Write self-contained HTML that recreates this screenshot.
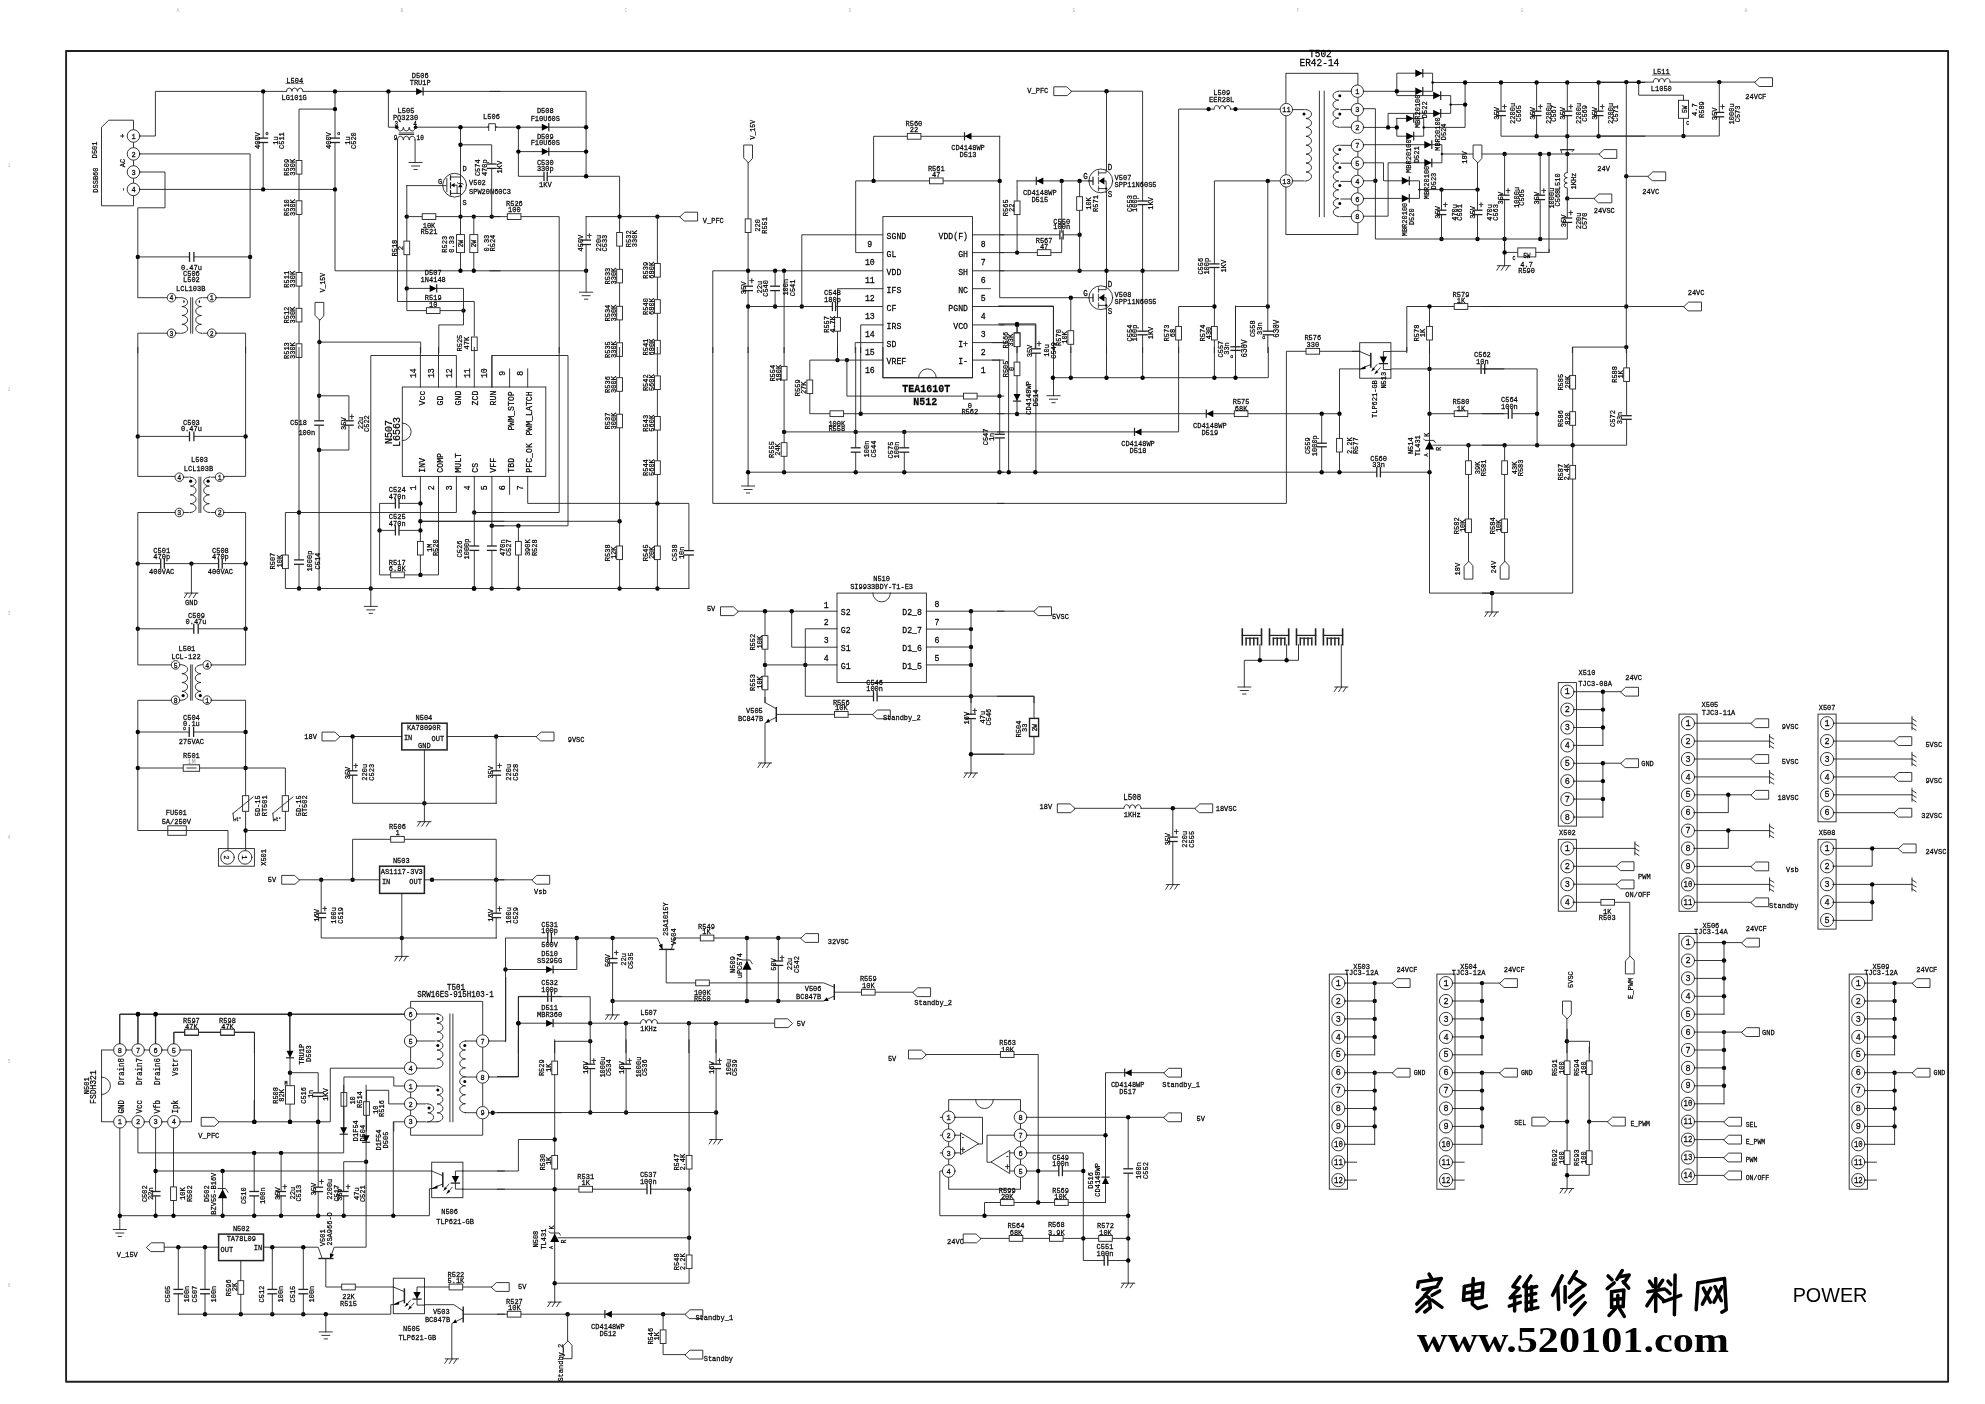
<!DOCTYPE html>
<html><head><meta charset="utf-8"><title>POWER</title>
<style>
html,body{margin:0;padding:0;background:#fff}
svg{display:block;will-change:transform;transform:translateZ(0)}
svg *{vector-effect:none}
text{font-family:"Liberation Mono",monospace;font-size:7px;fill:#000;stroke:#000;stroke-width:0.22px;text-anchor:middle}
polyline,path.n{fill:none}
.b{fill:#fff}
.wf{fill:#fff;stroke:none}
.d{fill:#000;stroke:none}
.g{fill:#bbb;stroke:none}
.g2{fill:#999;stroke:none}
.bd{font-weight:bold}
</style></head><body>
<svg width="1985" height="1404" viewBox="0 0 1985 1404" stroke="#222" stroke-width="0.9" stroke-linecap="square" fill="none">
<rect x="0" y="0" width="1985" height="1404" class="wf"/>
<rect x="66.1" y="51" width="1882" height="1330.7" stroke="#202020" stroke-width="1.9" stroke-linejoin="round" fill="none"/>
<polyline points="133.5,129.7 133.5,120.2 108.8,120.2 101.5,127.2 101.5,205.8 133.5,205.8 133.5,195.7"/>
<polyline points="133.5,142.3 133.5,147.6"/>
<polyline points="133.5,160.2 133.5,165.7"/>
<polyline points="133.5,178.3 133.5,183.1"/>
<circle cx="133.5" cy="136.0" r="6.3" class="b"/>
<text transform="translate(133.5 136.0) scale(1 1.15)" y="2.3">1</text>
<circle cx="133.5" cy="153.9" r="6.3" class="b"/>
<text transform="translate(133.5 153.9) scale(1 1.15)" y="2.3">2</text>
<circle cx="133.5" cy="172.0" r="6.3" class="b"/>
<text transform="translate(133.5 172.0) scale(1 1.15)" y="2.3">3</text>
<circle cx="133.5" cy="189.4" r="6.3" class="b"/>
<text transform="translate(133.5 189.4) scale(1 1.15)" y="2.3">4</text>
<text transform="translate(94.5 149.9) rotate(-90) scale(1 1.15)" y="2.3">D501</text>
<text transform="translate(95.2 180.1) rotate(-90) scale(1 1.15)" y="2.3">DSSB60</text>
<text transform="translate(122.7 163.0) rotate(-90) scale(1 1.15)" y="2.3">AC</text>
<text transform="translate(121.9 136.0) rotate(-90) scale(1 1.15)" y="2.3">+</text>
<text transform="translate(121.9 189.4) rotate(-90) scale(1 1.15)" y="2.3">-</text>
<polyline points="139.8,136.0 155.4,136.0 155.4,91.4 286.4,91.4"/>
<polyline points="303.0,91.4 416.1,91.4"/>
<rect x="286.4" y="89.9" width="16.6" height="3" class="wf"/>
<path d="M286.4 91.4 a2.77 3.6 0 0 1 5.53 0 a2.77 3.6 0 0 1 5.53 0 a2.77 3.6 0 0 1 5.53 0" class="n"/>
<polyline points="139.8,153.9 250.1,153.9 250.1,297.7 216.1,297.7"/>
<polyline points="139.8,172.0 165.0,172.0 165.0,207.8 137.8,207.8 137.8,297.7 167.3,297.7"/>
<polyline points="139.8,189.4 335.0,189.4"/>
<polyline points="263.2,91.4 263.2,189.4"/>
<rect x="261.2" y="138.1" width="4" height="4.4" class="wf"/>
<line x1="258.9" y1="138.1" x2="267.5" y2="138.1" stroke-width="1.3"/>
<line x1="258.9" y1="142.5" x2="267.5" y2="142.5" stroke-width="1.3"/>
<polyline points="335.0,91.4 335.0,270.8 500.0,270.8"/>
<rect x="333.0" y="138.1" width="4" height="4.4" class="wf"/>
<line x1="330.7" y1="138.1" x2="339.3" y2="138.1" stroke-width="1.3"/>
<line x1="330.7" y1="142.5" x2="339.3" y2="142.5" stroke-width="1.3"/>
<polyline points="335.0,109.1 299.0,109.1 299.0,352.6"/>
<circle cx="263.2" cy="91.4" r="2.2" class="d"/>
<circle cx="335.0" cy="91.4" r="2.2" class="d"/>
<circle cx="388.4" cy="91.4" r="2.2" class="d"/>
<circle cx="335.0" cy="109.1" r="2.2" class="d"/>
<circle cx="263.2" cy="189.4" r="2.2" class="d"/>
<circle cx="335.0" cy="189.4" r="2.2" class="d"/>
<circle cx="137.8" cy="256.9" r="2.2" class="d"/>
<circle cx="250.1" cy="256.9" r="2.2" class="d"/>
<polyline points="137.8,256.9 250.1,256.9"/>
<rect x="189.5" y="254.9" width="4.4" height="4" class="wf"/>
<line x1="189.5" y1="252.6" x2="189.5" y2="261.2" stroke-width="1.3"/>
<line x1="193.9" y1="252.6" x2="193.9" y2="261.2" stroke-width="1.3"/>
<text transform="translate(191.4 267.8) scale(1 1.15)" y="2.3">0.47u</text>
<text transform="translate(191.4 273.3) scale(1 1.15)" y="2.3">C506</text>
<text transform="translate(191.4 279.6) scale(1 1.15)" y="2.3">L502</text>
<text transform="translate(190.7 288.4) scale(1 1.15)" y="2.3">LCL103B</text>
<circle cx="171.5" cy="297.7" r="4.3" class="b"/>
<text transform="translate(171.5 297.7) scale(1 1.15)" y="2.3" style="font-size:6.5px;">4</text>
<circle cx="211.8" cy="297.7" r="4.3" class="b"/>
<text transform="translate(211.8 297.7) scale(1 1.15)" y="2.3" style="font-size:6.5px;">1</text>
<circle cx="171.5" cy="333.2" r="4.3" class="b"/>
<text transform="translate(171.5 333.2) scale(1 1.15)" y="2.3" style="font-size:6.5px;">3</text>
<circle cx="211.8" cy="333.2" r="4.3" class="b"/>
<text transform="translate(211.8 333.2) scale(1 1.15)" y="2.3" style="font-size:6.5px;">2</text>
<polyline points="190.7,297.7 190.7,333.2"/>
<polyline points="192.7,297.7 192.7,333.2"/>
<circle cx="183.1" cy="301.5" r="1.6" class="d"/>
<circle cx="200.3" cy="301.5" r="1.6" class="d"/>
<polyline points="175.8,297.7 181.9,297.7"/>
<polyline points="175.8,333.2 181.9,333.2"/>
<polyline points="207.6,297.7 201.5,297.7"/>
<polyline points="207.6,333.2 201.5,333.2"/>
<rect x="180.4" y="297.7" width="3" height="35.5" class="wf"/>
<path d="M181.9 297.7 a5.77 4.44 0 0 1 0 8.88 a5.77 4.44 0 0 1 0 8.88 a5.77 4.44 0 0 1 0 8.88 a5.77 4.44 0 0 1 0 8.88" class="n"/>
<rect x="200.0" y="297.7" width="3" height="35.5" class="wf"/>
<path d="M201.5 297.7 a5.77 4.44 0 0 0 0 8.88 a5.77 4.44 0 0 0 0 8.88 a5.77 4.44 0 0 0 0 8.88 a5.77 4.44 0 0 0 0 8.88" class="n"/>
<polyline points="167.3,333.2 137.8,333.2 137.8,352.6"/>
<polyline points="216.1,333.2 245.6,333.2 245.6,352.6"/>
<rect x="296.1" y="160.5" width="5.8" height="13.6" class="b"/>
<rect x="296.1" y="200.8" width="5.8" height="13.6" class="b"/>
<rect x="296.1" y="272.5" width="5.8" height="13.6" class="b"/>
<rect x="296.1" y="308.3" width="5.8" height="13.6" class="b"/>
<rect x="296.1" y="343.8" width="5.8" height="13.6" class="b"/>
<text transform="translate(286.4 167.3) rotate(-90) scale(1 1.15)" y="2.3">R509</text>
<text transform="translate(292.2 167.3) rotate(-90) scale(1 1.15)" y="2.3">330K</text>
<text transform="translate(286.4 207.6) rotate(-90) scale(1 1.15)" y="2.3">R510</text>
<text transform="translate(292.2 207.6) rotate(-90) scale(1 1.15)" y="2.3">330K</text>
<text transform="translate(286.4 279.3) rotate(-90) scale(1 1.15)" y="2.3">R511</text>
<text transform="translate(292.2 279.3) rotate(-90) scale(1 1.15)" y="2.3">330K</text>
<text transform="translate(286.4 315.1) rotate(-90) scale(1 1.15)" y="2.3">R512</text>
<text transform="translate(292.2 315.1) rotate(-90) scale(1 1.15)" y="2.3">330K</text>
<text transform="translate(286.4 350.6) rotate(-90) scale(1 1.15)" y="2.3">R513</text>
<text transform="translate(292.2 350.6) rotate(-90) scale(1 1.15)" y="2.3">330K</text>
<text transform="translate(256.9 140.6) rotate(-90) scale(1 1.15)" y="2.3">400V</text>
<text transform="translate(275.1 140.6) rotate(-90) scale(1 1.15)" y="2.3">1u</text>
<text transform="translate(281.6 140.6) rotate(-90) scale(1 1.15)" y="2.3">C511</text>
<text transform="translate(267.0 132.7) scale(1 1.15)" y="2.3" style="font-size:5px;">o</text>
<text transform="translate(328.7 140.6) rotate(-90) scale(1 1.15)" y="2.3">400V</text>
<text transform="translate(347.6 140.6) rotate(-90) scale(1 1.15)" y="2.3">1u</text>
<text transform="translate(353.1 140.6) rotate(-90) scale(1 1.15)" y="2.3">C520</text>
<text transform="translate(338.8 132.7) scale(1 1.15)" y="2.3" style="font-size:5px;">o</text>
<text transform="translate(294.7 80.6) scale(1 1.15)" y="2.3">L504</text>
<polyline points="285.9,83.6 303.5,83.6" stroke-width="0.6"/>
<text transform="translate(294.2 97.0) scale(1 1.15)" y="2.3">LG101G</text>
<text transform="translate(420.2 75.6) scale(1 1.15)" y="2.3">D506</text>
<text transform="translate(420.2 82.1) scale(1 1.15)" y="2.3">TRU1P</text>
<polygon points="416.1,87.9 416.1,94.9 423.1,91.4" class="d"/>
<line x1="423.1" y1="87.9" x2="423.1" y2="94.9" stroke-width="1.2"/>
<polyline points="423.2,91.4 500.0,91.4"/>
<polyline points="388.4,91.4 388.4,127.2 396.7,127.2"/>
<text transform="translate(406.0 110.8) scale(1 1.15)" y="2.3">L505</text>
<text transform="translate(405.5 117.4) scale(1 1.15)" y="2.3">PQ3230</text>
<rect x="397.5" y="125.7" width="17.6" height="3" class="wf"/>
<path d="M397.5 127.2 a2.93 3.81 0 0 0 5.87 0 a2.93 3.81 0 0 0 5.87 0 a2.93 3.81 0 0 0 5.87 0" class="n"/>
<rect x="397.5" y="138.6" width="17.6" height="3" class="wf"/>
<path d="M397.5 140.1 a2.93 3.81 0 0 1 5.87 0 a2.93 3.81 0 0 1 5.87 0 a2.93 3.81 0 0 1 5.87 0" class="n"/>
<polyline points="399.2,133.0 413.6,133.0"/>
<polyline points="399.2,134.5 413.6,134.5"/>
<text transform="translate(395.5 137.5) scale(1 1.15)" y="2.3" style="font-size:6px;">9</text>
<text transform="translate(420.2 137.5) scale(1 1.15)" y="2.3" style="font-size:6px;">10</text>
<text transform="translate(396.2 123.4) scale(1 1.15)" y="2.3" style="font-size:6px;">3</text>
<text transform="translate(415.1 123.4) scale(1 1.15)" y="2.3" style="font-size:6px;">4</text>
<circle cx="396.7" cy="127.2" r="1.8" class="d"/>
<circle cx="415.6" cy="127.2" r="1.8" class="d"/>
<polyline points="415.6,127.2 488.7,127.2"/>
<polyline points="415.1,140.1 415.1,162.5"/>
<line x1="409.1" y1="162.5" x2="422.1" y2="162.5"/>
<line x1="411.6" y1="166.0" x2="419.6" y2="166.0"/>
<line x1="414.0" y1="169.5" x2="417.2" y2="169.5"/>
<polyline points="397.5,140.1 397.5,301.5 474.3,301.5 474.3,335.8"/>
<polyline points="460.5,127.2 460.5,270.8"/>
<circle cx="454.6" cy="185.2" r="11.9"/>
<polyline points="406.8,185.6 446.6,185.6"/>
<line x1="446.8" y1="178.7" x2="446.8" y2="191.7" stroke-width="1.2" stroke="#555"/>
<line x1="450.5" y1="175.8" x2="450.5" y2="179.9" stroke-width="1.2"/>
<line x1="450.5" y1="182.7" x2="450.5" y2="188.1" stroke-width="1.2"/>
<line x1="450.5" y1="190.5" x2="450.5" y2="195.0" stroke-width="1.2"/>
<line x1="450.5" y1="177.0" x2="460.4" y2="177.0"/>
<line x1="450.5" y1="193.4" x2="460.4" y2="193.4"/>
<polygon points="450.9,185.2 454.6,183.1 454.6,187.3" class="d"/>
<polyline points="454.6,185.2 457.1,185.2 457.1,193.4"/>
<polygon points="460.4,183.6 458.1,187.2 462.6,187.2" class="d"/>
<polyline points="457.6,182.6 458.2,183.5 462.5,183.5 463.1,184.4"/>
<text transform="translate(440.1 181.4) scale(1 1.15)" y="2.3">G</text>
<text transform="translate(464.7 168.3) scale(1 1.15)" y="2.3">D</text>
<text transform="translate(464.7 202.8) scale(1 1.15)" y="2.3">S</text>
<text transform="translate(469.0 181.9) scale(1 1.15)" y="2.3" style="text-anchor:start;">V502</text>
<text transform="translate(469.0 190.9) scale(1 1.15)" y="2.3" style="text-anchor:start;">SPW20N60C3</text>
<circle cx="460.5" cy="127.2" r="2.2" class="d"/>
<circle cx="460.5" cy="144.8" r="2.2" class="d"/>
<circle cx="406.8" cy="216.6" r="2.2" class="d"/>
<circle cx="460.5" cy="216.6" r="2.2" class="d"/>
<circle cx="473.8" cy="216.6" r="2.2" class="d"/>
<circle cx="491.7" cy="216.6" r="2.2" class="d"/>
<circle cx="460.5" cy="270.8" r="2.2" class="d"/>
<circle cx="473.8" cy="270.8" r="2.2" class="d"/>
<circle cx="406.8" cy="288.4" r="2.2" class="d"/>
<circle cx="463.5" cy="310.6" r="2.2" class="d"/>
<polyline points="460.5,144.8 491.7,144.8 491.7,216.6"/>
<polyline points="406.8,185.6 406.8,310.6 426.4,310.6"/>
<polyline points="440.3,310.6 463.5,310.6"/>
<polyline points="406.8,216.6 500.0,216.6"/>
<rect x="422.2" y="213.7" width="13.6" height="5.8" class="b"/>
<polyline points="473.8,216.6 473.8,270.8"/>
<rect x="456.5" y="234.6" width="8" height="18" class="b"/>
<rect x="469.8" y="234.6" width="8" height="18" class="b"/>
<text transform="translate(429.0 225.4) scale(1 1.15)" y="2.3">10K</text>
<text transform="translate(429.0 231.7) scale(1 1.15)" y="2.3">R521</text>
<text transform="translate(444.6 244.3) rotate(-90) scale(1 1.15)" y="2.3">R523</text>
<text transform="translate(450.9 244.3) rotate(-90) scale(1 1.15)" y="2.3">0.33</text>
<text transform="translate(460.5 243.6) rotate(-90) scale(1 1.15)" y="2.3" style="font-size:6px;">2W</text>
<text transform="translate(473.8 243.6) rotate(-90) scale(1 1.15)" y="2.3" style="font-size:6px;">2W</text>
<text transform="translate(486.1 243.1) rotate(-90) scale(1 1.15)" y="2.3">0.33</text>
<text transform="translate(492.4 243.1) rotate(-90) scale(1 1.15)" y="2.3">R524</text>
<rect x="403.9" y="241.1" width="5.8" height="13.6" class="b"/>
<text transform="translate(394.2 248.1) rotate(-90) scale(1 1.15)" y="2.3">R518</text>
<text transform="translate(400.5 248.1) rotate(-90) scale(1 1.15)" y="2.3">2</text>
<polyline points="406.8,288.4 463.5,288.4 463.5,324.9 438.8,324.9 438.8,352.6"/>
<polygon points="429.7,284.9 429.7,291.9 436.7,288.4" class="d"/>
<line x1="436.7" y1="284.9" x2="436.7" y2="291.9" stroke-width="1.2"/>
<rect x="426.4" y="307.7" width="13.6" height="5.8" class="b"/>
<text transform="translate(433.2 272.8) scale(1 1.15)" y="2.3">D507</text>
<text transform="translate(433.2 279.6) scale(1 1.15)" y="2.3">1N4148</text>
<text transform="translate(433.2 297.7) scale(1 1.15)" y="2.3">R519</text>
<text transform="translate(433.2 304.8) scale(1 1.15)" y="2.3">10</text>
<rect x="471.4" y="337.0" width="5.8" height="13.6" class="b"/>
<text transform="translate(459.7 343.1) rotate(-90) scale(1 1.15)" y="2.3">R525</text>
<text transform="translate(466.0 343.1) rotate(-90) scale(1 1.15)" y="2.3">47K</text>
<text transform="translate(322.4 282.6) rotate(-90) scale(1 1.15)" y="2.3" style="font-size:6.5px;">V_15V</text>
<polygon points="319.4,319.9 315.0,315.3 315.0,302.4 323.8,302.4 323.8,315.3" class="b"/>
<polyline points="319.4,319.9 319.4,342.1 420.7,342.1 420.7,352.6"/>
<circle cx="319.4" cy="342.1" r="2.2" class="d"/>
<rect x="489.7" y="164.0" width="4" height="4.4" class="wf"/>
<line x1="487.4" y1="164.0" x2="496.0" y2="164.0" stroke-width="1.3"/>
<line x1="487.4" y1="168.4" x2="496.0" y2="168.4" stroke-width="1.3"/>
<polyline points="489.9,91.4 586.1,91.4 586.1,176.3"/>
<polyline points="489.9,127.2 586.1,127.2"/>
<polyline points="518.4,127.2 518.4,176.3 586.1,176.3 619.6,176.3 619.6,352.6"/>
<polyline points="518.4,151.6 586.1,151.6"/>
<circle cx="518.4" cy="127.2" r="2.2" class="d"/>
<circle cx="586.1" cy="127.2" r="2.2" class="d"/>
<circle cx="518.4" cy="151.6" r="2.2" class="d"/>
<circle cx="586.1" cy="151.6" r="2.2" class="d"/>
<circle cx="586.1" cy="176.3" r="2.2" class="d"/>
<circle cx="619.6" cy="216.6" r="2.2" class="d"/>
<circle cx="657.4" cy="216.6" r="2.2" class="d"/>
<circle cx="586.1" cy="270.8" r="2.2" class="d"/>
<polygon points="541.8,123.7 541.8,130.7 548.8,127.2" class="d"/>
<line x1="548.8" y1="123.7" x2="548.8" y2="130.7" stroke-width="1.2"/>
<polygon points="541.8,148.1 541.8,155.1 548.8,151.6" class="d"/>
<line x1="548.8" y1="148.1" x2="548.8" y2="155.1" stroke-width="1.2"/>
<rect x="544.0" y="174.3" width="3.2" height="4" class="wf"/>
<line x1="544.0" y1="172.3" x2="544.0" y2="180.3" stroke-width="1.3"/>
<line x1="547.2" y1="172.3" x2="547.2" y2="180.3" stroke-width="1.3"/>
<text transform="translate(545.3 110.8) scale(1 1.15)" y="2.3">D508</text>
<text transform="translate(545.3 117.9) scale(1 1.15)" y="2.3">F10U60S</text>
<text transform="translate(545.3 136.0) scale(1 1.15)" y="2.3">D509</text>
<text transform="translate(545.3 142.8) scale(1 1.15)" y="2.3">F10U60S</text>
<text transform="translate(545.3 162.5) scale(1 1.15)" y="2.3">C530</text>
<text transform="translate(545.3 168.3) scale(1 1.15)" y="2.3">330p</text>
<text transform="translate(545.3 183.9) scale(1 1.15)" y="2.3">1KV</text>
<text transform="translate(514.4 203.0) scale(1 1.15)" y="2.3">R526</text>
<text transform="translate(514.4 209.8) scale(1 1.15)" y="2.3">100</text>
<polyline points="489.9,216.6 559.2,216.6 559.2,352.6"/>
<rect x="507.3" y="213.7" width="13.6" height="5.8" class="b"/>
<polyline points="586.1,216.6 680.1,216.6"/>
<polygon points="680.1,216.6 684.7,212.2 697.6,212.2 697.6,221.0 684.7,221.0" class="b"/>
<text transform="translate(702.8 219.9) scale(1 1.15)" y="2.3" style="text-anchor:start;">V_PFC</text>
<polyline points="586.1,216.6 586.1,292.2"/>
<rect x="584.1" y="240.1" width="4" height="4.4" class="wf"/>
<line x1="581.8" y1="240.1" x2="590.4" y2="240.1" stroke-width="1.3"/>
<line x1="581.8" y1="244.5" x2="590.4" y2="244.5" stroke-width="1.3"/>
<line x1="579.6" y1="292.2" x2="592.6" y2="292.2"/>
<line x1="582.1" y1="295.7" x2="590.1" y2="295.7"/>
<line x1="584.5" y1="299.2" x2="587.7" y2="299.2"/>
<polyline points="489.9,270.8 586.1,270.8"/>
<text transform="translate(580.6 243.1) rotate(-90) scale(1 1.15)" y="2.3">450V</text>
<text transform="translate(589.4 236.8) scale(1 1.15)" y="2.3" style="font-size:8.5px;">+</text>
<text transform="translate(598.2 243.1) rotate(-90) scale(1 1.15)" y="2.3">220u</text>
<text transform="translate(604.0 243.1) rotate(-90) scale(1 1.15)" y="2.3">C533</text>
<rect x="616.7" y="232.5" width="5.8" height="13.6" class="b"/>
<rect x="616.7" y="269.3" width="5.8" height="13.6" class="b"/>
<text transform="translate(607.8 276.1) rotate(-90) scale(1 1.15)" y="2.3">R533</text>
<text transform="translate(613.4 276.1) rotate(-90) scale(1 1.15)" y="2.3">330K</text>
<rect x="616.7" y="306.3" width="5.8" height="13.6" class="b"/>
<text transform="translate(607.8 313.1) rotate(-90) scale(1 1.15)" y="2.3">R534</text>
<text transform="translate(613.4 313.1) rotate(-90) scale(1 1.15)" y="2.3">330K</text>
<rect x="616.7" y="342.8" width="5.8" height="13.6" class="b"/>
<text transform="translate(607.8 349.6) rotate(-90) scale(1 1.15)" y="2.3">R535</text>
<text transform="translate(613.4 349.6) rotate(-90) scale(1 1.15)" y="2.3">330K</text>
<text transform="translate(628.0 238.8) rotate(-90) scale(1 1.15)" y="2.3">R532</text>
<text transform="translate(634.5 238.8) rotate(-90) scale(1 1.15)" y="2.3">330K</text>
<polyline points="657.4,216.6 657.4,352.6"/>
<rect x="654.5" y="263.5" width="5.8" height="13.6" class="b"/>
<text transform="translate(645.3 270.3) rotate(-90) scale(1 1.15)" y="2.3">R539</text>
<text transform="translate(651.1 270.3) rotate(-90) scale(1 1.15)" y="2.3">680K</text>
<rect x="654.5" y="299.7" width="5.8" height="13.6" class="b"/>
<text transform="translate(645.3 306.5) rotate(-90) scale(1 1.15)" y="2.3">R540</text>
<text transform="translate(651.1 306.5) rotate(-90) scale(1 1.15)" y="2.3">680K</text>
<rect x="654.5" y="340.3" width="5.8" height="13.6" class="b"/>
<text transform="translate(645.3 347.1) rotate(-90) scale(1 1.15)" y="2.3">R541</text>
<text transform="translate(651.1 347.1) rotate(-90) scale(1 1.15)" y="2.3">680K</text>
<text transform="translate(752.6 129.7) rotate(-90) scale(1 1.15)" y="2.3" style="font-size:6.5px;">V_15V</text>
<polygon points="748.1,162.5 743.7,157.9 743.7,145.0 752.5,145.0 752.5,157.9" class="b"/>
<polyline points="748.1,162.5 748.1,352.6"/>
<rect x="745.2" y="218.9" width="5.8" height="13.6" class="b"/>
<text transform="translate(757.4 225.4) rotate(-90) scale(1 1.15)" y="2.3">220</text>
<text transform="translate(764.5 225.4) rotate(-90) scale(1 1.15)" y="2.3">R551</text>
<polyline points="712.8,352.6 712.8,270.8 882.9,270.8"/>
<circle cx="748.1" cy="270.8" r="2.2" class="d"/>
<circle cx="775.1" cy="270.8" r="2.2" class="d"/>
<circle cx="784.1" cy="270.8" r="2.2" class="d"/>
<circle cx="748.1" cy="306.5" r="2.2" class="d"/>
<circle cx="775.1" cy="306.5" r="2.2" class="d"/>
<circle cx="801.8" cy="306.5" r="2.2" class="d"/>
<rect x="746.1" y="286.2" width="4" height="4.4" class="wf"/>
<line x1="743.8" y1="286.2" x2="752.4" y2="286.2" stroke-width="1.3"/>
<line x1="743.8" y1="290.6" x2="752.4" y2="290.6" stroke-width="1.3"/>
<polyline points="775.1,270.8 775.1,306.5"/>
<rect x="773.1" y="286.2" width="4" height="4.4" class="wf"/>
<line x1="770.8" y1="286.2" x2="779.4" y2="286.2" stroke-width="1.3"/>
<line x1="770.8" y1="290.6" x2="779.4" y2="290.6" stroke-width="1.3"/>
<polyline points="784.1,270.8 784.1,352.6"/>
<polyline points="748.1,306.5 882.9,306.5"/>
<rect x="832.4" y="304.5" width="3.2" height="4" class="wf"/>
<line x1="832.4" y1="302.5" x2="832.4" y2="310.5" stroke-width="1.3"/>
<line x1="835.6" y1="302.5" x2="835.6" y2="310.5" stroke-width="1.3"/>
<polyline points="801.8,306.5 801.8,234.8 882.9,234.8"/>
<text transform="translate(743.1 287.9) rotate(-90) scale(1 1.15)" y="2.3">35V</text>
<text transform="translate(751.9 281.6) scale(1 1.15)" y="2.3" style="font-size:8.5px;">+</text>
<text transform="translate(759.4 287.2) rotate(-90) scale(1 1.15)" y="2.3">22u</text>
<text transform="translate(765.0 288.4) rotate(-90) scale(1 1.15)" y="2.3">C540</text>
<text transform="translate(785.4 287.2) rotate(-90) scale(1 1.15)" y="2.3">100n</text>
<text transform="translate(792.2 287.9) rotate(-90) scale(1 1.15)" y="2.3">C541</text>
<rect x="882.9" y="216.6" width="89.6" height="161.2" class="b"/>
<text transform="translate(886.6 236.3) scale(1 1.15)" y="2.3" style="text-anchor:start;font-size:8.2px;">SGND</text>
<text transform="translate(968.0 236.3) scale(1 1.15)" y="2.3" style="text-anchor:end;font-size:8.2px;">VDD(F)</text>
<text transform="translate(886.6 254.2) scale(1 1.15)" y="2.3" style="text-anchor:start;font-size:8.2px;">GL</text>
<text transform="translate(968.0 254.2) scale(1 1.15)" y="2.3" style="text-anchor:end;font-size:8.2px;">GH</text>
<text transform="translate(886.6 272.2) scale(1 1.15)" y="2.3" style="text-anchor:start;font-size:8.2px;">VDD</text>
<text transform="translate(968.0 272.2) scale(1 1.15)" y="2.3" style="text-anchor:end;font-size:8.2px;">SH</text>
<text transform="translate(886.6 290.2) scale(1 1.15)" y="2.3" style="text-anchor:start;font-size:8.2px;">IFS</text>
<text transform="translate(968.0 290.2) scale(1 1.15)" y="2.3" style="text-anchor:end;font-size:8.2px;">NC</text>
<text transform="translate(886.6 308.1) scale(1 1.15)" y="2.3" style="text-anchor:start;font-size:8.2px;">CF</text>
<text transform="translate(968.0 308.1) scale(1 1.15)" y="2.3" style="text-anchor:end;font-size:8.2px;">PGND</text>
<text transform="translate(886.6 326.1) scale(1 1.15)" y="2.3" style="text-anchor:start;font-size:8.2px;">IRS</text>
<text transform="translate(968.0 326.1) scale(1 1.15)" y="2.3" style="text-anchor:end;font-size:8.2px;">VCO</text>
<text transform="translate(886.6 344.0) scale(1 1.15)" y="2.3" style="text-anchor:start;font-size:8.2px;">SD</text>
<text transform="translate(968.0 344.0) scale(1 1.15)" y="2.3" style="text-anchor:end;font-size:8.2px;">I+</text>
<text transform="translate(869.8 244.8) scale(1 1.15)" y="2.3" style="font-size:8.2px;">9</text>
<text transform="translate(983.1 244.8) scale(1 1.15)" y="2.3" style="font-size:8.2px;">8</text>
<text transform="translate(869.8 262.8) scale(1 1.15)" y="2.3" style="font-size:8.2px;">10</text>
<text transform="translate(983.1 262.8) scale(1 1.15)" y="2.3" style="font-size:8.2px;">7</text>
<text transform="translate(869.8 280.8) scale(1 1.15)" y="2.3" style="font-size:8.2px;">11</text>
<text transform="translate(983.1 280.8) scale(1 1.15)" y="2.3" style="font-size:8.2px;">6</text>
<text transform="translate(869.8 298.7) scale(1 1.15)" y="2.3" style="font-size:8.2px;">12</text>
<text transform="translate(983.1 298.7) scale(1 1.15)" y="2.3" style="font-size:8.2px;">5</text>
<text transform="translate(869.8 316.7) scale(1 1.15)" y="2.3" style="font-size:8.2px;">13</text>
<text transform="translate(983.1 316.7) scale(1 1.15)" y="2.3" style="font-size:8.2px;">4</text>
<text transform="translate(869.8 334.6) scale(1 1.15)" y="2.3" style="font-size:8.2px;">14</text>
<text transform="translate(983.1 334.6) scale(1 1.15)" y="2.3" style="font-size:8.2px;">3</text>
<polyline points="972.5,234.8 1003.8,234.8"/>
<polyline points="972.5,252.6 1003.8,252.6"/>
<polyline points="972.5,270.8 1003.8,270.8"/>
<polyline points="972.5,306.5 1003.8,306.5"/>
<polyline points="972.5,324.9 1003.8,324.9"/>
<polyline points="972.5,342.6 1003.8,342.6"/>
<polyline points="972.5,288.7 990.4,288.7"/>
<polyline points="882.9,252.6 855.7,252.6 855.7,180.9 929.5,180.9"/>
<polyline points="943.3,180.9 999.7,180.9"/>
<rect x="929.5" y="178.0" width="13.6" height="5.8" class="b"/>
<polyline points="873.6,180.9 873.6,136.3 999.7,136.3"/>
<rect x="907.3" y="133.4" width="13.6" height="5.8" class="b"/>
<polygon points="971.5,132.8 971.5,139.8 964.5,136.3" class="d"/>
<line x1="964.5" y1="132.8" x2="964.5" y2="139.8" stroke-width="1.2"/>
<circle cx="873.6" cy="180.9" r="2.2" class="d"/>
<text transform="translate(913.9 123.4) scale(1 1.15)" y="2.3">R560</text>
<text transform="translate(913.9 129.2) scale(1 1.15)" y="2.3">22</text>
<text transform="translate(968.0 147.6) scale(1 1.15)" y="2.3">CD4148WP</text>
<text transform="translate(968.0 154.2) scale(1 1.15)" y="2.3">D513</text>
<text transform="translate(936.3 168.0) scale(1 1.15)" y="2.3">R561</text>
<text transform="translate(936.3 174.3) scale(1 1.15)" y="2.3">47</text>
<polyline points="882.9,288.7 837.5,288.7 837.5,352.6"/>
<rect x="834.6" y="317.6" width="5.8" height="13.6" class="b"/>
<text transform="translate(832.5 292.2) scale(1 1.15)" y="2.3">C548</text>
<text transform="translate(832.5 299.0) scale(1 1.15)" y="2.3">180p</text>
<text transform="translate(826.2 324.4) rotate(-90) scale(1 1.15)" y="2.3">R557</text>
<text transform="translate(832.0 324.4) rotate(-90) scale(1 1.15)" y="2.3">4.7K</text>
<polyline points="882.9,324.9 860.7,324.9 860.7,352.6"/>
<polyline points="882.9,342.6 855.2,342.6 855.2,352.6"/>
<text transform="translate(178.0 9.0) scale(1 1.15)" y="2.3" style="font-size:5px;" class="g">A</text>
<text transform="translate(402.0 9.0) scale(1 1.15)" y="2.3" style="font-size:5px;" class="g">B</text>
<text transform="translate(626.0 9.0) scale(1 1.15)" y="2.3" style="font-size:5px;" class="g">C</text>
<text transform="translate(850.0 9.0) scale(1 1.15)" y="2.3" style="font-size:5px;" class="g">D</text>
<text transform="translate(1074.0 9.0) scale(1 1.15)" y="2.3" style="font-size:5px;" class="g">E</text>
<text transform="translate(1298.0 9.0) scale(1 1.15)" y="2.3" style="font-size:5px;" class="g">F</text>
<text transform="translate(1522.0 9.0) scale(1 1.15)" y="2.3" style="font-size:5px;" class="g">G</text>
<text transform="translate(1746.0 9.0) scale(1 1.15)" y="2.3" style="font-size:5px;" class="g">H</text>
<polyline points="999.7,136.3 999.7,297.7 1091.9,297.7"/>
<circle cx="999.7" cy="180.9" r="2.2" class="d"/>
<circle cx="1070.8" cy="297.7" r="2.2" class="d"/>
<text transform="translate(1037.8 90.7) scale(1 1.15)" y="2.3">V_PFC</text>
<polygon points="1071.3,91.2 1066.7,86.8 1053.8,86.8 1053.8,95.6 1066.7,95.6" class="b"/>
<polyline points="1071.3,91.2 1142.6,91.2 1142.6,352.6"/>
<circle cx="1106.5" cy="91.2" r="2.2" class="d"/>
<polyline points="1106.5,91.2 1106.5,171.3"/>
<polyline points="1106.5,188.9 1106.5,287.2"/>
<polyline points="1106.5,305.3 1106.5,352.6"/>
<circle cx="1100.8" cy="180.9" r="11.9" class="b"/>
<line x1="1088.3" y1="180.9" x2="1093.0" y2="180.9"/>
<line x1="1093.0" y1="177.3" x2="1093.0" y2="184.5" stroke-width="1.2"/>
<line x1="1098.5" y1="171.1" x2="1098.5" y2="175.2" stroke-width="1.2" stroke="#666"/>
<line x1="1098.5" y1="177.5" x2="1098.5" y2="183.7" stroke-width="1.2" stroke="#666"/>
<line x1="1098.5" y1="186.2" x2="1098.5" y2="190.5" stroke-width="1.2" stroke="#666"/>
<polyline points="1098.5,172.9 1106.1,172.9 1106.1,169.4"/>
<polyline points="1098.5,188.6 1106.1,188.6"/>
<polyline points="1104.4,180.9 1106.1,180.9 1106.1,192.4"/>
<polygon points="1098.7,180.9 1104.4,177.3 1104.4,184.6" class="d"/>
<circle cx="1106.3" cy="188.6" r="1.1" class="d"/>
<text transform="translate(1085.5 176.7) scale(1 1.15)" y="2.3" style="font-size:7.5px;">G</text>
<text transform="translate(1110.1 167.2) scale(1 1.15)" y="2.3" style="font-size:7.5px;">D</text>
<text transform="translate(1110.1 194.1) scale(1 1.15)" y="2.3" style="font-size:7.5px;">S</text>
<text transform="translate(1114.6 177.1) scale(1 1.15)" y="2.3" style="text-anchor:start;">V507</text>
<text transform="translate(1114.6 184.7) scale(1 1.15)" y="2.3" style="text-anchor:start;">SPP11N60S5</text>
<circle cx="1100.8" cy="297.7" r="11.9" class="b"/>
<line x1="1088.3" y1="297.7" x2="1093.0" y2="297.7"/>
<line x1="1093.0" y1="294.1" x2="1093.0" y2="301.3" stroke-width="1.2"/>
<line x1="1098.5" y1="287.9" x2="1098.5" y2="292.0" stroke-width="1.2" stroke="#666"/>
<line x1="1098.5" y1="294.3" x2="1098.5" y2="300.5" stroke-width="1.2" stroke="#666"/>
<line x1="1098.5" y1="303.0" x2="1098.5" y2="307.3" stroke-width="1.2" stroke="#666"/>
<polyline points="1098.5,289.7 1106.1,289.7 1106.1,286.2"/>
<polyline points="1098.5,305.4 1106.1,305.4"/>
<polyline points="1104.4,297.7 1106.1,297.7 1106.1,309.2"/>
<polygon points="1098.7,297.7 1104.4,294.1 1104.4,301.4" class="d"/>
<circle cx="1106.3" cy="305.4" r="1.1" class="d"/>
<text transform="translate(1085.5 293.5) scale(1 1.15)" y="2.3" style="font-size:7.5px;">G</text>
<text transform="translate(1110.1 284.0) scale(1 1.15)" y="2.3" style="font-size:7.5px;">D</text>
<text transform="translate(1110.1 310.9) scale(1 1.15)" y="2.3" style="font-size:7.5px;">S</text>
<text transform="translate(1114.6 293.9) scale(1 1.15)" y="2.3" style="text-anchor:start;">V508</text>
<text transform="translate(1114.6 301.5) scale(1 1.15)" y="2.3" style="text-anchor:start;">SPP11N60S5</text>
<polyline points="1017.1,180.9 1091.9,180.9"/>
<polygon points="1043.3,177.4 1043.3,184.4 1036.3,180.9" class="d"/>
<line x1="1036.3" y1="177.4" x2="1036.3" y2="184.4" stroke-width="1.2"/>
<polyline points="1017.1,180.9 1017.1,252.6"/>
<rect x="1014.2" y="201.0" width="5.8" height="13.6" class="b"/>
<circle cx="1061.7" cy="180.9" r="2.2" class="d"/>
<circle cx="1079.6" cy="180.9" r="2.2" class="d"/>
<circle cx="1017.1" cy="252.6" r="2.2" class="d"/>
<circle cx="1079.6" cy="234.8" r="2.2" class="d"/>
<circle cx="1079.6" cy="270.8" r="2.2" class="d"/>
<circle cx="1106.5" cy="270.8" r="2.2" class="d"/>
<circle cx="1142.6" cy="270.8" r="2.2" class="d"/>
<polyline points="999.7,252.6 1061.7,252.6 1061.7,180.9"/>
<rect x="1037.3" y="249.7" width="13.6" height="5.8" class="b"/>
<polyline points="999.7,234.8 1079.6,234.8"/>
<rect x="1059.9" y="232.8" width="3.2" height="4" class="wf"/>
<line x1="1059.9" y1="230.8" x2="1059.9" y2="238.8" stroke-width="1.3"/>
<line x1="1063.1" y1="230.8" x2="1063.1" y2="238.8" stroke-width="1.3"/>
<polyline points="1079.6,180.9 1079.6,270.8"/>
<rect x="1076.7" y="196.7" width="5.8" height="13.6" class="b"/>
<polyline points="999.7,270.8 1178.6,270.8 1178.6,109.1 1214.1,109.1"/>
<rect x="1214.1" y="107.6" width="16.4" height="3" class="wf"/>
<path d="M1214.1 109.1 a2.73 3.55 0 0 1 5.47 0 a2.73 3.55 0 0 1 5.47 0 a2.73 3.55 0 0 1 5.47 0" class="n"/>
<polyline points="1230.5,109.1 1280.4,109.1"/>
<circle cx="1208.6" cy="109.1" r="2.2" class="d"/>
<circle cx="1235.5" cy="109.1" r="2.2" class="d"/>
<text transform="translate(1039.8 192.7) scale(1 1.15)" y="2.3">CD4148WP</text>
<text transform="translate(1039.8 199.5) scale(1 1.15)" y="2.3">D515</text>
<text transform="translate(1005.0 207.8) rotate(-90) scale(1 1.15)" y="2.3">R565</text>
<text transform="translate(1011.3 207.8) rotate(-90) scale(1 1.15)" y="2.3">22</text>
<text transform="translate(1061.7 220.9) scale(1 1.15)" y="2.3">C550</text>
<text transform="translate(1061.7 226.7) scale(1 1.15)" y="2.3">100n</text>
<text transform="translate(1044.1 240.6) scale(1 1.15)" y="2.3">R567</text>
<text transform="translate(1044.1 246.3) scale(1 1.15)" y="2.3">47</text>
<text transform="translate(1088.7 203.5) rotate(-90) scale(1 1.15)" y="2.3">10K</text>
<text transform="translate(1095.2 203.5) rotate(-90) scale(1 1.15)" y="2.3">R571</text>
<rect x="1140.6" y="201.0" width="4" height="3.6" class="wf"/>
<line x1="1138.1" y1="201.0" x2="1147.1" y2="201.0" stroke-width="1.3"/>
<line x1="1138.1" y1="204.6" x2="1147.1" y2="204.6" stroke-width="1.3"/>
<rect x="1140.6" y="331.2" width="4" height="3.6" class="wf"/>
<line x1="1138.1" y1="331.2" x2="1147.1" y2="331.2" stroke-width="1.3"/>
<line x1="1138.1" y1="334.8" x2="1147.1" y2="334.8" stroke-width="1.3"/>
<text transform="translate(1129.0 203.5) rotate(-90) scale(1 1.15)" y="2.3">C553</text>
<text transform="translate(1134.8 203.5) rotate(-90) scale(1 1.15)" y="2.3">100p</text>
<text transform="translate(1149.9 203.5) rotate(-90) scale(1 1.15)" y="2.3">1KV</text>
<text transform="translate(1129.0 333.0) rotate(-90) scale(1 1.15)" y="2.3">C554</text>
<text transform="translate(1134.8 333.0) rotate(-90) scale(1 1.15)" y="2.3">100p</text>
<text transform="translate(1149.9 333.0) rotate(-90) scale(1 1.15)" y="2.3">1KV</text>
<text transform="translate(1221.7 92.4) scale(1 1.15)" y="2.3">L509</text>
<text transform="translate(1221.7 99.5) scale(1 1.15)" y="2.3">EER28L</text>
<polyline points="1070.8,297.7 1070.8,352.6"/>
<rect x="1067.9" y="330.7" width="5.8" height="13.6" class="b"/>
<text transform="translate(1058.4 337.5) rotate(-90) scale(1 1.15)" y="2.3">R570</text>
<text transform="translate(1064.7 337.5) rotate(-90) scale(1 1.15)" y="2.3">10K</text>
<polyline points="999.7,306.5 1053.4,306.5 1053.4,352.6"/>
<polyline points="999.7,324.9 1035.3,324.9 1035.3,352.6"/>
<circle cx="1017.1" cy="324.9" r="2.2" class="d"/>
<polyline points="1017.1,324.9 1017.1,352.6"/>
<rect x="1014.2" y="332.7" width="5.8" height="13.6" class="b"/>
<text transform="translate(1005.0 340.1) rotate(-90) scale(1 1.15)" y="2.3">R566</text>
<text transform="translate(1010.6 340.1) rotate(-90) scale(1 1.15)" y="2.3">33K</text>
<polyline points="1280.4,180.9 1214.4,180.9 1214.4,352.6"/>
<circle cx="1267.8" cy="180.9" r="2.2" class="d"/>
<circle cx="1214.4" cy="306.5" r="2.2" class="d"/>
<circle cx="1267.8" cy="306.5" r="2.2" class="d"/>
<rect x="1212.4" y="263.9" width="4" height="3.6" class="wf"/>
<line x1="1209.9" y1="263.9" x2="1218.9" y2="263.9" stroke-width="1.3"/>
<line x1="1209.9" y1="267.5" x2="1218.9" y2="267.5" stroke-width="1.3"/>
<text transform="translate(1200.8 266.2) rotate(-90) scale(1 1.15)" y="2.3">C556</text>
<text transform="translate(1206.5 266.2) rotate(-90) scale(1 1.15)" y="2.3">100p</text>
<text transform="translate(1222.9 266.2) rotate(-90) scale(1 1.15)" y="2.3">1KV</text>
<polyline points="1267.8,180.9 1267.8,352.6"/>
<rect x="1265.8" y="331.2" width="4" height="3.6" class="wf"/>
<line x1="1263.3" y1="331.2" x2="1272.3" y2="331.2" stroke-width="1.3"/>
<line x1="1263.3" y1="334.8" x2="1272.3" y2="334.8" stroke-width="1.3"/>
<polyline points="1267.8,306.5 1235.5,306.5 1235.5,346.3"/>
<polyline points="1214.4,306.5 1178.6,306.5 1178.6,352.6"/>
<rect x="1175.7" y="326.4" width="5.8" height="13.6" class="b"/>
<rect x="1211.5" y="326.4" width="5.8" height="13.6" class="b"/>
<text transform="translate(1166.2 333.0) rotate(-90) scale(1 1.15)" y="2.3">R573</text>
<text transform="translate(1172.5 333.0) rotate(-90) scale(1 1.15)" y="2.3">68</text>
<text transform="translate(1202.3 333.0) rotate(-90) scale(1 1.15)" y="2.3">R574</text>
<text transform="translate(1208.6 333.0) rotate(-90) scale(1 1.15)" y="2.3">430</text>
<text transform="translate(1252.6 328.7) rotate(-90) scale(1 1.15)" y="2.3">C558</text>
<text transform="translate(1258.9 328.7) rotate(-90) scale(1 1.15)" y="2.3">33n</text>
<text transform="translate(1263.7 336.3) scale(1 1.15)" y="2.3" style="font-size:5px;">o</text>
<text transform="translate(1276.3 328.7) rotate(-90) scale(1 1.15)" y="2.3" style="font-size:7.5px;">630V</text>
<text transform="translate(1312.8 337.5) scale(1 1.15)" y="2.3">R576</text>
<text transform="translate(1312.8 344.3) scale(1 1.15)" y="2.3">330</text>
<rect x="1285.9" y="73.3" width="72.0" height="161.2" class="n2"/>
<text transform="translate(1320.4 54.2) scale(1 1.15)" y="2.3" style="font-size:9.5px;">T502</text>
<text transform="translate(1319.4 63.0) scale(1 1.15)" y="2.3" style="font-size:9.5px;">ER42-14</text>
<circle cx="1286.4" cy="109.6" r="6.2" class="b"/>
<text transform="translate(1286.4 109.6) scale(1 1.15)" y="2.3">11</text>
<circle cx="1286.4" cy="180.9" r="6.2" class="b"/>
<text transform="translate(1286.4 180.9) scale(1 1.15)" y="2.3">13</text>
<circle cx="1357.4" cy="91.2" r="6.2" class="b"/>
<text transform="translate(1357.4 91.2) scale(1 1.15)" y="2.3">1</text>
<polyline points="1351.4,91.2 1338.8,91.2"/>
<circle cx="1357.4" cy="109.6" r="6.2" class="b"/>
<text transform="translate(1357.4 109.6) scale(1 1.15)" y="2.3">3</text>
<polyline points="1351.4,109.6 1338.8,109.6"/>
<circle cx="1357.4" cy="127.2" r="6.2" class="b"/>
<text transform="translate(1357.4 127.2) scale(1 1.15)" y="2.3">2</text>
<polyline points="1351.4,127.2 1338.8,127.2"/>
<circle cx="1357.4" cy="145.3" r="6.2" class="b"/>
<text transform="translate(1357.4 145.3) scale(1 1.15)" y="2.3">7</text>
<polyline points="1351.4,145.3 1338.8,145.3"/>
<circle cx="1357.4" cy="163.2" r="6.2" class="b"/>
<text transform="translate(1357.4 163.2) scale(1 1.15)" y="2.3">5</text>
<polyline points="1351.4,163.2 1338.8,163.2"/>
<circle cx="1357.4" cy="181.4" r="6.2" class="b"/>
<text transform="translate(1357.4 181.4) scale(1 1.15)" y="2.3">4</text>
<polyline points="1351.4,181.4 1338.8,181.4"/>
<circle cx="1357.4" cy="199.0" r="6.2" class="b"/>
<text transform="translate(1357.4 199.0) scale(1 1.15)" y="2.3">6</text>
<polyline points="1351.4,199.0 1338.8,199.0"/>
<circle cx="1357.4" cy="216.6" r="6.2" class="b"/>
<text transform="translate(1357.4 216.6) scale(1 1.15)" y="2.3">8</text>
<polyline points="1351.4,216.6 1338.8,216.6"/>
<polyline points="1292.7,109.6 1306.0,109.6"/>
<polyline points="1292.7,180.9 1306.0,180.9"/>
<rect x="1304.5" y="109.6" width="3" height="71.3" class="wf"/>
<path d="M1306.0 109.6 a5.79 4.46 0 0 1 0 8.91 a5.79 4.46 0 0 1 0 8.91 a5.79 4.46 0 0 1 0 8.91 a5.79 4.46 0 0 1 0 8.91 a5.79 4.46 0 0 1 0 8.91 a5.79 4.46 0 0 1 0 8.91 a5.79 4.46 0 0 1 0 8.91 a5.79 4.46 0 0 1 0 8.91" class="n"/>
<circle cx="1304.0" cy="113.9" r="1.5" class="d"/>
<line x1="1357.7" y1="134.5" x2="1357.7" y2="138.0" stroke="#fff" stroke-width="2"/>
<polyline points="1319.4,91.2 1319.4,216.6"/>
<polyline points="1324.2,91.2 1324.2,216.6"/>
<rect x="1337.3" y="91.2" width="3" height="36.0" class="wf"/>
<path d="M1338.8 91.2 a5.85 4.5 0 0 0 0 9.0 a5.85 4.5 0 0 0 0 9.0 a5.85 4.5 0 0 0 0 9.0 a5.85 4.5 0 0 0 0 9.0" class="n"/>
<rect x="1337.3" y="145.3" width="3" height="71.3" class="wf"/>
<path d="M1338.8 145.3 a5.79 4.46 0 0 0 0 8.91 a5.79 4.46 0 0 0 0 8.91 a5.79 4.46 0 0 0 0 8.91 a5.79 4.46 0 0 0 0 8.91 a5.79 4.46 0 0 0 0 8.91 a5.79 4.46 0 0 0 0 8.91 a5.79 4.46 0 0 0 0 8.91 a5.79 4.46 0 0 0 0 8.91" class="n"/>
<circle cx="1339.8" cy="95.7" r="1.5" class="d"/>
<circle cx="1339.8" cy="113.9" r="1.5" class="d"/>
<circle cx="1339.8" cy="149.6" r="1.5" class="d"/>
<circle cx="1339.8" cy="167.5" r="1.5" class="d"/>
<circle cx="1339.8" cy="185.6" r="1.5" class="d"/>
<circle cx="1339.8" cy="203.5" r="1.5" class="d"/>
<polyline points="1406.8,352.6 1406.8,306.5 1454.2,306.5"/>
<polyline points="1467.8,306.5 1501.3,306.5"/>
<rect x="1454.2" y="303.6" width="13.6" height="5.8" class="b"/>
<circle cx="1429.5" cy="306.5" r="2.2" class="d"/>
<polyline points="1429.5,306.5 1429.5,352.6"/>
<rect x="1426.6" y="326.4" width="5.8" height="13.6" class="b"/>
<text transform="translate(1461.0 294.0) scale(1 1.15)" y="2.3">R579</text>
<text transform="translate(1461.0 300.3) scale(1 1.15)" y="2.3">1K</text>
<text transform="translate(1416.4 333.0) rotate(-90) scale(1 1.15)" y="2.3">R578</text>
<text transform="translate(1422.7 333.0) rotate(-90) scale(1 1.15)" y="2.3">1K</text>
<polyline points="1363.6,91.3 1396.8,91.3 1432.6,91.3 1432.6,73.2 1396.8,73.2 1396.8,95.6 1450.7,95.6 1450.7,113.4 1388.1,113.4 1388.1,127.4"/>
<polygon points="1415.3,69.5 1415.3,77.0 1422.8,73.2" class="d"/>
<line x1="1422.8" y1="69.5" x2="1422.8" y2="77.0" stroke-width="1.2"/>
<polygon points="1415.3,87.5 1415.3,95.0 1422.8,91.3" class="d"/>
<line x1="1422.8" y1="87.5" x2="1422.8" y2="95.0" stroke-width="1.2"/>
<polygon points="1433.2,91.8 1433.2,99.3 1440.7,95.6" class="d"/>
<line x1="1440.7" y1="91.8" x2="1440.7" y2="99.3" stroke-width="1.2"/>
<polygon points="1433.2,109.7 1433.2,117.2 1440.7,113.4" class="d"/>
<line x1="1440.7" y1="109.7" x2="1440.7" y2="117.2" stroke-width="1.2"/>
<polyline points="1432.6,82.5 1644.9,82.5"/>
<polyline points="1450.7,104.6 1465.1,104.6"/>
<polyline points="1465.1,82.5 1465.1,127.4 1423.7,127.4"/>
<polyline points="1363.6,127.4 1396.8,127.4"/>
<polyline points="1396.8,118.4 1423.7,118.4 1423.7,136.2 1396.8,136.2 1396.8,118.4"/>
<polygon points="1406.2,114.7 1406.2,122.2 1413.7,118.4" class="d"/>
<line x1="1413.7" y1="114.7" x2="1413.7" y2="122.2" stroke-width="1.2"/>
<polygon points="1406.2,132.4 1406.2,139.9 1413.7,136.2" class="d"/>
<line x1="1413.7" y1="132.4" x2="1413.7" y2="139.9" stroke-width="1.2"/>
<circle cx="1396.8" cy="91.3" r="2.2" class="d"/>
<circle cx="1465.1" cy="82.5" r="2.2" class="d"/>
<circle cx="1465.1" cy="104.6" r="2.2" class="d"/>
<circle cx="1388.1" cy="127.4" r="2.2" class="d"/>
<circle cx="1396.8" cy="127.4" r="2.2" class="d"/>
<circle cx="1375.4" cy="180.8" r="2.2" class="d"/>
<circle cx="1441.5" cy="189.6" r="2.2" class="d"/>
<circle cx="1477.5" cy="189.6" r="2.2" class="d"/>
<circle cx="1501.0" cy="82.5" r="2.2" class="d"/>
<circle cx="1536.6" cy="82.5" r="2.2" class="d"/>
<circle cx="1567.3" cy="82.5" r="2.2" class="d"/>
<circle cx="1598.6" cy="82.5" r="2.2" class="d"/>
<circle cx="1536.6" cy="136.2" r="2.2" class="d"/>
<circle cx="1567.3" cy="136.2" r="2.2" class="d"/>
<circle cx="1598.6" cy="136.2" r="2.2" class="d"/>
<circle cx="1504.6" cy="154.0" r="2.2" class="d"/>
<circle cx="1540.2" cy="154.0" r="2.2" class="d"/>
<circle cx="1549.0" cy="154.0" r="2.2" class="d"/>
<circle cx="1567.3" cy="154.0" r="2.2" class="d"/>
<circle cx="1567.3" cy="198.4" r="2.2" class="d"/>
<circle cx="1441.5" cy="239.0" r="2.2" class="d"/>
<circle cx="1477.5" cy="239.0" r="2.2" class="d"/>
<circle cx="1504.6" cy="239.0" r="2.2" class="d"/>
<circle cx="1540.2" cy="239.0" r="2.2" class="d"/>
<circle cx="1432.6" cy="82.5" r="1.2" class="d"/>
<circle cx="1450.7" cy="104.6" r="1.2" class="d"/>
<circle cx="1423.7" cy="127.4" r="1.2" class="d"/>
<circle cx="1441.9" cy="154.0" r="1.2" class="d"/>
<circle cx="1419.5" cy="189.6" r="1.2" class="d"/>
<polyline points="1363.6,108.7 1375.4,108.7 1375.4,239.0 1567.3,239.0 1567.3,136.2"/>
<polyline points="1363.6,180.8 1375.4,180.8"/>
<polyline points="1363.6,144.7 1441.9,144.7 1441.9,162.8 1388.1,162.8 1388.1,216.2 1363.6,216.2"/>
<polygon points="1424.3,140.9 1424.3,148.4 1431.8,144.7" class="d"/>
<line x1="1431.8" y1="140.9" x2="1431.8" y2="148.4" stroke-width="1.2"/>
<polygon points="1424.3,159.1 1424.3,166.6 1431.8,162.8" class="d"/>
<line x1="1431.8" y1="159.1" x2="1431.8" y2="166.6" stroke-width="1.2"/>
<polyline points="1441.9,154.0 1599.3,154.0"/>
<polygon points="1599.3,154.0 1603.9,149.6 1616.8,149.6 1616.8,158.4 1603.9,158.4" class="b"/>
<polyline points="1363.6,162.8 1383.5,162.8 1383.5,180.8 1419.5,180.8 1419.5,198.4 1363.6,198.4"/>
<polygon points="1401.8,177.1 1401.8,184.6 1409.3,180.8" class="d"/>
<line x1="1409.3" y1="177.1" x2="1409.3" y2="184.6" stroke-width="1.2"/>
<polygon points="1401.8,194.7 1401.8,202.2 1409.3,198.4" class="d"/>
<line x1="1409.3" y1="194.7" x2="1409.3" y2="202.2" stroke-width="1.2"/>
<polyline points="1419.5,189.6 1477.5,189.6"/>
<polygon points="1477.5,162.5 1473.1,157.9 1473.1,145.0 1481.9,145.0 1481.9,157.9" class="b"/>
<polyline points="1477.5,162.5 1477.5,239.0"/>
<rect x="1475.5" y="210.2" width="4" height="4.4" class="wf"/>
<line x1="1473.2" y1="210.2" x2="1481.8" y2="210.2" stroke-width="1.3"/>
<line x1="1473.2" y1="214.6" x2="1481.8" y2="214.6" stroke-width="1.3"/>
<polyline points="1441.5,189.6 1441.5,239.0"/>
<rect x="1439.5" y="210.2" width="4" height="4.4" class="wf"/>
<line x1="1437.2" y1="210.2" x2="1445.8" y2="210.2" stroke-width="1.3"/>
<line x1="1437.2" y1="214.6" x2="1445.8" y2="214.6" stroke-width="1.3"/>
<text transform="translate(1464.7 157.5) rotate(-90) scale(1 1.15)" y="2.3">18V</text>
<polyline points="1504.6,154.0 1504.6,252.3"/>
<rect x="1502.6" y="195.2" width="4" height="4.4" class="wf"/>
<line x1="1500.3" y1="195.2" x2="1508.9" y2="195.2" stroke-width="1.3"/>
<line x1="1500.3" y1="199.6" x2="1508.9" y2="199.6" stroke-width="1.3"/>
<polyline points="1540.2,154.0 1540.2,239.0"/>
<rect x="1538.2" y="195.2" width="4" height="4.4" class="wf"/>
<line x1="1535.9" y1="195.2" x2="1544.5" y2="195.2" stroke-width="1.3"/>
<line x1="1535.9" y1="199.6" x2="1544.5" y2="199.6" stroke-width="1.3"/>
<polyline points="1549.0,154.0 1549.0,252.3"/>
<polyline points="1567.3,82.5 1567.3,136.2"/>
<polyline points="1501.0,82.5 1501.0,136.2 1644.9,136.2"/>
<polyline points="1536.6,82.5 1536.6,136.2"/>
<polyline points="1598.6,82.5 1598.6,136.2"/>
<rect x="1499.0" y="111.2" width="4" height="4.4" class="wf"/>
<line x1="1496.7" y1="111.2" x2="1505.3" y2="111.2" stroke-width="1.3"/>
<line x1="1496.7" y1="115.6" x2="1505.3" y2="115.6" stroke-width="1.3"/>
<rect x="1534.6" y="111.2" width="4" height="4.4" class="wf"/>
<line x1="1532.3" y1="111.2" x2="1540.9" y2="111.2" stroke-width="1.3"/>
<line x1="1532.3" y1="115.6" x2="1540.9" y2="115.6" stroke-width="1.3"/>
<rect x="1565.3" y="111.2" width="4" height="4.4" class="wf"/>
<line x1="1563.0" y1="111.2" x2="1571.6" y2="111.2" stroke-width="1.3"/>
<line x1="1563.0" y1="115.6" x2="1571.6" y2="115.6" stroke-width="1.3"/>
<rect x="1596.6" y="111.2" width="4" height="4.4" class="wf"/>
<line x1="1594.3" y1="111.2" x2="1602.9" y2="111.2" stroke-width="1.3"/>
<line x1="1594.3" y1="115.6" x2="1602.9" y2="115.6" stroke-width="1.3"/>
<rect x="1565.8" y="172.5" width="3" height="15.7" class="wf"/>
<path d="M1567.3 172.5 a3.4 2.62 0 0 0 0 5.23 a3.4 2.62 0 0 0 0 5.23 a3.4 2.62 0 0 0 0 5.23" class="n"/>
<polyline points="1560.9,149.7 1573.7,149.7" stroke-width="1.2"/>
<polyline points="1560.9,149.7 1561.6,152.8"/>
<polyline points="1573.7,149.7 1572.3,151.4"/>
<polyline points="1567.3,198.4 1594.3,198.4"/>
<polygon points="1594.3,198.4 1598.9,194.0 1611.8,194.0 1611.8,202.8 1598.9,202.8" class="b"/>
<rect x="1565.3" y="218.0" width="4" height="4.4" class="wf"/>
<line x1="1563.0" y1="218.0" x2="1571.6" y2="218.0" stroke-width="1.3"/>
<line x1="1563.0" y1="222.4" x2="1571.6" y2="222.4" stroke-width="1.3"/>
<text transform="translate(1603.6 168.2) scale(1 1.15)" y="2.3">24V</text>
<text transform="translate(1604.3 210.3) scale(1 1.15)" y="2.3">24VSC</text>
<text transform="translate(1496.3 113.4) rotate(-90) scale(1 1.15)" y="2.3">35V</text>
<text transform="translate(1504.6 107.0) scale(1 1.15)" y="2.3" style="font-size:8.5px;">+</text>
<text transform="translate(1512.4 113.4) rotate(-90) scale(1 1.15)" y="2.3">2200u</text>
<text transform="translate(1518.1 113.4) rotate(-90) scale(1 1.15)" y="2.3">C565</text>
<text transform="translate(1531.9 113.4) rotate(-90) scale(1 1.15)" y="2.3">35V</text>
<text transform="translate(1540.2 107.0) scale(1 1.15)" y="2.3" style="font-size:8.5px;">+</text>
<text transform="translate(1548.0 113.4) rotate(-90) scale(1 1.15)" y="2.3">2200u</text>
<text transform="translate(1553.7 113.4) rotate(-90) scale(1 1.15)" y="2.3">C567</text>
<text transform="translate(1562.6 113.4) rotate(-90) scale(1 1.15)" y="2.3">35V</text>
<text transform="translate(1570.8 107.0) scale(1 1.15)" y="2.3" style="font-size:8.5px;">+</text>
<text transform="translate(1578.7 113.4) rotate(-90) scale(1 1.15)" y="2.3">2200u</text>
<text transform="translate(1584.4 113.4) rotate(-90) scale(1 1.15)" y="2.3">C569</text>
<text transform="translate(1593.9 113.4) rotate(-90) scale(1 1.15)" y="2.3">35V</text>
<text transform="translate(1602.2 107.0) scale(1 1.15)" y="2.3" style="font-size:8.5px;">+</text>
<text transform="translate(1610.0 113.4) rotate(-90) scale(1 1.15)" y="2.3">2200u</text>
<text transform="translate(1615.7 113.4) rotate(-90) scale(1 1.15)" y="2.3">C571</text>
<text transform="translate(1436.9 212.4) rotate(-90) scale(1 1.15)" y="2.3">35V</text>
<text transform="translate(1445.2 205.3) scale(1 1.15)" y="2.3" style="font-size:8.5px;">+</text>
<text transform="translate(1454.0 212.4) rotate(-90) scale(1 1.15)" y="2.3">470u</text>
<text transform="translate(1459.7 212.4) rotate(-90) scale(1 1.15)" y="2.3">C561</text>
<text transform="translate(1472.5 212.4) rotate(-90) scale(1 1.15)" y="2.3">35V</text>
<text transform="translate(1481.1 205.3) scale(1 1.15)" y="2.3" style="font-size:8.5px;">+</text>
<text transform="translate(1489.6 212.4) rotate(-90) scale(1 1.15)" y="2.3">470u</text>
<text transform="translate(1495.3 212.4) rotate(-90) scale(1 1.15)" y="2.3">C563</text>
<text transform="translate(1500.3 198.1) rotate(-90) scale(1 1.15)" y="2.3">35V</text>
<text transform="translate(1508.1 191.7) scale(1 1.15)" y="2.3" style="font-size:8.5px;">+</text>
<text transform="translate(1516.0 197.4) rotate(-90) scale(1 1.15)" y="2.3">1000u</text>
<text transform="translate(1521.7 197.4) rotate(-90) scale(1 1.15)" y="2.3">C565</text>
<text transform="translate(1535.9 198.1) rotate(-90) scale(1 1.15)" y="2.3">35V</text>
<text transform="translate(1543.8 191.7) scale(1 1.15)" y="2.3" style="font-size:8.5px;">+</text>
<text transform="translate(1551.6 198.1) rotate(-90) scale(1 1.15)" y="2.3">1000u</text>
<text transform="translate(1557.3 198.1) rotate(-90) scale(1 1.15)" y="2.3">C568</text>
<text transform="translate(1557.3 181.8) rotate(-90) scale(1 1.15)" y="2.3">L510</text>
<text transform="translate(1573.0 181.1) rotate(-90) scale(1 1.15)" y="2.3">1KHz</text>
<text transform="translate(1563.0 220.9) rotate(-90) scale(1 1.15)" y="2.3">35V</text>
<text transform="translate(1570.8 213.8) scale(1 1.15)" y="2.3" style="font-size:8.5px;">+</text>
<text transform="translate(1578.7 220.9) rotate(-90) scale(1 1.15)" y="2.3">220u</text>
<text transform="translate(1584.4 220.9) rotate(-90) scale(1 1.15)" y="2.3">C570</text>
<text transform="translate(1417.7 111.3) rotate(-90) scale(1 1.15)" y="2.3">MBR20100</text>
<text transform="translate(1424.8 109.8) rotate(-90) scale(1 1.15)" y="2.3">D522</text>
<text transform="translate(1436.9 134.0) rotate(-90) scale(1 1.15)" y="2.3">MBR20100</text>
<text transform="translate(1442.9 131.9) rotate(-90) scale(1 1.15)" y="2.3">D524</text>
<text transform="translate(1408.4 156.1) rotate(-90) scale(1 1.15)" y="2.3">MBR20100</text>
<text transform="translate(1416.3 154.7) rotate(-90) scale(1 1.15)" y="2.3">D521</text>
<text transform="translate(1426.2 182.5) rotate(-90) scale(1 1.15)" y="2.3">MBR20100</text>
<text transform="translate(1433.4 181.1) rotate(-90) scale(1 1.15)" y="2.3">D523</text>
<text transform="translate(1404.2 219.5) rotate(-90) scale(1 1.15)" y="2.3">MBR20100</text>
<text transform="translate(1411.3 216.7) rotate(-90) scale(1 1.15)" y="2.3">D520</text>
<polyline points="1598.4,82.1 1653.3,82.1"/>
<rect x="1653.3" y="80.6" width="16.8" height="3" class="wf"/>
<path d="M1653.3 82.1 a2.8 3.64 0 0 1 5.6 0 a2.8 3.64 0 0 1 5.6 0 a2.8 3.64 0 0 1 5.6 0" class="n"/>
<polyline points="1670.1,82.1 1755.0,82.1"/>
<polygon points="1755.0,82.1 1759.6,77.7 1772.5,77.7 1772.5,86.5 1759.6,86.5" class="b"/>
<circle cx="1626.3" cy="82.1" r="2.2" class="d"/>
<circle cx="1638.7" cy="82.1" r="2.2" class="d"/>
<circle cx="1719.3" cy="82.1" r="2.2" class="d"/>
<circle cx="1683.5" cy="136.0" r="2.2" class="d"/>
<circle cx="1626.3" cy="176.3" r="2.2" class="d"/>
<circle cx="1626.3" cy="306.5" r="2.2" class="d"/>
<circle cx="1626.3" cy="347.1" r="2.2" class="d"/>
<text transform="translate(1755.8 96.5) scale(1 1.15)" y="2.3">24VCF</text>
<text transform="translate(1661.3 71.3) scale(1 1.15)" y="2.3">L511</text>
<polyline points="1652.5,75.1 1670.6,75.1" stroke-width="0.6"/>
<text transform="translate(1661.3 88.2) scale(1 1.15)" y="2.3">L1050</text>
<polyline points="1598.4,136.0 1719.3,136.0 1719.3,82.1"/>
<rect x="1717.3" y="112.4" width="4" height="4.4" class="wf"/>
<line x1="1715.0" y1="112.4" x2="1723.6" y2="112.4" stroke-width="1.3"/>
<line x1="1715.0" y1="116.8" x2="1723.6" y2="116.8" stroke-width="1.3"/>
<polyline points="1638.7,82.1 1638.7,95.2 1683.5,95.2 1683.5,136.0"/>
<rect x="1678.5" y="100.3" width="10" height="18" class="b"/>
<text transform="translate(1684.0 109.3) rotate(-90) scale(1 1.15)" y="2.3" style="font-size:6px;">5W</text>
<text transform="translate(1694.8 109.6) rotate(-90) scale(1 1.15)" y="2.3">4.7</text>
<text transform="translate(1701.6 109.6) rotate(-90) scale(1 1.15)" y="2.3">R589</text>
<text transform="translate(1687.8 122.2) scale(1 1.15)" y="2.3" style="font-size:5px;">C</text>
<text transform="translate(1714.7 113.9) rotate(-90) scale(1 1.15)" y="2.3">35V</text>
<text transform="translate(1722.5 107.1) scale(1 1.15)" y="2.3" style="font-size:8.5px;">+</text>
<text transform="translate(1731.3 113.9) rotate(-90) scale(1 1.15)" y="2.3">1000u</text>
<text transform="translate(1736.9 113.9) rotate(-90) scale(1 1.15)" y="2.3">C573</text>
<polyline points="1626.3,82.1 1626.3,352.6"/>
<polyline points="1626.3,176.3 1648.2,176.3"/>
<polygon points="1648.2,176.3 1652.8,171.9 1665.7,171.9 1665.7,180.7 1652.8,180.7" class="b"/>
<text transform="translate(1650.7 190.9) scale(1 1.15)" y="2.3">24VC</text>
<polyline points="1482.5,306.5 1684.0,306.5"/>
<polygon points="1684.0,306.5 1688.6,302.1 1701.5,302.1 1701.5,310.9 1688.6,310.9" class="b"/>
<text transform="translate(1696.1 292.2) scale(1 1.15)" y="2.3">24VC</text>
<polyline points="1626.3,347.1 1572.4,347.1 1572.4,352.6"/>
<polyline points="1504.6,236.8 1504.6,265.7"/>
<polyline points="1549.2,249.4 1549.2,252.4 1504.6,252.4"/>
<rect x="1517.8" y="247.9" width="18" height="9" class="b"/>
<circle cx="1504.6" cy="252.4" r="2.2" class="d"/>
<text transform="translate(1526.8 255.7) scale(1 1.15)" y="2.3" style="font-size:6px;">5W</text>
<text transform="translate(1526.6 264.5) scale(1 1.15)" y="2.3">4.7</text>
<text transform="translate(1526.6 270.8) scale(1 1.15)" y="2.3">R590</text>
<text transform="translate(1514.0 256.9) scale(1 1.15)" y="2.3" style="font-size:5px;">C</text>
<line x1="1497.4" y1="265.7" x2="1510.4" y2="265.7"/>
<line x1="1499.9" y1="265.7" x2="1496.9" y2="270.2"/>
<line x1="1504.4" y1="265.7" x2="1501.4" y2="270.2"/>
<line x1="1508.9" y1="265.7" x2="1505.9" y2="270.2"/>
<polyline points="137.8,347.5 137.8,476.4 175.1,476.4"/>
<polyline points="245.6,347.5 245.6,476.4 223.9,476.4"/>
<circle cx="137.8" cy="436.4" r="2.2" class="d"/>
<circle cx="245.6" cy="436.4" r="2.2" class="d"/>
<circle cx="137.8" cy="563.6" r="2.2" class="d"/>
<circle cx="245.6" cy="563.6" r="2.2" class="d"/>
<circle cx="191.4" cy="563.6" r="2.2" class="d"/>
<circle cx="137.8" cy="628.8" r="2.2" class="d"/>
<circle cx="245.6" cy="628.8" r="2.2" class="d"/>
<polyline points="137.8,436.4 245.6,436.4"/>
<rect x="189.5" y="434.4" width="4.4" height="4" class="wf"/>
<line x1="189.5" y1="432.1" x2="189.5" y2="440.7" stroke-width="1.3"/>
<line x1="193.9" y1="432.1" x2="193.9" y2="440.7" stroke-width="1.3"/>
<text transform="translate(191.4 422.3) scale(1 1.15)" y="2.3">C503</text>
<text transform="translate(191.4 428.6) scale(1 1.15)" y="2.3">0.47u</text>
<text transform="translate(199.5 459.6) scale(1 1.15)" y="2.3">L503</text>
<text transform="translate(198.5 467.9) scale(1 1.15)" y="2.3">LCL103B</text>
<circle cx="179.3" cy="477.2" r="4.3" class="b"/>
<text transform="translate(179.3 477.2) scale(1 1.15)" y="2.3" style="font-size:6.5px;">4</text>
<circle cx="219.6" cy="477.2" r="4.3" class="b"/>
<text transform="translate(219.6 477.2) scale(1 1.15)" y="2.3" style="font-size:6.5px;">1</text>
<circle cx="179.3" cy="512.5" r="4.3" class="b"/>
<text transform="translate(179.3 512.5) scale(1 1.15)" y="2.3" style="font-size:6.5px;">3</text>
<circle cx="219.6" cy="512.5" r="4.3" class="b"/>
<text transform="translate(219.6 512.5) scale(1 1.15)" y="2.3" style="font-size:6.5px;">2</text>
<polyline points="199.0,477.2 199.0,512.5"/>
<polyline points="200.8,477.2 200.8,512.5"/>
<polyline points="183.6,477.2 190.3,477.2"/>
<polyline points="183.6,512.5 190.3,512.5"/>
<polyline points="215.4,477.2 209.4,477.2"/>
<polyline points="215.4,512.5 209.4,512.5"/>
<rect x="188.8" y="477.2" width="3" height="35.3" class="wf"/>
<path d="M190.3 477.2 a5.74 4.41 0 0 1 0 8.83 a5.74 4.41 0 0 1 0 8.83 a5.74 4.41 0 0 1 0 8.83 a5.74 4.41 0 0 1 0 8.83" class="n"/>
<rect x="207.9" y="477.2" width="3" height="35.3" class="wf"/>
<path d="M209.4 477.2 a5.74 4.41 0 0 0 0 8.83 a5.74 4.41 0 0 0 0 8.83 a5.74 4.41 0 0 0 0 8.83 a5.74 4.41 0 0 0 0 8.83" class="n"/>
<circle cx="190.7" cy="481.2" r="1.6" class="d"/>
<circle cx="208.1" cy="481.2" r="1.6" class="d"/>
<polyline points="175.1,512.5 137.8,512.5 137.8,664.9 171.3,664.9"/>
<polyline points="223.9,512.5 245.6,512.5 245.6,664.9 211.3,664.9"/>
<polyline points="137.8,563.6 245.6,563.6"/>
<rect x="160.7" y="561.6" width="3.6" height="4" class="wf"/>
<line x1="160.7" y1="559.1" x2="160.7" y2="568.1" stroke-width="1.3"/>
<line x1="164.3" y1="559.1" x2="164.3" y2="568.1" stroke-width="1.3"/>
<rect x="218.6" y="561.6" width="3.6" height="4" class="wf"/>
<line x1="218.6" y1="559.1" x2="218.6" y2="568.1" stroke-width="1.3"/>
<line x1="222.2" y1="559.1" x2="222.2" y2="568.1" stroke-width="1.3"/>
<polyline points="191.4,563.6 191.4,593.1"/>
<line x1="184.9" y1="593.1" x2="197.9" y2="593.1"/>
<line x1="187.4" y1="593.1" x2="184.4" y2="597.6"/>
<line x1="191.9" y1="593.1" x2="188.9" y2="597.6"/>
<line x1="196.4" y1="593.1" x2="193.4" y2="597.6"/>
<text transform="translate(191.4 602.6) scale(1 1.15)" y="2.3">GND</text>
<text transform="translate(161.7 550.3) scale(1 1.15)" y="2.3">C501</text>
<text transform="translate(161.7 556.0) scale(1 1.15)" y="2.3">470p</text>
<text transform="translate(161.7 570.9) scale(1 1.15)" y="2.3">400VAC</text>
<text transform="translate(220.4 550.3) scale(1 1.15)" y="2.3">C508</text>
<text transform="translate(220.4 556.0) scale(1 1.15)" y="2.3">470p</text>
<text transform="translate(220.4 570.9) scale(1 1.15)" y="2.3">400VAC</text>
<polyline points="137.8,628.8 245.6,628.8"/>
<rect x="193.8" y="626.8" width="4.4" height="4" class="wf"/>
<line x1="193.8" y1="624.5" x2="193.8" y2="633.1" stroke-width="1.3"/>
<line x1="198.2" y1="624.5" x2="198.2" y2="633.1" stroke-width="1.3"/>
<text transform="translate(196.5 615.0) scale(1 1.15)" y="2.3">C509</text>
<text transform="translate(196.0 621.3) scale(1 1.15)" y="2.3">0.47u</text>
<text transform="translate(186.9 648.0) scale(1 1.15)" y="2.3">L501</text>
<text transform="translate(185.9 656.3) scale(1 1.15)" y="2.3">LCL-122</text>
<polyline points="299.0,347.5 299.0,588.5"/>
<rect x="297.0" y="559.9" width="4" height="4.4" class="wf"/>
<line x1="294.7" y1="559.9" x2="303.3" y2="559.9" stroke-width="1.3"/>
<line x1="294.7" y1="564.3" x2="303.3" y2="564.3" stroke-width="1.3"/>
<circle cx="299.0" cy="512.5" r="2.2" class="d"/>
<circle cx="299.0" cy="588.5" r="2.2" class="d"/>
<circle cx="319.1" cy="588.5" r="2.2" class="d"/>
<circle cx="370.8" cy="588.5" r="2.2" class="d"/>
<circle cx="473.8" cy="588.5" r="2.2" class="d"/>
<circle cx="491.7" cy="588.5" r="2.2" class="d"/>
<circle cx="319.1" cy="395.8" r="2.2" class="d"/>
<circle cx="319.1" cy="450.0" r="2.2" class="d"/>
<polyline points="456.4,476.4 456.4,512.5 285.4,512.5 285.4,588.5 503.8,588.5"/>
<rect x="282.5" y="555.0" width="5.8" height="13.6" class="b"/>
<polyline points="370.8,588.5 370.8,606.4"/>
<line x1="364.3" y1="606.4" x2="377.3" y2="606.4"/>
<line x1="366.8" y1="609.9" x2="374.8" y2="609.9"/>
<line x1="369.2" y1="613.4" x2="372.4" y2="613.4"/>
<polyline points="456.4,387.0 456.4,355.5 370.8,355.5 370.8,588.5"/>
<polyline points="319.1,339.9 319.1,588.5"/>
<rect x="317.1" y="420.8" width="4" height="4.4" class="wf"/>
<line x1="314.8" y1="420.8" x2="323.4" y2="420.8" stroke-width="1.3"/>
<line x1="314.8" y1="425.2" x2="323.4" y2="425.2" stroke-width="1.3"/>
<polyline points="319.1,395.8 348.9,395.8 348.9,450.0 319.1,450.0"/>
<rect x="346.9" y="420.8" width="4" height="4.4" class="wf"/>
<line x1="344.6" y1="420.8" x2="353.2" y2="420.8" stroke-width="1.3"/>
<line x1="344.6" y1="425.2" x2="353.2" y2="425.2" stroke-width="1.3"/>
<text transform="translate(298.5 422.3) scale(1 1.15)" y="2.3">C518</text>
<text transform="translate(306.8 432.4) scale(1 1.15)" y="2.3">100n</text>
<text transform="translate(343.8 423.6) rotate(-90) scale(1 1.15)" y="2.3">35V</text>
<text transform="translate(351.9 417.5) scale(1 1.15)" y="2.3" style="font-size:8.5px;">+</text>
<text transform="translate(360.2 423.0) rotate(-90) scale(1 1.15)" y="2.3">22u</text>
<text transform="translate(366.5 423.6) rotate(-90) scale(1 1.15)" y="2.3">C522</text>
<text transform="translate(272.8 561.1) rotate(-90) scale(1 1.15)" y="2.3">R507</text>
<text transform="translate(279.1 561.1) rotate(-90) scale(1 1.15)" y="2.3">10K</text>
<text transform="translate(309.8 561.1) rotate(-90) scale(1 1.15)" y="2.3">1000p</text>
<text transform="translate(316.9 561.1) rotate(-90) scale(1 1.15)" y="2.3">C514</text>
<polyline points="420.4,347.5 420.4,387.0"/>
<text transform="translate(413.1 373.2) rotate(-90) scale(1 1.15)" y="2.3" style="font-size:8.2px;">14</text>
<text transform="translate(413.1 487.8) rotate(-90) scale(1 1.15)" y="2.3" style="font-size:8.2px;">1</text>
<polyline points="438.5,347.5 438.5,387.0"/>
<text transform="translate(431.2 373.2) rotate(-90) scale(1 1.15)" y="2.3" style="font-size:8.2px;">13</text>
<text transform="translate(431.2 487.8) rotate(-90) scale(1 1.15)" y="2.3" style="font-size:8.2px;">2</text>
<text transform="translate(449.1 373.2) rotate(-90) scale(1 1.15)" y="2.3" style="font-size:8.2px;">12</text>
<text transform="translate(449.1 487.8) rotate(-90) scale(1 1.15)" y="2.3" style="font-size:8.2px;">3</text>
<polyline points="474.3,347.5 474.3,387.0"/>
<text transform="translate(467.0 373.2) rotate(-90) scale(1 1.15)" y="2.3" style="font-size:8.2px;">11</text>
<text transform="translate(467.0 487.8) rotate(-90) scale(1 1.15)" y="2.3" style="font-size:8.2px;">4</text>
<polyline points="491.9,355.5 491.9,387.0"/>
<text transform="translate(484.6 373.2) rotate(-90) scale(1 1.15)" y="2.3" style="font-size:8.2px;">10</text>
<text transform="translate(484.6 487.8) rotate(-90) scale(1 1.15)" y="2.3" style="font-size:8.2px;">5</text>
<text transform="translate(422.2 405.4) rotate(-90) scale(1 1.15)" y="2.3" style="text-anchor:start;font-size:8.2px;">Vcc</text>
<text transform="translate(422.2 472.7) rotate(-90) scale(1 1.15)" y="2.3" style="text-anchor:start;font-size:8.2px;">INV</text>
<text transform="translate(440.1 405.4) rotate(-90) scale(1 1.15)" y="2.3" style="text-anchor:start;font-size:8.2px;">GD</text>
<text transform="translate(440.1 472.7) rotate(-90) scale(1 1.15)" y="2.3" style="text-anchor:start;font-size:8.2px;">COMP</text>
<text transform="translate(457.9 405.4) rotate(-90) scale(1 1.15)" y="2.3" style="text-anchor:start;font-size:8.2px;">GND</text>
<text transform="translate(457.9 472.7) rotate(-90) scale(1 1.15)" y="2.3" style="text-anchor:start;font-size:8.2px;">MULT</text>
<text transform="translate(475.8 405.4) rotate(-90) scale(1 1.15)" y="2.3" style="text-anchor:start;font-size:8.2px;">ZCD</text>
<text transform="translate(475.8 472.7) rotate(-90) scale(1 1.15)" y="2.3" style="text-anchor:start;font-size:8.2px;">CS</text>
<text transform="translate(493.7 405.4) rotate(-90) scale(1 1.15)" y="2.3" style="text-anchor:start;font-size:8.2px;">RUN</text>
<text transform="translate(493.7 472.7) rotate(-90) scale(1 1.15)" y="2.3" style="text-anchor:start;font-size:8.2px;">VFF</text>
<text transform="translate(389.2 431.9) rotate(-90) scale(1 1.15)" y="2.3" style="font-size:10px;">N507</text>
<text transform="translate(397.2 431.9) rotate(-90) scale(1 1.15)" y="2.3" style="font-size:10px;">L6563</text>
<path d="M402.3 423.0 A8.8 8.8 0 0 1 402.3 440.7" class="n"/>
<polyline points="420.4,476.4 420.4,574.9"/>
<rect x="417.5" y="541.4" width="5.8" height="13.6" class="b"/>
<circle cx="420.4" cy="503.4" r="2.2" class="d"/>
<circle cx="420.4" cy="521.3" r="2.2" class="d"/>
<circle cx="420.4" cy="530.4" r="2.2" class="d"/>
<circle cx="420.4" cy="574.9" r="2.2" class="d"/>
<circle cx="379.6" cy="530.4" r="2.2" class="d"/>
<circle cx="474.3" cy="512.5" r="2.2" class="d"/>
<circle cx="474.3" cy="588.5" r="2.2" class="d"/>
<circle cx="491.9" cy="525.8" r="2.2" class="d"/>
<polyline points="420.4,503.4 379.6,503.4 379.6,574.9 438.5,574.9 438.5,476.4"/>
<rect x="395.4" y="501.4" width="3.6" height="4" class="wf"/>
<line x1="395.4" y1="498.9" x2="395.4" y2="507.9" stroke-width="1.3"/>
<line x1="399.0" y1="498.9" x2="399.0" y2="507.9" stroke-width="1.3"/>
<polyline points="379.6,530.4 420.4,530.4"/>
<rect x="395.4" y="528.4" width="3.6" height="4" class="wf"/>
<line x1="395.4" y1="525.9" x2="395.4" y2="534.9" stroke-width="1.3"/>
<line x1="399.0" y1="525.9" x2="399.0" y2="534.9" stroke-width="1.3"/>
<rect x="390.7" y="572.0" width="13.6" height="5.8" class="b"/>
<polyline points="420.4,521.3 503.8,521.3"/>
<text transform="translate(397.2 489.3) scale(1 1.15)" y="2.3">C524</text>
<text transform="translate(397.2 496.1) scale(1 1.15)" y="2.3">470n</text>
<text transform="translate(397.2 516.2) scale(1 1.15)" y="2.3">C525</text>
<text transform="translate(397.2 523.0) scale(1 1.15)" y="2.3">470n</text>
<text transform="translate(397.2 562.8) scale(1 1.15)" y="2.3">R517</text>
<text transform="translate(397.2 568.6) scale(1 1.15)" y="2.3">6.8K</text>
<text transform="translate(429.0 547.7) rotate(-90) scale(1 1.15)" y="2.3">1M</text>
<text transform="translate(435.3 547.7) rotate(-90) scale(1 1.15)" y="2.3">R520</text>
<polyline points="474.3,476.4 474.3,588.5"/>
<rect x="472.3" y="546.0" width="4" height="4.4" class="wf"/>
<line x1="470.0" y1="546.0" x2="478.6" y2="546.0" stroke-width="1.3"/>
<line x1="470.0" y1="550.4" x2="478.6" y2="550.4" stroke-width="1.3"/>
<polyline points="474.3,512.5 503.8,512.5"/>
<polyline points="491.9,476.4 491.9,588.5"/>
<rect x="489.9" y="546.0" width="4" height="4.4" class="wf"/>
<line x1="487.6" y1="546.0" x2="496.2" y2="546.0" stroke-width="1.3"/>
<line x1="487.6" y1="550.4" x2="496.2" y2="550.4" stroke-width="1.3"/>
<polyline points="491.9,525.8 503.8,525.8"/>
<text transform="translate(458.9 549.0) rotate(-90) scale(1 1.15)" y="2.3">C526</text>
<text transform="translate(466.0 549.0) rotate(-90) scale(1 1.15)" y="2.3">1000p</text>
<text transform="translate(9.0 164.0) scale(1 1.15)" y="2.3" style="font-size:5px;" class="g">1</text>
<text transform="translate(9.0 388.0) scale(1 1.15)" y="2.3" style="font-size:5px;" class="g">2</text>
<text transform="translate(9.0 612.0) scale(1 1.15)" y="2.3" style="font-size:5px;" class="g">3</text>
<text transform="translate(9.0 836.0) scale(1 1.15)" y="2.3" style="font-size:5px;" class="g">4</text>
<text transform="translate(9.0 1060.0) scale(1 1.15)" y="2.3" style="font-size:5px;" class="g">5</text>
<text transform="translate(9.0 1284.0) scale(1 1.15)" y="2.3" style="font-size:5px;" class="g">6</text>
<rect x="402.3" y="387.0" width="143.5" height="89.4" class="n2"/>
<polyline points="509.6,368.9 509.6,387.0"/>
<polyline points="527.7,368.9 527.7,387.0"/>
<polyline points="509.6,476.4 509.6,494.3"/>
<polyline points="527.7,476.4 527.7,503.4 688.9,503.4 688.9,588.5"/>
<rect x="686.9" y="550.6" width="4" height="4.4" class="wf"/>
<line x1="684.6" y1="550.6" x2="693.2" y2="550.6" stroke-width="1.3"/>
<line x1="684.6" y1="555.0" x2="693.2" y2="555.0" stroke-width="1.3"/>
<text transform="translate(502.3 373.2) rotate(-90) scale(1 1.15)" y="2.3" style="font-size:8.2px;">9</text>
<text transform="translate(520.4 373.2) rotate(-90) scale(1 1.15)" y="2.3" style="font-size:8.2px;">8</text>
<text transform="translate(502.3 487.8) rotate(-90) scale(1 1.15)" y="2.3" style="font-size:8.2px;">6</text>
<text transform="translate(520.4 487.8) rotate(-90) scale(1 1.15)" y="2.3" style="font-size:8.2px;">7</text>
<text transform="translate(511.3 430.6) rotate(-90) scale(1 1.15)" y="2.3" style="text-anchor:start;font-size:8.2px;">PWM_STOP</text>
<text transform="translate(529.5 435.6) rotate(-90) scale(1 1.15)" y="2.3" style="text-anchor:start;font-size:8.2px;">PWM_LATCH</text>
<text transform="translate(511.3 472.7) rotate(-90) scale(1 1.15)" y="2.3" style="text-anchor:start;font-size:8.2px;">TBD</text>
<text transform="translate(529.5 472.7) rotate(-90) scale(1 1.15)" y="2.3" style="text-anchor:start;font-size:8.2px;">PFC_OK</text>
<polyline points="559.2,347.5 559.2,512.5 472.3,512.5"/>
<polyline points="491.9,387.0 491.9,355.5 568.0,355.5 568.0,525.8 489.9,525.8"/>
<circle cx="518.4" cy="525.8" r="2.2" class="d"/>
<circle cx="518.4" cy="588.5" r="2.2" class="d"/>
<circle cx="619.6" cy="588.5" r="2.2" class="d"/>
<circle cx="657.4" cy="588.5" r="2.2" class="d"/>
<circle cx="619.6" cy="521.3" r="2.2" class="d"/>
<circle cx="657.4" cy="503.4" r="2.2" class="d"/>
<polyline points="518.4,525.8 518.4,588.5"/>
<rect x="515.5" y="541.4" width="5.8" height="13.6" class="b"/>
<text transform="translate(502.0 547.7) rotate(-90) scale(1 1.15)" y="2.3">470n</text>
<text transform="translate(508.8 547.7) rotate(-90) scale(1 1.15)" y="2.3">C527</text>
<text transform="translate(527.7 547.7) rotate(-90) scale(1 1.15)" y="2.3">390K</text>
<text transform="translate(534.0 547.7) rotate(-90) scale(1 1.15)" y="2.3">R528</text>
<polyline points="489.9,588.5 688.9,588.5"/>
<polyline points="619.6,347.5 619.6,588.5"/>
<polyline points="419.4,521.3 619.6,521.3"/>
<rect x="616.7" y="377.7" width="5.8" height="13.6" class="b"/>
<text transform="translate(607.8 384.5) rotate(-90) scale(1 1.15)" y="2.3">R536</text>
<text transform="translate(613.4 384.5) rotate(-90) scale(1 1.15)" y="2.3">300K</text>
<rect x="616.7" y="414.2" width="5.8" height="13.6" class="b"/>
<text transform="translate(607.8 421.0) rotate(-90) scale(1 1.15)" y="2.3">R537</text>
<text transform="translate(613.4 421.0) rotate(-90) scale(1 1.15)" y="2.3">300K</text>
<rect x="616.7" y="546.0" width="5.8" height="13.6" class="b"/>
<text transform="translate(607.8 552.8) rotate(-90) scale(1 1.15)" y="2.3">R538</text>
<text transform="translate(613.4 552.8) rotate(-90) scale(1 1.15)" y="2.3">12K</text>
<polyline points="657.4,347.5 657.4,588.5"/>
<rect x="654.5" y="375.9" width="5.8" height="13.6" class="b"/>
<text transform="translate(645.3 382.7) rotate(-90) scale(1 1.15)" y="2.3">R542</text>
<text transform="translate(651.1 382.7) rotate(-90) scale(1 1.15)" y="2.3">560K</text>
<rect x="654.5" y="416.5" width="5.8" height="13.6" class="b"/>
<text transform="translate(645.3 423.3) rotate(-90) scale(1 1.15)" y="2.3">R543</text>
<text transform="translate(651.1 423.3) rotate(-90) scale(1 1.15)" y="2.3">560K</text>
<rect x="654.5" y="460.8" width="5.8" height="13.6" class="b"/>
<text transform="translate(645.3 467.6) rotate(-90) scale(1 1.15)" y="2.3">R544</text>
<text transform="translate(651.1 467.6) rotate(-90) scale(1 1.15)" y="2.3">560K</text>
<rect x="654.5" y="546.0" width="5.8" height="13.6" class="b"/>
<text transform="translate(645.3 552.8) rotate(-90) scale(1 1.15)" y="2.3">R545</text>
<text transform="translate(651.1 552.8) rotate(-90) scale(1 1.15)" y="2.3">20K</text>
<text transform="translate(674.6 552.8) rotate(-90) scale(1 1.15)" y="2.3">C538</text>
<text transform="translate(681.4 552.8) rotate(-90) scale(1 1.15)" y="2.3">10n</text>
<polyline points="712.8,347.5 712.8,503.4 1003.8,503.4"/>
<polyline points="748.1,347.5 748.1,486.0"/>
<line x1="741.6" y1="486.0" x2="754.6" y2="486.0"/>
<line x1="744.1" y1="489.5" x2="752.1" y2="489.5"/>
<line x1="746.5" y1="493.0" x2="749.7" y2="493.0"/>
<polyline points="748.1,472.2 1003.8,472.2"/>
<circle cx="748.1" cy="472.2" r="2.2" class="d"/>
<circle cx="784.1" cy="472.2" r="2.2" class="d"/>
<circle cx="855.7" cy="472.2" r="2.2" class="d"/>
<circle cx="904.3" cy="472.2" r="2.2" class="d"/>
<circle cx="999.5" cy="472.2" r="2.2" class="d"/>
<circle cx="784.1" cy="431.9" r="2.2" class="d"/>
<circle cx="855.7" cy="431.9" r="2.2" class="d"/>
<circle cx="904.3" cy="431.9" r="2.2" class="d"/>
<circle cx="837.5" cy="360.1" r="2.2" class="d"/>
<circle cx="846.9" cy="360.1" r="2.2" class="d"/>
<circle cx="860.7" cy="413.7" r="2.2" class="d"/>
<circle cx="999.5" cy="396.1" r="2.2" class="d"/>
<polyline points="784.1,347.5 784.1,472.2"/>
<rect x="781.2" y="366.4" width="5.8" height="13.6" class="b"/>
<rect x="781.2" y="442.7" width="5.8" height="13.6" class="b"/>
<text transform="translate(772.0 373.2) rotate(-90) scale(1 1.15)" y="2.3">R554</text>
<text transform="translate(778.3 373.2) rotate(-90) scale(1 1.15)" y="2.3">180K</text>
<text transform="translate(771.5 449.5) rotate(-90) scale(1 1.15)" y="2.3">R555</text>
<text transform="translate(777.8 449.5) rotate(-90) scale(1 1.15)" y="2.3">24K</text>
<polyline points="784.1,431.9 1003.8,431.9"/>
<polyline points="855.7,347.5 855.7,472.2"/>
<rect x="853.7" y="447.8" width="4" height="4.4" class="wf"/>
<line x1="851.4" y1="447.8" x2="860.0" y2="447.8" stroke-width="1.3"/>
<line x1="851.4" y1="452.2" x2="860.0" y2="452.2" stroke-width="1.3"/>
<polyline points="904.3,431.9 904.3,472.2"/>
<rect x="902.3" y="447.8" width="4" height="4.4" class="wf"/>
<line x1="900.0" y1="447.8" x2="908.6" y2="447.8" stroke-width="1.3"/>
<line x1="900.0" y1="452.2" x2="908.6" y2="452.2" stroke-width="1.3"/>
<text transform="translate(866.5 449.0) rotate(-90) scale(1 1.15)" y="2.3">100n</text>
<text transform="translate(873.6 449.0) rotate(-90) scale(1 1.15)" y="2.3">C544</text>
<text transform="translate(889.9 450.0) rotate(-90) scale(1 1.15)" y="2.3">C575</text>
<text transform="translate(896.7 450.0) rotate(-90) scale(1 1.15)" y="2.3">100n</text>
<polyline points="882.9,360.1 809.8,360.1 809.8,413.7 1003.8,413.7"/>
<rect x="806.9" y="380.0" width="5.8" height="13.6" class="b"/>
<rect x="830.0" y="410.8" width="13.6" height="5.8" class="b"/>
<polyline points="837.5,347.5 837.5,360.1"/>
<polyline points="846.9,360.1 846.9,396.1 1003.8,396.1"/>
<rect x="963.5" y="393.2" width="13.6" height="5.8" class="b"/>
<polyline points="860.7,347.5 860.7,413.7"/>
<text transform="translate(797.2 387.8) rotate(-90) scale(1 1.15)" y="2.3">R559</text>
<text transform="translate(803.5 387.8) rotate(-90) scale(1 1.15)" y="2.3">27K</text>
<text transform="translate(836.8 423.0) scale(1 1.15)" y="2.3">100K</text>
<text transform="translate(836.8 428.8) scale(1 1.15)" y="2.3">R558</text>
<text transform="translate(969.8 404.9) scale(1 1.15)" y="2.3">0</text>
<text transform="translate(969.8 411.2) scale(1 1.15)" y="2.3">R562</text>
<polyline points="882.9,347.5 882.9,377.7 972.5,377.7 972.5,347.5"/>
<path d="M918.6 377.7 A8.8 8.8 0 0 1 936.3 377.7" class="n"/>
<text transform="translate(886.6 361.8) scale(1 1.15)" y="2.3" style="text-anchor:start;font-size:8.2px;">VREF</text>
<text transform="translate(968.0 361.8) scale(1 1.15)" y="2.3" style="text-anchor:end;font-size:8.2px;">I-</text>
<text transform="translate(869.8 352.5) scale(1 1.15)" y="2.3" style="font-size:8.2px;">15</text>
<text transform="translate(869.8 370.7) scale(1 1.15)" y="2.3" style="font-size:8.2px;">16</text>
<text transform="translate(983.1 352.5) scale(1 1.15)" y="2.3" style="font-size:8.2px;">2</text>
<text transform="translate(983.1 370.7) scale(1 1.15)" y="2.3" style="font-size:8.2px;">1</text>
<text transform="translate(926.2 389.0) scale(1 1.15)" y="2.3" style="font-size:10px;" class="bd">TEA1610T</text>
<text transform="translate(925.2 402.4) scale(1 1.15)" y="2.3" style="font-size:10px;" class="bd">N512</text>
<polyline points="972.5,360.1 1003.8,360.1"/>
<text transform="translate(984.9 436.9) rotate(-90) scale(1 1.15)" y="2.3">C547</text>
<text transform="translate(991.2 436.9) rotate(-90) scale(1 1.15)" y="2.3">1n</text>
<rect x="837.0" y="593.1" width="89.4" height="89.4" class="n2"/>
<path d="M872.8 593.1 A8.8 8.8 0 0 0 890.4 593.1" class="n"/>
<text transform="translate(881.6 578.5) scale(1 1.15)" y="2.3">N510</text>
<text transform="translate(881.6 586.8) scale(1 1.15)" y="2.3">SI9933BDY-T1-E3</text>
<text transform="translate(840.8 612.7) scale(1 1.15)" y="2.3" style="text-anchor:start;font-size:8.2px;">S2</text>
<text transform="translate(921.9 612.7) scale(1 1.15)" y="2.3" style="text-anchor:end;font-size:8.2px;">D2_8</text>
<text transform="translate(826.2 604.9) scale(1 1.15)" y="2.3" style="font-size:8.2px;">1</text>
<text transform="translate(937.0 604.4) scale(1 1.15)" y="2.3" style="font-size:8.2px;">8</text>
<polyline points="926.4,611.2 971.0,611.2"/>
<circle cx="971.0" cy="611.2" r="2.2" class="d"/>
<text transform="translate(840.8 630.6) scale(1 1.15)" y="2.3" style="text-anchor:start;font-size:8.2px;">G2</text>
<text transform="translate(921.9 630.6) scale(1 1.15)" y="2.3" style="text-anchor:end;font-size:8.2px;">D2_7</text>
<text transform="translate(826.2 622.8) scale(1 1.15)" y="2.3" style="font-size:8.2px;">2</text>
<text transform="translate(937.0 622.3) scale(1 1.15)" y="2.3" style="font-size:8.2px;">7</text>
<polyline points="926.4,629.1 971.0,629.1"/>
<circle cx="971.0" cy="629.1" r="2.2" class="d"/>
<text transform="translate(840.8 648.5) scale(1 1.15)" y="2.3" style="text-anchor:start;font-size:8.2px;">S1</text>
<text transform="translate(921.9 648.5) scale(1 1.15)" y="2.3" style="text-anchor:end;font-size:8.2px;">D1_6</text>
<text transform="translate(826.2 640.7) scale(1 1.15)" y="2.3" style="font-size:8.2px;">3</text>
<text transform="translate(937.0 640.2) scale(1 1.15)" y="2.3" style="font-size:8.2px;">6</text>
<polyline points="926.4,647.0 971.0,647.0"/>
<circle cx="971.0" cy="647.0" r="2.2" class="d"/>
<text transform="translate(840.8 666.4) scale(1 1.15)" y="2.3" style="text-anchor:start;font-size:8.2px;">G1</text>
<text transform="translate(921.9 666.4) scale(1 1.15)" y="2.3" style="text-anchor:end;font-size:8.2px;">D1_5</text>
<text transform="translate(826.2 658.6) scale(1 1.15)" y="2.3" style="font-size:8.2px;">4</text>
<text transform="translate(937.0 658.1) scale(1 1.15)" y="2.3" style="font-size:8.2px;">5</text>
<polyline points="926.4,664.9 971.0,664.9"/>
<circle cx="971.0" cy="664.9" r="2.2" class="d"/>
<text transform="translate(711.1 608.7) scale(1 1.15)" y="2.3">5V</text>
<polygon points="738.0,611.2 733.4,606.8 720.5,606.8 720.5,615.6 733.4,615.6" class="b"/>
<polyline points="738.0,611.2 837.0,611.2"/>
<circle cx="765.0" cy="611.2" r="2.2" class="d"/>
<circle cx="791.7" cy="611.2" r="2.2" class="d"/>
<circle cx="765.0" cy="664.9" r="2.2" class="d"/>
<circle cx="805.3" cy="664.9" r="2.2" class="d"/>
<circle cx="971.0" cy="696.3" r="2.2" class="d"/>
<polyline points="765.0,611.2 765.0,702.6"/>
<rect x="762.1" y="635.6" width="5.8" height="13.6" class="b"/>
<rect x="762.1" y="676.2" width="5.8" height="13.6" class="b"/>
<polyline points="791.7,611.2 791.7,647.2 837.0,647.2"/>
<polyline points="837.0,628.8 805.3,628.8 805.3,696.3 971.0,696.3"/>
<rect x="873.5" y="694.3" width="3.6" height="4" class="wf"/>
<line x1="873.5" y1="691.8" x2="873.5" y2="700.8" stroke-width="1.3"/>
<line x1="877.1" y1="691.8" x2="877.1" y2="700.8" stroke-width="1.3"/>
<polyline points="837.0,664.9 765.0,664.9"/>
<polyline points="971.0,611.2 1003.8,611.2"/>
<polyline points="971.0,611.2 971.0,702.6"/>
<text transform="translate(752.6 642.2) rotate(-90) scale(1 1.15)" y="2.3">R552</text>
<text transform="translate(758.9 642.2) rotate(-90) scale(1 1.15)" y="2.3">10K</text>
<text transform="translate(752.6 682.5) rotate(-90) scale(1 1.15)" y="2.3">R553</text>
<text transform="translate(758.9 682.5) rotate(-90) scale(1 1.15)" y="2.3">10K</text>
<text transform="translate(874.6 682.0) scale(1 1.15)" y="2.3">C546</text>
<text transform="translate(874.6 688.8) scale(1 1.15)" y="2.3">100n</text>
<polyline points="998.7,306.0 1053.5,306.0 1053.5,395.7"/>
<line x1="1047.0" y1="395.7" x2="1060.0" y2="395.7"/>
<line x1="1049.5" y1="399.2" x2="1057.5" y2="399.2"/>
<line x1="1051.9" y1="402.7" x2="1055.1" y2="402.7"/>
<polyline points="1017.0,323.9 1017.0,414.0"/>
<polyline points="998.7,323.9 1035.9,323.9 1035.9,472.0"/>
<rect x="1033.9" y="348.8" width="4" height="4.4" class="wf"/>
<line x1="1031.6" y1="348.8" x2="1040.2" y2="348.8" stroke-width="1.3"/>
<line x1="1031.6" y1="353.2" x2="1040.2" y2="353.2" stroke-width="1.3"/>
<rect x="1014.1" y="333.1" width="5.8" height="13.6" class="b"/>
<rect x="1014.1" y="362.1" width="5.8" height="13.6" class="b"/>
<polygon points="1013.5,394.1 1020.5,394.1 1017.0,401.1" class="d"/>
<line x1="1013.5" y1="401.1" x2="1020.5" y2="401.1" stroke-width="1.2"/>
<circle cx="1017.0" cy="323.9" r="2.2" class="d"/>
<circle cx="1017.0" cy="414.0" r="2.2" class="d"/>
<polyline points="992.4,342.6 1008.6,342.6 1008.6,472.5"/>
<text transform="translate(1029.6 351.0) rotate(-90) scale(1 1.15)" y="2.3">35V</text>
<text transform="translate(1039.0 344.1) scale(1 1.15)" y="2.3" style="font-size:8.5px;">+</text>
<text transform="translate(1046.6 350.4) rotate(-90) scale(1 1.15)" y="2.3">10u</text>
<text transform="translate(1052.9 350.4) rotate(-90) scale(1 1.15)" y="2.3">C549</text>
<text transform="translate(1220.4 349.1) rotate(-90) scale(1 1.15)" y="2.3">C557</text>
<text transform="translate(1226.1 348.5) rotate(-90) scale(1 1.15)" y="2.3">33n</text>
<text transform="translate(1231.7 355.4) scale(1 1.15)" y="2.3" style="font-size:5px;">o</text>
<text transform="translate(1244.3 348.5) rotate(-90) scale(1 1.15)" y="2.3" style="font-size:7.5px;">630V</text>
<rect x="1233.5" y="346.8" width="4" height="3.6" class="wf"/>
<line x1="1231.0" y1="346.8" x2="1240.0" y2="346.8" stroke-width="1.3"/>
<line x1="1231.0" y1="350.4" x2="1240.0" y2="350.4" stroke-width="1.3"/>
<polyline points="1235.5,306.0 1235.5,378.1"/>
<polyline points="1052.9,377.7 1268.3,377.7 1268.3,347.5"/>
<circle cx="1052.9" cy="377.7" r="2.2" class="d"/>
<circle cx="1070.8" cy="377.7" r="2.2" class="d"/>
<circle cx="1106.5" cy="377.7" r="2.2" class="d"/>
<circle cx="1142.6" cy="377.7" r="2.2" class="d"/>
<circle cx="1214.4" cy="377.7" r="2.2" class="d"/>
<circle cx="1235.5" cy="377.7" r="2.2" class="d"/>
<polyline points="1070.8,347.5 1070.8,377.7"/>
<polyline points="1106.5,347.5 1106.5,377.7"/>
<polyline points="1142.6,347.5 1142.6,377.7"/>
<polyline points="1214.4,347.5 1214.4,377.7"/>
<polyline points="1178.6,347.5 1178.6,431.9 997.5,431.9"/>
<polygon points="1141.5,428.4 1141.5,435.4 1134.5,431.9" class="d"/>
<line x1="1134.5" y1="428.4" x2="1134.5" y2="435.4" stroke-width="1.2"/>
<polyline points="997.5,413.7 1234.3,413.7"/>
<polyline points="1248.1,413.7 1339.5,413.7 1339.5,368.9 1359.7,368.9"/>
<polygon points="1213.3,410.2 1213.3,417.2 1206.3,413.7" class="d"/>
<line x1="1206.3" y1="410.2" x2="1206.3" y2="417.2" stroke-width="1.2"/>
<rect x="1234.3" y="410.8" width="13.6" height="5.8" class="b"/>
<text transform="translate(1005.0 368.9) rotate(-90) scale(1 1.15)" y="2.3">R505</text>
<text transform="translate(1011.3 368.9) rotate(-90) scale(1 1.15)" y="2.3">0</text>
<text transform="translate(1028.5 397.9) rotate(-90) scale(1 1.15)" y="2.3">CD4148WP</text>
<text transform="translate(1035.8 397.9) rotate(-90) scale(1 1.15)" y="2.3">D514</text>
<polyline points="997.5,472.2 1429.5,472.2"/>
<circle cx="1008.8" cy="472.2" r="2.2" class="d"/>
<circle cx="1035.3" cy="472.2" r="2.2" class="d"/>
<circle cx="1321.7" cy="413.7" r="2.2" class="d"/>
<circle cx="1339.5" cy="413.7" r="2.2" class="d"/>
<circle cx="1321.7" cy="472.2" r="2.2" class="d"/>
<circle cx="1339.5" cy="472.2" r="2.2" class="d"/>
<circle cx="1429.5" cy="472.2" r="2.2" class="d"/>
<circle cx="1429.5" cy="368.9" r="2.2" class="d"/>
<circle cx="1429.5" cy="413.7" r="2.2" class="d"/>
<circle cx="1468.5" cy="445.2" r="2.2" class="d"/>
<circle cx="1491.9" cy="593.1" r="2.2" class="d"/>
<rect x="1376.8" y="470.2" width="3.6" height="4" class="wf"/>
<line x1="1376.8" y1="467.7" x2="1376.8" y2="476.7" stroke-width="1.3"/>
<line x1="1380.4" y1="467.7" x2="1380.4" y2="476.7" stroke-width="1.3"/>
<polyline points="1321.7,413.7 1321.7,472.2"/>
<rect x="1319.7" y="443.2" width="4" height="3.6" class="wf"/>
<line x1="1317.2" y1="443.2" x2="1326.2" y2="443.2" stroke-width="1.3"/>
<line x1="1317.2" y1="446.8" x2="1326.2" y2="446.8" stroke-width="1.3"/>
<polyline points="1339.5,413.7 1339.5,472.2"/>
<rect x="1336.6" y="438.4" width="5.8" height="13.6" class="b"/>
<text transform="translate(1307.3 445.7) rotate(-90) scale(1 1.15)" y="2.3">C559</text>
<text transform="translate(1314.4 445.7) rotate(-90) scale(1 1.15)" y="2.3">1000p</text>
<text transform="translate(1348.9 445.7) rotate(-90) scale(1 1.15)" y="2.3">2.2K</text>
<text transform="translate(1355.2 445.7) rotate(-90) scale(1 1.15)" y="2.3">R577</text>
<text transform="translate(1378.6 458.3) scale(1 1.15)" y="2.3">C560</text>
<text transform="translate(1378.6 464.6) scale(1 1.15)" y="2.3">33n</text>
<polyline points="997.5,503.4 1286.4,503.4 1286.4,351.3 1359.7,351.3"/>
<rect x="1306.0" y="348.4" width="13.6" height="5.8" class="b"/>
<text transform="translate(1209.8 425.6) scale(1 1.15)" y="2.3">CD4148WP</text>
<text transform="translate(1209.8 432.4) scale(1 1.15)" y="2.3">D519</text>
<text transform="translate(1241.1 401.6) scale(1 1.15)" y="2.3">R575</text>
<text transform="translate(1241.1 407.9) scale(1 1.15)" y="2.3">68K</text>
<text transform="translate(1138.0 443.7) scale(1 1.15)" y="2.3">CD4148WP</text>
<text transform="translate(1138.0 450.3) scale(1 1.15)" y="2.3">D518</text>
<polyline points="999.7,360.1 999.7,472.2"/>
<rect x="997.7" y="434.3" width="4" height="3.6" class="wf"/>
<line x1="995.2" y1="434.3" x2="1004.2" y2="434.3" stroke-width="1.3"/>
<line x1="995.2" y1="437.9" x2="1004.2" y2="437.9" stroke-width="1.3"/>
<polyline points="992.4,360.1 999.7,360.1"/>
<rect x="1359.7" y="342.7" width="31.2" height="35.5"/>
<line x1="1370.8" y1="353.6" x2="1370.8" y2="367.1" stroke-width="1.5"/>
<line x1="1359.7" y1="351.5" x2="1370.8" y2="356.2"/>
<line x1="1370.8" y1="364.5" x2="1359.7" y2="369.2"/>
<polygon points="1359.7,369.5 1365.5,365.7 1365.5,369.0" class="d"/>
<polyline points="1390.9,351.5 1383.4,351.5 1383.4,369.6 1390.9,369.6"/>
<polygon points="1379.7,356.6 1387.1,356.6 1383.4,363.6" class="d"/>
<line x1="1379.4" y1="363.6" x2="1387.4" y2="363.6" stroke-width="1.3"/>
<line x1="1377.0" y1="364.5" x2="1371.7" y2="370.9" stroke-width="0.8"/>
<polygon points="1371.7,370.9 1375.1,369.3 1372.9,367.3" class="d"/>
<line x1="1380.2" y1="367.7" x2="1374.9" y2="373.9" stroke-width="0.8"/>
<polygon points="1374.9,373.9 1378.3,372.3 1376.1,370.3" class="d"/>
<polyline points="1359.7,351.3 1352.6,351.3"/>
<polyline points="1406.8,347.5 1406.8,351.3 1391.7,351.3"/>
<polyline points="1391.7,368.9 1486.1,368.9"/>
<text transform="translate(1374.1 399.1) rotate(-90) scale(1 1.15)" y="2.3">TLP621-GB</text>
<text transform="translate(1383.6 380.2) rotate(-90) scale(1 1.15)" y="2.3">N513</text>
<polyline points="1429.5,347.5 1429.5,593.1 1491.9,593.1 1491.9,612.0"/>
<line x1="1485.4" y1="612.0" x2="1498.4" y2="612.0"/>
<line x1="1487.9" y1="612.0" x2="1484.9" y2="616.5"/>
<line x1="1492.4" y1="612.0" x2="1489.4" y2="616.5"/>
<line x1="1496.9" y1="612.0" x2="1493.9" y2="616.5"/>
<polyline points="1429.5,413.7 1454.2,413.7"/>
<polyline points="1467.8,413.7 1503.8,413.7"/>
<rect x="1454.2" y="410.8" width="13.6" height="5.8" class="b"/>
<rect x="1481.1" y="366.9" width="3.6" height="4" class="wf"/>
<line x1="1481.1" y1="364.4" x2="1481.1" y2="373.4" stroke-width="1.3"/>
<line x1="1484.7" y1="364.4" x2="1484.7" y2="373.4" stroke-width="1.3"/>
<polyline points="1482.9,368.9 1503.8,368.9"/>
<polygon points="1429.5,440.9 1425.0,449.5 1434.0,449.5" class="d"/>
<polyline points="1423.7,439.0 1425.0,440.4 1434.0,440.4 1435.2,442.5"/>
<line x1="1432.9" y1="445.2" x2="1503.8" y2="445.2"/>
<text transform="translate(1426.1 434.9) rotate(-90) scale(1 1.15)" y="2.3" style="font-size:6.5px;">K</text>
<text transform="translate(1425.0 455.0) rotate(-90) scale(1 1.15)" y="2.3" style="font-size:5px;">A</text>
<text transform="translate(1437.9 448.9) rotate(-90) scale(1 1.15)" y="2.3" style="font-size:6.5px;">R</text>
<text transform="translate(1410.1 445.7) rotate(-90) scale(1 1.15)" y="2.3">N514</text>
<text transform="translate(1417.4 445.7) rotate(-90) scale(1 1.15)" y="2.3">TL431</text>
<polyline points="1468.5,445.2 1468.5,561.6"/>
<rect x="1465.6" y="460.8" width="5.8" height="13.6" class="b"/>
<rect x="1465.6" y="519.0" width="5.8" height="13.6" class="b"/>
<polygon points="1468.5,561.6 1464.1,566.2 1464.1,579.1 1472.9,579.1 1472.9,566.2" class="b"/>
<text transform="translate(1457.2 569.1) rotate(-90) scale(1 1.15)" y="2.3">18V</text>
<text transform="translate(1477.3 467.9) rotate(-90) scale(1 1.15)" y="2.3">39K</text>
<text transform="translate(1483.6 467.9) rotate(-90) scale(1 1.15)" y="2.3">R581</text>
<text transform="translate(1455.9 525.8) rotate(-90) scale(1 1.15)" y="2.3">R582</text>
<text transform="translate(1462.2 525.8) rotate(-90) scale(1 1.15)" y="2.3">10K</text>
<text transform="translate(1491.9 525.8) rotate(-90) scale(1 1.15)" y="2.3">R584</text>
<text transform="translate(1498.2 525.8) rotate(-90) scale(1 1.15)" y="2.3">10K</text>
<text transform="translate(1493.2 567.1) rotate(-90) scale(1 1.15)" y="2.3">24V</text>
<text transform="translate(1482.4 354.5) scale(1 1.15)" y="2.3">C562</text>
<text transform="translate(1482.4 361.3) scale(1 1.15)" y="2.3">10n</text>
<text transform="translate(1461.0 401.6) scale(1 1.15)" y="2.3">R580</text>
<text transform="translate(1461.0 407.9) scale(1 1.15)" y="2.3">1K</text>
<polyline points="997.5,611.2 1034.0,611.2"/>
<polygon points="1034.0,611.2 1038.6,606.8 1051.5,606.8 1051.5,615.6 1038.6,615.6" class="b"/>
<text transform="translate(1060.5 616.2) scale(1 1.15)" y="2.3">5VSC</text>
<polyline points="1242.3,629.1 1242.3,644.7" stroke-width="1.6"/>
<polyline points="1261.5,629.1 1261.5,644.7" stroke-width="1.6"/>
<polyline points="1242.3,635.4 1261.5,635.4" stroke-width="1.2"/>
<polyline points="1246.1,638.2 1257.7,638.2" stroke-width="1.2"/>
<polyline points="1246.1,638.2 1246.1,644.7" stroke-width="1.5"/>
<polyline points="1250.0,638.2 1250.0,644.7" stroke-width="1.5"/>
<polyline points="1253.8,638.2 1253.8,644.7" stroke-width="1.5"/>
<polyline points="1257.6,638.2 1257.6,644.7" stroke-width="1.5"/>
<polyline points="1269.5,629.1 1269.5,644.7" stroke-width="1.6"/>
<polyline points="1288.7,629.1 1288.7,644.7" stroke-width="1.6"/>
<polyline points="1269.5,635.4 1288.7,635.4" stroke-width="1.2"/>
<polyline points="1273.3,638.2 1284.9,638.2" stroke-width="1.2"/>
<polyline points="1273.4,638.2 1273.4,644.7" stroke-width="1.5"/>
<polyline points="1277.2,638.2 1277.2,644.7" stroke-width="1.5"/>
<polyline points="1281.0,638.2 1281.0,644.7" stroke-width="1.5"/>
<polyline points="1284.8,638.2 1284.8,644.7" stroke-width="1.5"/>
<polyline points="1296.5,629.1 1296.5,644.7" stroke-width="1.6"/>
<polyline points="1315.6,629.1 1315.6,644.7" stroke-width="1.6"/>
<polyline points="1296.5,635.4 1315.6,635.4" stroke-width="1.2"/>
<polyline points="1300.3,638.2 1311.8,638.2" stroke-width="1.2"/>
<polyline points="1300.3,638.2 1300.3,644.7" stroke-width="1.5"/>
<polyline points="1304.1,638.2 1304.1,644.7" stroke-width="1.5"/>
<polyline points="1308.0,638.2 1308.0,644.7" stroke-width="1.5"/>
<polyline points="1311.8,638.2 1311.8,644.7" stroke-width="1.5"/>
<polyline points="1323.4,629.1 1323.4,644.7" stroke-width="1.6"/>
<polyline points="1342.6,629.1 1342.6,644.7" stroke-width="1.6"/>
<polyline points="1323.4,635.4 1342.6,635.4" stroke-width="1.2"/>
<polyline points="1327.2,638.2 1338.8,638.2" stroke-width="1.2"/>
<polyline points="1327.3,638.2 1327.3,644.7" stroke-width="1.5"/>
<polyline points="1331.1,638.2 1331.1,644.7" stroke-width="1.5"/>
<polyline points="1334.9,638.2 1334.9,644.7" stroke-width="1.5"/>
<polyline points="1338.7,638.2 1338.7,644.7" stroke-width="1.5"/>
<polyline points="1259.9,644.7 1259.9,660.3"/>
<polyline points="1286.6,644.7 1286.6,660.3"/>
<polyline points="1244.3,687.0 1244.3,660.3 1298.5,660.3 1298.5,644.7"/>
<circle cx="1259.9" cy="660.3" r="2.2" class="d"/>
<circle cx="1286.6" cy="660.3" r="2.2" class="d"/>
<line x1="1237.8" y1="687.0" x2="1250.8" y2="687.0"/>
<line x1="1240.3" y1="690.5" x2="1248.3" y2="690.5"/>
<line x1="1242.7" y1="694.0" x2="1245.9" y2="694.0"/>
<polyline points="1341.3,644.7 1341.3,687.0"/>
<line x1="1334.8" y1="687.0" x2="1347.8" y2="687.0"/>
<line x1="1337.3" y1="687.0" x2="1334.3" y2="691.5"/>
<line x1="1341.8" y1="687.0" x2="1338.8" y2="691.5"/>
<line x1="1346.3" y1="687.0" x2="1343.3" y2="691.5"/>
<polyline points="997.5,696.3 1034.0,696.3 1034.0,702.6"/>
<polyline points="1482.5,368.9 1537.1,368.9 1537.1,445.2"/>
<polyline points="1482.5,413.7 1537.1,413.7"/>
<rect x="1508.4" y="411.7" width="3.6" height="4" class="wf"/>
<line x1="1508.4" y1="409.2" x2="1508.4" y2="418.2" stroke-width="1.3"/>
<line x1="1512.0" y1="409.2" x2="1512.0" y2="418.2" stroke-width="1.3"/>
<text transform="translate(1509.4 399.1) scale(1 1.15)" y="2.3">C564</text>
<text transform="translate(1509.4 405.9) scale(1 1.15)" y="2.3">100n</text>
<circle cx="1537.1" cy="413.7" r="2.2" class="d"/>
<circle cx="1504.6" cy="445.2" r="2.2" class="d"/>
<circle cx="1537.1" cy="445.2" r="2.2" class="d"/>
<circle cx="1572.7" cy="445.2" r="2.2" class="d"/>
<circle cx="1492.1" cy="593.1" r="2.2" class="d"/>
<polyline points="1482.5,445.2 1626.6,445.2 1626.6,347.5"/>
<rect x="1624.6" y="415.7" width="4" height="3.6" class="wf"/>
<line x1="1622.1" y1="415.7" x2="1631.1" y2="415.7" stroke-width="1.3"/>
<line x1="1622.1" y1="419.3" x2="1631.1" y2="419.3" stroke-width="1.3"/>
<rect x="1623.7" y="367.9" width="5.8" height="13.6" class="b"/>
<polyline points="1572.7,347.5 1572.7,593.1 1482.5,593.1"/>
<rect x="1569.8" y="375.4" width="5.8" height="13.6" class="b"/>
<rect x="1569.8" y="411.7" width="5.8" height="13.6" class="b"/>
<rect x="1569.8" y="465.4" width="5.8" height="13.6" class="b"/>
<polyline points="1504.6,445.2 1504.6,561.6"/>
<rect x="1501.7" y="460.8" width="5.8" height="13.6" class="b"/>
<rect x="1501.7" y="519.0" width="5.8" height="13.6" class="b"/>
<polygon points="1504.6,561.6 1500.2,566.2 1500.2,579.1 1509.0,579.1 1509.0,566.2" class="b"/>
<text transform="translate(1514.0 467.9) rotate(-90) scale(1 1.15)" y="2.3">43K</text>
<text transform="translate(1520.3 467.9) rotate(-90) scale(1 1.15)" y="2.3">R583</text>
<text transform="translate(1560.6 382.2) rotate(-90) scale(1 1.15)" y="2.3">R585</text>
<text transform="translate(1566.9 382.2) rotate(-90) scale(1 1.15)" y="2.3">20K</text>
<text transform="translate(1560.6 418.5) rotate(-90) scale(1 1.15)" y="2.3">R586</text>
<text transform="translate(1566.9 418.5) rotate(-90) scale(1 1.15)" y="2.3">820</text>
<text transform="translate(1560.1 472.2) rotate(-90) scale(1 1.15)" y="2.3">R587</text>
<text transform="translate(1566.4 472.2) rotate(-90) scale(1 1.15)" y="2.3">2.4K</text>
<text transform="translate(1614.0 374.4) rotate(-90) scale(1 1.15)" y="2.3">R588</text>
<text transform="translate(1620.3 374.4) rotate(-90) scale(1 1.15)" y="2.3">1K</text>
<text transform="translate(1612.7 418.5) rotate(-90) scale(1 1.15)" y="2.3">C572</text>
<text transform="translate(1619.8 418.0) rotate(-90) scale(1 1.15)" y="2.3">33n</text>
<circle cx="175.6" cy="664.9" r="4.3" class="b"/>
<text transform="translate(175.6 664.9) scale(1 1.15)" y="2.3" style="font-size:6.5px;">5</text>
<circle cx="207.1" cy="664.9" r="4.3" class="b"/>
<text transform="translate(207.1 664.9) scale(1 1.15)" y="2.3" style="font-size:6.5px;">4</text>
<circle cx="175.6" cy="700.1" r="4.3" class="b"/>
<text transform="translate(175.6 700.1) scale(1 1.15)" y="2.3" style="font-size:6.5px;">8</text>
<circle cx="207.1" cy="700.1" r="4.3" class="b"/>
<text transform="translate(207.1 700.1) scale(1 1.15)" y="2.3" style="font-size:6.5px;">1</text>
<polyline points="190.7,664.9 190.7,700.1"/>
<polyline points="192.2,664.9 192.2,700.1"/>
<polyline points="179.8,664.9 181.9,664.9"/>
<polyline points="179.8,700.1 181.9,700.1"/>
<polyline points="202.8,664.9 201.0,664.9"/>
<polyline points="202.8,700.1 201.0,700.1"/>
<rect x="180.4" y="664.9" width="3" height="35.2" class="wf"/>
<path d="M181.9 664.9 a5.72 4.4 0 0 1 0 8.8 a5.72 4.4 0 0 1 0 8.8 a5.72 4.4 0 0 1 0 8.8 a5.72 4.4 0 0 1 0 8.8" class="n"/>
<rect x="199.5" y="664.9" width="3" height="35.2" class="wf"/>
<path d="M201.0 664.9 a5.72 4.4 0 0 0 0 8.8 a5.72 4.4 0 0 0 0 8.8 a5.72 4.4 0 0 0 0 8.8 a5.72 4.4 0 0 0 0 8.8" class="n"/>
<circle cx="183.1" cy="695.6" r="1.6" class="d"/>
<circle cx="200.3" cy="695.6" r="1.6" class="d"/>
<polyline points="171.3,700.3 137.8,700.3 137.8,830.5 168.0,830.5"/>
<polyline points="186.4,830.5 228.0,830.5 228.0,850.6"/>
<rect x="167.8" y="825.8" width="18.5" height="9.5" class="b"/>
<polyline points="168.0,830.5 186.4,830.5"/>
<polyline points="211.3,700.3 245.6,700.3 245.6,850.6"/>
<circle cx="137.8" cy="732.0" r="2.2" class="d"/>
<circle cx="245.6" cy="732.0" r="2.2" class="d"/>
<circle cx="137.8" cy="768.0" r="2.2" class="d"/>
<circle cx="245.6" cy="768.0" r="2.2" class="d"/>
<circle cx="245.6" cy="830.5" r="2.2" class="d"/>
<polyline points="137.8,732.0 245.6,732.0"/>
<rect x="189.2" y="730.0" width="4.4" height="4" class="wf"/>
<line x1="189.2" y1="727.7" x2="189.2" y2="736.3" stroke-width="1.3"/>
<line x1="193.6" y1="727.7" x2="193.6" y2="736.3" stroke-width="1.3"/>
<text transform="translate(191.4 716.9) scale(1 1.15)" y="2.3">C504</text>
<text transform="translate(191.4 723.2) scale(1 1.15)" y="2.3">0.1u</text>
<text transform="translate(184.6 727.7) scale(1 1.15)" y="2.3" style="font-size:5px;">o</text>
<text transform="translate(191.4 741.1) scale(1 1.15)" y="2.3">275VAC</text>
<polyline points="137.8,768.0 245.6,768.0"/>
<rect x="183.2" y="764.8" width="16.4" height="6.5" class="b"/>
<polyline points="186.9,768.0 196.0,768.0"/>
<text transform="translate(191.4 755.4) scale(1 1.15)" y="2.3">R501</text>
<text transform="translate(191.4 761.2) scale(1 1.15)" y="2.3" class="g2">1M</text>
<polyline points="245.6,768.0 285.4,768.0 285.4,830.5 245.6,830.5"/>
<rect x="242.4" y="795.7" width="6.3" height="15.6" class="b"/>
<rect x="282.2" y="795.7" width="6.3" height="15.6" class="b"/>
<polyline points="233.0,813.4 253.1,797.0"/>
<polyline points="233.0,813.4 233.8,820.9"/>
<text transform="translate(237.5 817.9) scale(1 1.15)" y="2.3" style="font-size:4px;">+t°</text>
<polyline points="272.8,813.4 292.9,797.0"/>
<polyline points="272.8,813.4 273.6,820.9"/>
<text transform="translate(277.3 817.9) scale(1 1.15)" y="2.3" style="font-size:4px;">+t°</text>
<text transform="translate(257.7 805.8) rotate(-90) scale(1 1.15)" y="2.3">5D-15</text>
<text transform="translate(264.5 805.8) rotate(-90) scale(1 1.15)" y="2.3">RT501</text>
<text transform="translate(298.0 805.8) rotate(-90) scale(1 1.15)" y="2.3">5D-15</text>
<text transform="translate(304.8 805.8) rotate(-90) scale(1 1.15)" y="2.3">RT502</text>
<text transform="translate(176.3 812.1) scale(1 1.15)" y="2.3">FU501</text>
<text transform="translate(176.3 820.9) scale(1 1.15)" y="2.3">5A/250V</text>
<rect x="218.4" y="848.6" width="36.0" height="17.6" class="n2"/>
<circle cx="227.5" cy="857.4" r="6.8" class="b"/>
<circle cx="245.1" cy="857.4" r="6.8" class="b"/>
<text transform="translate(226.7 857.4) rotate(90) scale(1 1.15)" y="2.3">2</text>
<text transform="translate(244.3 857.4) rotate(90) scale(1 1.15)" y="2.3">1</text>
<text transform="translate(263.7 857.4) rotate(-90) scale(1 1.15)" y="2.3">X501</text>
<text transform="translate(310.6 736.5) scale(1 1.15)" y="2.3">18V</text>
<polygon points="339.5,736.5 334.9,732.1 322.0,732.1 322.0,740.9 334.9,740.9" class="b"/>
<polyline points="339.5,736.5 401.8,736.5"/>
<polyline points="447.1,736.5 503.8,736.5"/>
<rect x="401.8" y="723.2" width="45.3" height="26.7" stroke-width="1.5"/>
<text transform="translate(423.9 717.6) scale(1 1.15)" y="2.3">N504</text>
<text transform="translate(423.9 727.2) scale(1 1.15)" y="2.3">KA78090R</text>
<text transform="translate(408.1 737.0) scale(1 1.15)" y="2.3">IN</text>
<text transform="translate(437.8 738.3) scale(1 1.15)" y="2.3">OUT</text>
<text transform="translate(424.4 745.3) scale(1 1.15)" y="2.3">GND</text>
<circle cx="352.6" cy="736.5" r="2.2" class="d"/>
<circle cx="496.2" cy="736.5" r="2.2" class="d"/>
<circle cx="424.4" cy="803.3" r="2.2" class="d"/>
<circle cx="321.2" cy="879.8" r="2.2" class="d"/>
<circle cx="352.6" cy="879.8" r="2.2" class="d"/>
<circle cx="432.0" cy="879.8" r="2.2" class="d"/>
<circle cx="496.2" cy="879.8" r="2.2" class="d"/>
<circle cx="401.8" cy="938.0" r="2.2" class="d"/>
<circle cx="137.8" cy="1014.4" r="2.2" class="d"/>
<circle cx="155.4" cy="1014.4" r="2.2" class="d"/>
<circle cx="289.7" cy="1014.4" r="2.2" class="d"/>
<polyline points="352.6,736.5 352.6,803.3 496.2,803.3"/>
<rect x="350.6" y="770.8" width="4" height="4.4" class="wf"/>
<line x1="348.3" y1="770.8" x2="356.9" y2="770.8" stroke-width="1.3"/>
<line x1="348.3" y1="775.2" x2="356.9" y2="775.2" stroke-width="1.3"/>
<polyline points="424.4,749.9 424.4,821.7"/>
<line x1="417.9" y1="821.7" x2="430.9" y2="821.7"/>
<line x1="420.4" y1="821.7" x2="417.4" y2="826.2"/>
<line x1="424.9" y1="821.7" x2="421.9" y2="826.2"/>
<line x1="429.4" y1="821.7" x2="426.4" y2="826.2"/>
<text transform="translate(347.6 773.0) rotate(-90) scale(1 1.15)" y="2.3">35V</text>
<text transform="translate(355.9 766.0) scale(1 1.15)" y="2.3" style="font-size:8.5px;">+</text>
<text transform="translate(364.5 772.3) rotate(-90) scale(1 1.15)" y="2.3">220u</text>
<text transform="translate(371.0 772.3) rotate(-90) scale(1 1.15)" y="2.3">C523</text>
<text transform="translate(490.7 772.3) rotate(-90) scale(1 1.15)" y="2.3">35V</text>
<text transform="translate(499.5 766.0) scale(1 1.15)" y="2.3" style="font-size:8.5px;">+</text>
<polyline points="352.6,879.8 352.6,839.3 390.4,839.3"/>
<polyline points="404.8,839.3 496.2,839.3 496.2,879.8"/>
<rect x="390.7" y="836.4" width="13.6" height="5.8" class="b"/>
<text transform="translate(397.5 825.9) scale(1 1.15)" y="2.3">R506</text>
<text transform="translate(397.5 832.7) scale(1 1.15)" y="2.3">1</text>
<text transform="translate(272.0 879.3) scale(1 1.15)" y="2.3">5V</text>
<polygon points="299.2,879.8 294.6,875.4 281.7,875.4 281.7,884.2 294.6,884.2" class="b"/>
<polyline points="299.2,879.8 379.6,879.8"/>
<polyline points="424.4,879.8 503.8,879.8"/>
<rect x="379.6" y="866.2" width="44.8" height="27.2" stroke-width="1.5"/>
<text transform="translate(401.3 860.7) scale(1 1.15)" y="2.3">N503</text>
<text transform="translate(401.8 871.3) scale(1 1.15)" y="2.3">AS1117-3V3</text>
<text transform="translate(386.1 881.4) scale(1 1.15)" y="2.3">IN</text>
<text transform="translate(415.6 881.4) scale(1 1.15)" y="2.3">OUT</text>
<polyline points="321.2,879.8 321.2,938.0 496.2,938.0"/>
<rect x="319.2" y="913.2" width="4" height="4.4" class="wf"/>
<line x1="316.9" y1="913.2" x2="325.5" y2="913.2" stroke-width="1.3"/>
<line x1="316.9" y1="917.6" x2="325.5" y2="917.6" stroke-width="1.3"/>
<polyline points="401.8,893.5 401.8,956.4"/>
<line x1="395.3" y1="956.4" x2="408.3" y2="956.4"/>
<line x1="397.8" y1="956.4" x2="394.8" y2="960.9"/>
<line x1="402.3" y1="956.4" x2="399.3" y2="960.9"/>
<line x1="406.8" y1="956.4" x2="403.8" y2="960.9"/>
<text transform="translate(316.6 915.4) rotate(-90) scale(1 1.15)" y="2.3">16V</text>
<text transform="translate(324.9 909.1) scale(1 1.15)" y="2.3" style="font-size:8.5px;">+</text>
<text transform="translate(333.8 915.4) rotate(-90) scale(1 1.15)" y="2.3">100u</text>
<text transform="translate(340.1 915.4) rotate(-90) scale(1 1.15)" y="2.3">C519</text>
<text transform="translate(490.7 915.4) rotate(-90) scale(1 1.15)" y="2.3">16V</text>
<text transform="translate(499.5 909.1) scale(1 1.15)" y="2.3" style="font-size:8.5px;">+</text>
<text transform="translate(455.9 987.2) scale(1 1.15)" y="2.3" style="font-size:7.5px;">T501</text>
<text transform="translate(455.4 994.7) scale(1 1.15)" y="2.3" style="font-size:7.5px;">SRW16ES-915H103-1</text>
<polyline points="119.6,1052.6 119.6,1014.4 404.8,1014.4"/>
<polyline points="137.8,1014.4 137.8,1052.6"/>
<polyline points="155.4,1014.4 155.4,1052.6"/>
<polyline points="289.7,1014.4 289.7,1052.6"/>
<polyline points="173.8,1052.6 173.8,1032.5 184.6,1032.5"/>
<polyline points="198.5,1032.5 220.4,1032.5"/>
<polyline points="234.3,1032.5 254.4,1032.5 254.4,1052.6"/>
<rect x="184.6" y="1029.6" width="13.6" height="5.8" class="b"/>
<rect x="220.7" y="1029.6" width="13.6" height="5.8" class="b"/>
<text transform="translate(191.4 1019.9) scale(1 1.15)" y="2.3">R597</text>
<text transform="translate(191.4 1026.2) scale(1 1.15)" y="2.3">47K</text>
<text transform="translate(227.5 1019.9) scale(1 1.15)" y="2.3">R598</text>
<text transform="translate(227.5 1026.2) scale(1 1.15)" y="2.3">47K</text>
<polyline points="495.0,736.5 536.5,736.5"/>
<polygon points="536.5,736.5 541.1,732.1 554.0,732.1 554.0,740.9 541.1,740.9" class="b"/>
<text transform="translate(576.1 739.5) scale(1 1.15)" y="2.3">9VSC</text>
<polyline points="496.2,736.5 496.2,803.3"/>
<rect x="494.2" y="770.8" width="4" height="4.4" class="wf"/>
<line x1="491.9" y1="770.8" x2="500.5" y2="770.8" stroke-width="1.3"/>
<line x1="491.9" y1="775.2" x2="500.5" y2="775.2" stroke-width="1.3"/>
<text transform="translate(508.8 772.3) rotate(-90) scale(1 1.15)" y="2.3">220u</text>
<text transform="translate(515.1 772.3) rotate(-90) scale(1 1.15)" y="2.3">C528</text>
<polyline points="495.0,879.8 532.2,879.8"/>
<polygon points="532.2,879.8 536.8,875.4 549.7,875.4 549.7,884.2 536.8,884.2" class="b"/>
<text transform="translate(540.3 890.9) scale(1 1.15)" y="2.3">Vsb</text>
<polyline points="496.2,879.8 496.2,938.0"/>
<rect x="494.2" y="913.2" width="4" height="4.4" class="wf"/>
<line x1="491.9" y1="913.2" x2="500.5" y2="913.2" stroke-width="1.3"/>
<line x1="491.9" y1="917.6" x2="500.5" y2="917.6" stroke-width="1.3"/>
<text transform="translate(508.8 915.4) rotate(-90) scale(1 1.15)" y="2.3">100u</text>
<text transform="translate(515.1 915.4) rotate(-90) scale(1 1.15)" y="2.3">C529</text>
<polyline points="765.0,697.5 765.0,702.5 776.3,708.8"/>
<polyline points="776.3,707.6 776.3,721.4" stroke-width="1.4"/>
<polyline points="776.3,717.1 765.0,723.2 765.0,763.0"/>
<line x1="758.5" y1="763.0" x2="771.5" y2="763.0"/>
<line x1="761.0" y1="763.0" x2="758.0" y2="767.5"/>
<line x1="765.5" y1="763.0" x2="762.5" y2="767.5"/>
<line x1="770.0" y1="763.0" x2="767.0" y2="767.5"/>
<polygon points="765.7,722.7 770.0,722.2 768.3,718.6" class="d"/>
<polyline points="776.3,714.4 872.8,714.4"/>
<rect x="834.5" y="711.5" width="13.6" height="5.8" class="b"/>
<polygon points="872.8,714.4 877.4,710.0 890.3,710.0 890.3,718.8 877.4,718.8" class="b"/>
<text transform="translate(882.9 717.1) scale(1 1.15)" y="2.3" style="text-anchor:start;">Standby_2</text>
<text transform="translate(754.4 710.6) scale(1 1.15)" y="2.3">V505</text>
<text transform="translate(750.6 718.4) scale(1 1.15)" y="2.3">BC847B</text>
<text transform="translate(841.3 702.0) scale(1 1.15)" y="2.3">R556</text>
<text transform="translate(841.3 707.6) scale(1 1.15)" y="2.3">10K</text>
<polyline points="971.0,697.5 971.0,773.0"/>
<rect x="969.0" y="714.2" width="4" height="4.4" class="wf"/>
<line x1="966.7" y1="714.2" x2="975.3" y2="714.2" stroke-width="1.3"/>
<line x1="966.7" y1="718.6" x2="975.3" y2="718.6" stroke-width="1.3"/>
<line x1="964.5" y1="773.0" x2="977.5" y2="773.0"/>
<line x1="967.0" y1="773.0" x2="964.0" y2="777.5"/>
<line x1="971.5" y1="773.0" x2="968.5" y2="777.5"/>
<line x1="976.0" y1="773.0" x2="973.0" y2="777.5"/>
<polyline points="971.0,754.2 1003.8,754.2"/>
<text transform="translate(966.0 718.1) rotate(-90) scale(1 1.15)" y="2.3">16V</text>
<text transform="translate(974.8 711.3) scale(1 1.15)" y="2.3" style="font-size:8.5px;">+</text>
<text transform="translate(982.4 717.1) rotate(-90) scale(1 1.15)" y="2.3">47u</text>
<text transform="translate(988.7 717.1) rotate(-90) scale(1 1.15)" y="2.3">C546</text>
<circle cx="971.0" cy="754.2" r="2.2" class="d"/>
<circle cx="576.8" cy="938.0" r="2.2" class="d"/>
<circle cx="612.6" cy="938.0" r="2.2" class="d"/>
<circle cx="746.9" cy="938.0" r="2.2" class="d"/>
<circle cx="778.3" cy="938.0" r="2.2" class="d"/>
<circle cx="505.5" cy="969.5" r="2.2" class="d"/>
<circle cx="612.6" cy="1001.0" r="2.2" class="d"/>
<circle cx="746.9" cy="1001.0" r="2.2" class="d"/>
<circle cx="778.3" cy="1001.0" r="2.2" class="d"/>
<circle cx="518.4" cy="1023.2" r="2.2" class="d"/>
<circle cx="590.2" cy="1023.2" r="2.2" class="d"/>
<circle cx="625.9" cy="1023.2" r="2.2" class="d"/>
<circle cx="688.9" cy="1023.2" r="2.2" class="d"/>
<circle cx="715.9" cy="1023.2" r="2.2" class="d"/>
<circle cx="590.2" cy="1041.3" r="2.2" class="d"/>
<polyline points="505.5,1041.6 505.5,938.0 657.4,938.0 662.5,949.4"/>
<rect x="547.8" y="936.0" width="3.6" height="4" class="wf"/>
<line x1="547.8" y1="933.5" x2="547.8" y2="942.5" stroke-width="1.3"/>
<line x1="551.4" y1="933.5" x2="551.4" y2="942.5" stroke-width="1.3"/>
<polyline points="659.9,949.4 673.8,949.4" stroke-width="1.4"/>
<polyline points="671.3,949.4 675.1,938.0 801.0,938.0"/>
<rect x="700.3" y="935.1" width="13.6" height="5.8" class="b"/>
<polygon points="801.0,938.0 805.6,933.6 818.5,933.6 818.5,942.4 805.6,942.4" class="b"/>
<text transform="translate(838.3 941.3) scale(1 1.15)" y="2.3">32VSC</text>
<polygon points="662.5,949.4 658.7,945.6 662.5,943.8" class="d"/>
<polyline points="666.2,949.4 666.2,982.9 823.7,982.9 834.3,987.2"/>
<rect x="695.7" y="980.0" width="13.6" height="5.8" class="b"/>
<polyline points="834.3,984.6 834.3,999.2" stroke-width="1.4"/>
<polyline points="834.3,996.0 823.7,1001.0 612.6,1001.0"/>
<polygon points="823.7,1001.0 828.7,1001.0 826.7,997.2" class="d"/>
<polyline points="834.3,992.2 913.1,992.2"/>
<rect x="861.5" y="989.3" width="13.6" height="5.8" class="b"/>
<polygon points="913.1,992.2 917.7,987.8 930.6,987.8 930.6,996.6 917.7,996.6" class="b"/>
<text transform="translate(933.2 1002.3) scale(1 1.15)" y="2.3">Standby_2</text>
<text transform="translate(868.3 978.3) scale(1 1.15)" y="2.3">R559</text>
<text transform="translate(868.3 985.4) scale(1 1.15)" y="2.3">10K</text>
<text transform="translate(813.1 988.4) scale(1 1.15)" y="2.3">V506</text>
<text transform="translate(808.6 996.5) scale(1 1.15)" y="2.3">BC847B</text>
<text transform="translate(665.5 919.1) rotate(-90) scale(1 1.15)" y="2.3">2SA1015Y</text>
<text transform="translate(673.3 936.8) rotate(-90) scale(1 1.15)" y="2.3">V504</text>
<text transform="translate(706.5 925.9) scale(1 1.15)" y="2.3">R549</text>
<text transform="translate(706.5 931.7) scale(1 1.15)" y="2.3">1K</text>
<text transform="translate(702.3 992.2) scale(1 1.15)" y="2.3">100K</text>
<text transform="translate(702.3 998.0) scale(1 1.15)" y="2.3">R550</text>
<polyline points="505.5,969.5 576.8,969.5 576.8,938.0"/>
<polygon points="546.1,966.0 546.1,973.0 553.1,969.5" class="d"/>
<line x1="553.1" y1="966.0" x2="553.1" y2="973.0" stroke-width="1.2"/>
<text transform="translate(549.6 924.2) scale(1 1.15)" y="2.3">C531</text>
<text transform="translate(549.6 930.5) scale(1 1.15)" y="2.3">100p</text>
<text transform="translate(549.6 944.8) scale(1 1.15)" y="2.3">500V</text>
<text transform="translate(549.6 953.7) scale(1 1.15)" y="2.3">D510</text>
<text transform="translate(549.6 960.7) scale(1 1.15)" y="2.3">SS295G</text>
<polyline points="612.6,938.0 612.6,1014.9"/>
<rect x="610.6" y="958.5" width="4" height="4.4" class="wf"/>
<line x1="608.3" y1="958.5" x2="616.9" y2="958.5" stroke-width="1.3"/>
<line x1="608.3" y1="962.9" x2="616.9" y2="962.9" stroke-width="1.3"/>
<line x1="606.1" y1="1014.9" x2="619.1" y2="1014.9"/>
<line x1="608.6" y1="1014.9" x2="605.6" y2="1019.4"/>
<line x1="613.1" y1="1014.9" x2="610.1" y2="1019.4"/>
<line x1="617.6" y1="1014.9" x2="614.6" y2="1019.4"/>
<text transform="translate(607.8 960.7) rotate(-90) scale(1 1.15)" y="2.3">50V</text>
<text transform="translate(616.4 953.7) scale(1 1.15)" y="2.3" style="font-size:8.5px;">+</text>
<text transform="translate(623.4 959.4) rotate(-90) scale(1 1.15)" y="2.3">22u</text>
<text transform="translate(630.2 960.7) rotate(-90) scale(1 1.15)" y="2.3">C535</text>
<polyline points="746.9,938.0 746.9,1001.0"/>
<polygon points="746.9,960.7 742.3,969.8 751.5,969.8" class="d"/>
<polyline points="742.5,960.0 749.8,960.0 752.3,963.8"/>
<text transform="translate(732.2 964.5) rotate(-90) scale(1 1.15)" y="2.3">N509</text>
<text transform="translate(739.3 965.7) rotate(-90) scale(1 1.15)" y="2.3">uPC574</text>
<polyline points="778.3,938.0 778.3,1001.0"/>
<rect x="776.3" y="961.0" width="4" height="4.4" class="wf"/>
<line x1="774.0" y1="961.0" x2="782.6" y2="961.0" stroke-width="1.3"/>
<line x1="774.0" y1="965.4" x2="782.6" y2="965.4" stroke-width="1.3"/>
<text transform="translate(773.8 964.5) rotate(-90) scale(1 1.15)" y="2.3">50V</text>
<text transform="translate(782.1 958.2) scale(1 1.15)" y="2.3" style="font-size:8.5px;">+</text>
<text transform="translate(789.7 964.0) rotate(-90) scale(1 1.15)" y="2.3">22u</text>
<text transform="translate(796.5 964.5) rotate(-90) scale(1 1.15)" y="2.3">C542</text>
<polyline points="518.4,1052.6 518.4,996.7 590.2,996.7 590.2,1041.3 554.7,1041.3 554.7,1052.6"/>
<rect x="547.8" y="994.7" width="3.6" height="4" class="wf"/>
<line x1="547.8" y1="992.2" x2="547.8" y2="1001.2" stroke-width="1.3"/>
<line x1="551.4" y1="992.2" x2="551.4" y2="1001.2" stroke-width="1.3"/>
<polyline points="518.4,1023.2 640.6,1023.2"/>
<polygon points="546.1,1019.7 546.1,1026.7 553.1,1023.2" class="d"/>
<line x1="553.1" y1="1019.7" x2="553.1" y2="1026.7" stroke-width="1.2"/>
<rect x="640.6" y="1021.7" width="16.8" height="3" class="wf"/>
<path d="M640.6 1023.2 a2.8 3.64 0 0 1 5.6 0 a2.8 3.64 0 0 1 5.6 0 a2.8 3.64 0 0 1 5.6 0" class="n"/>
<polyline points="657.4,1023.2 774.1,1023.2"/>
<polygon points="792.2,1023.2 787.6,1018.8 774.7,1018.8 774.7,1027.6 787.6,1027.6" class="b"/>
<text transform="translate(801.0 1023.2) scale(1 1.15)" y="2.3">5V</text>
<polyline points="625.9,1023.2 625.9,1052.6"/>
<polyline points="688.9,1023.2 688.9,1052.6"/>
<polyline points="715.9,1023.2 715.9,1052.6"/>
<text transform="translate(549.6 982.1) scale(1 1.15)" y="2.3">C532</text>
<text transform="translate(549.6 988.9) scale(1 1.15)" y="2.3">100p</text>
<text transform="translate(549.6 1007.3) scale(1 1.15)" y="2.3">D511</text>
<text transform="translate(549.6 1014.4) scale(1 1.15)" y="2.3">MBR360</text>
<text transform="translate(648.6 1012.3) scale(1 1.15)" y="2.3">L507</text>
<text transform="translate(648.6 1028.7) scale(1 1.15)" y="2.3">1KHz</text>
<polyline points="971.0,696.2 1034.0,696.2 1034.0,754.2 971.0,754.2"/>
<rect x="1029.5" y="718.4" width="9.1" height="18.1" stroke-width="1.4" class="b"/>
<text transform="translate(1034.5 727.7) rotate(-90) scale(1 1.15)" y="2.3" style="font-size:6px;">2W</text>
<text transform="translate(1018.1 729.0) rotate(-90) scale(1 1.15)" y="2.3">R504</text>
<text transform="translate(1024.4 727.7) rotate(-90) scale(1 1.15)" y="2.3">33</text>
<text transform="translate(1045.8 806.3) scale(1 1.15)" y="2.3">18V</text>
<polygon points="1074.8,808.3 1070.2,803.9 1057.3,803.9 1057.3,812.7 1070.2,812.7" class="b"/>
<polyline points="1074.8,808.3 1123.9,808.3"/>
<rect x="1123.9" y="806.8" width="17.2" height="3" class="wf"/>
<path d="M1123.9 808.3 a2.87 3.73 0 0 1 5.73 0 a2.87 3.73 0 0 1 5.73 0 a2.87 3.73 0 0 1 5.73 0" class="n"/>
<polyline points="1141.1,808.3 1195.2,808.3"/>
<polygon points="1195.2,808.3 1199.8,803.9 1212.7,803.9 1212.7,812.7 1199.8,812.7" class="b"/>
<text transform="translate(1226.2 808.8) scale(1 1.15)" y="2.3">18VSC</text>
<circle cx="1172.8" cy="808.3" r="2.2" class="d"/>
<polyline points="1172.8,808.3 1172.8,884.6"/>
<rect x="1170.8" y="837.1" width="4" height="4.4" class="wf"/>
<line x1="1168.5" y1="837.1" x2="1177.1" y2="837.1" stroke-width="1.3"/>
<line x1="1168.5" y1="841.5" x2="1177.1" y2="841.5" stroke-width="1.3"/>
<line x1="1166.3" y1="884.6" x2="1179.3" y2="884.6"/>
<line x1="1168.8" y1="884.6" x2="1165.8" y2="889.1"/>
<line x1="1173.3" y1="884.6" x2="1170.3" y2="889.1"/>
<line x1="1177.8" y1="884.6" x2="1174.8" y2="889.1"/>
<text transform="translate(1132.2 797.5) scale(1 1.15)" y="2.3" style="font-size:7.5px;">L508</text>
<text transform="translate(1132.2 814.6) scale(1 1.15)" y="2.3">1KHz</text>
<text transform="translate(1167.5 839.3) rotate(-90) scale(1 1.15)" y="2.3">35V</text>
<text transform="translate(1176.3 832.2) scale(1 1.15)" y="2.3" style="font-size:8.5px;">+</text>
<text transform="translate(1184.6 839.3) rotate(-90) scale(1 1.15)" y="2.3">220u</text>
<text transform="translate(1191.4 839.3) rotate(-90) scale(1 1.15)" y="2.3">C555</text>
<text transform="translate(1007.6 1042.6) scale(1 1.15)" y="2.3">R563</text>
<text transform="translate(1007.6 1048.9) scale(1 1.15)" y="2.3">10K</text>
<rect x="1558.3" y="682.6" width="18.1" height="143.5" class="n2"/>
<circle cx="1567.4" cy="691.7" r="6.6" class="b"/>
<text transform="translate(1567.4 691.7) scale(1 1.15)" y="2.3" style="font-size:8.5px;">1</text>
<circle cx="1567.4" cy="709.6" r="6.6" class="b"/>
<text transform="translate(1567.4 709.6) scale(1 1.15)" y="2.3" style="font-size:8.5px;">2</text>
<circle cx="1567.4" cy="727.5" r="6.6" class="b"/>
<text transform="translate(1567.4 727.5) scale(1 1.15)" y="2.3" style="font-size:8.5px;">3</text>
<circle cx="1567.4" cy="745.4" r="6.6" class="b"/>
<text transform="translate(1567.4 745.4) scale(1 1.15)" y="2.3" style="font-size:8.5px;">4</text>
<circle cx="1567.4" cy="763.3" r="6.6" class="b"/>
<text transform="translate(1567.4 763.3) scale(1 1.15)" y="2.3" style="font-size:8.5px;">5</text>
<circle cx="1567.4" cy="781.2" r="6.6" class="b"/>
<text transform="translate(1567.4 781.2) scale(1 1.15)" y="2.3" style="font-size:8.5px;">6</text>
<circle cx="1567.4" cy="799.1" r="6.6" class="b"/>
<text transform="translate(1567.4 799.1) scale(1 1.15)" y="2.3" style="font-size:8.5px;">7</text>
<circle cx="1567.4" cy="817.1" r="6.6" class="b"/>
<text transform="translate(1567.4 817.1) scale(1 1.15)" y="2.3" style="font-size:8.5px;">8</text>
<text transform="translate(1587.0 672.8) scale(1 1.15)" y="2.3">X510</text>
<text transform="translate(1595.1 682.9) scale(1 1.15)" y="2.3">TJC3-08A</text>
<polyline points="1574.2,691.7 1602.9,691.7"/>
<polyline points="1574.2,709.6 1602.9,709.6"/>
<polyline points="1574.2,727.5 1602.9,727.5"/>
<polyline points="1574.2,745.4 1602.9,745.4"/>
<polyline points="1574.2,763.3 1602.9,763.3"/>
<polyline points="1574.2,781.2 1602.9,781.2"/>
<polyline points="1574.2,799.1 1602.9,799.1"/>
<polyline points="1574.2,817.1 1602.9,817.1"/>
<polyline points="1602.9,691.7 1602.9,745.3"/>
<polyline points="1602.9,763.2 1602.9,816.9"/>
<circle cx="1602.9" cy="691.7" r="2.2" class="d"/>
<circle cx="1602.9" cy="709.6" r="2.2" class="d"/>
<circle cx="1602.9" cy="727.5" r="2.2" class="d"/>
<circle cx="1602.9" cy="763.2" r="2.2" class="d"/>
<circle cx="1602.9" cy="781.1" r="2.2" class="d"/>
<circle cx="1602.9" cy="799.0" r="2.2" class="d"/>
<polyline points="1602.9,691.7 1621.0,691.7"/>
<polygon points="1621.0,691.7 1625.6,687.3 1638.5,687.3 1638.5,696.1 1625.6,696.1" class="b"/>
<text transform="translate(1633.6 677.8) scale(1 1.15)" y="2.3">24VC</text>
<polyline points="1602.9,763.2 1621.0,763.2"/>
<polygon points="1621.0,763.2 1625.6,758.8 1638.5,758.8 1638.5,767.6 1625.6,767.6" class="b"/>
<text transform="translate(1647.5 763.0) scale(1 1.15)" y="2.3">GND</text>
<rect x="1558.3" y="839.3" width="18.1" height="71.9" class="n2"/>
<circle cx="1567.4" cy="848.4" r="6.6" class="b"/>
<text transform="translate(1567.4 848.4) scale(1 1.15)" y="2.3" style="font-size:8.5px;">1</text>
<circle cx="1567.4" cy="866.3" r="6.6" class="b"/>
<text transform="translate(1567.4 866.3) scale(1 1.15)" y="2.3" style="font-size:8.5px;">2</text>
<circle cx="1567.4" cy="884.2" r="6.6" class="b"/>
<text transform="translate(1567.4 884.2) scale(1 1.15)" y="2.3" style="font-size:8.5px;">3</text>
<circle cx="1567.4" cy="902.1" r="6.6" class="b"/>
<text transform="translate(1567.4 902.1) scale(1 1.15)" y="2.3" style="font-size:8.5px;">4</text>
<text transform="translate(1567.4 832.7) scale(1 1.15)" y="2.3">X502</text>
<polyline points="1574.2,848.4 1634.9,848.4"/>
<polyline points="1634.9,841.8 1634.9,854.9"/>
<polyline points="1634.9,843.8 1638.9,846.3"/>
<polyline points="1634.9,848.4 1638.9,850.9"/>
<polyline points="1634.9,852.9 1638.9,855.4"/>
<polyline points="1574.2,866.3 1616.5,866.3"/>
<polygon points="1616.5,866.2 1621.1,861.8 1634.0,861.8 1634.0,870.6 1621.1,870.6" class="b"/>
<text transform="translate(1644.4 876.3) scale(1 1.15)" y="2.3">PWM</text>
<polyline points="1574.2,884.2 1616.5,884.2"/>
<polygon points="1616.5,884.4 1621.1,880.0 1634.0,880.0 1634.0,888.8 1621.1,888.8" class="b"/>
<text transform="translate(1637.9 894.5) scale(1 1.15)" y="2.3">ON/OFF</text>
<polyline points="1573.2,902.3 1629.8,902.3 1629.8,956.4"/>
<rect x="1600.9" y="899.4" width="13.6" height="5.8" class="b"/>
<polygon points="1629.8,956.4 1625.4,961.0 1625.4,973.9 1634.2,973.9 1634.2,961.0" class="b"/>
<text transform="translate(1630.3 988.4) rotate(-90) scale(1 1.15)" y="2.3">E_PWM</text>
<text transform="translate(1607.2 911.1) scale(1 1.15)" y="2.3">1K</text>
<text transform="translate(1607.2 917.4) scale(1 1.15)" y="2.3">R503</text>
<rect x="1679.0" y="714.1" width="18.1" height="197.2" class="n2"/>
<circle cx="1688.0" cy="723.2" r="6.6" class="b"/>
<text transform="translate(1688.0 723.2) scale(1 1.15)" y="2.3" style="font-size:8.5px;">1</text>
<circle cx="1688.0" cy="741.1" r="6.6" class="b"/>
<text transform="translate(1688.0 741.1) scale(1 1.15)" y="2.3" style="font-size:8.5px;">2</text>
<circle cx="1688.0" cy="759.0" r="6.6" class="b"/>
<text transform="translate(1688.0 759.0) scale(1 1.15)" y="2.3" style="font-size:8.5px;">3</text>
<circle cx="1688.0" cy="776.9" r="6.6" class="b"/>
<text transform="translate(1688.0 776.9) scale(1 1.15)" y="2.3" style="font-size:8.5px;">4</text>
<circle cx="1688.0" cy="794.8" r="6.6" class="b"/>
<text transform="translate(1688.0 794.8) scale(1 1.15)" y="2.3" style="font-size:8.5px;">5</text>
<circle cx="1688.0" cy="812.7" r="6.6" class="b"/>
<text transform="translate(1688.0 812.7) scale(1 1.15)" y="2.3" style="font-size:8.5px;">6</text>
<circle cx="1688.0" cy="830.6" r="6.6" class="b"/>
<text transform="translate(1688.0 830.6) scale(1 1.15)" y="2.3" style="font-size:8.5px;">7</text>
<circle cx="1688.0" cy="848.5" r="6.6" class="b"/>
<text transform="translate(1688.0 848.5) scale(1 1.15)" y="2.3" style="font-size:8.5px;">8</text>
<circle cx="1688.0" cy="866.4" r="6.6" class="b"/>
<text transform="translate(1688.0 866.4) scale(1 1.15)" y="2.3" style="font-size:8.5px;">9</text>
<circle cx="1688.0" cy="884.4" r="6.6" class="b"/>
<text transform="translate(1688.0 884.4) scale(1 1.15)" y="2.3" style="font-size:7.3px;">10</text>
<circle cx="1688.0" cy="902.3" r="6.6" class="b"/>
<text transform="translate(1688.0 902.3) scale(1 1.15)" y="2.3" style="font-size:7.3px;">11</text>
<text transform="translate(1709.9 704.5) scale(1 1.15)" y="2.3">X505</text>
<text transform="translate(1718.5 712.1) scale(1 1.15)" y="2.3">TJC3-11A</text>
<polyline points="1694.8,723.2 1751.2,723.2"/>
<polygon points="1751.2,723.2 1755.8,718.8 1768.7,718.8 1768.7,727.6 1755.8,727.6" class="b"/>
<text transform="translate(1798.6 725.9) scale(1 1.15)" y="2.3" style="text-anchor:end;">9VSC</text>
<polyline points="1694.8,759.0 1751.2,759.0"/>
<polygon points="1751.2,759.0 1755.8,754.6 1768.7,754.6 1768.7,763.4 1755.8,763.4" class="b"/>
<text transform="translate(1798.6 761.8) scale(1 1.15)" y="2.3" style="text-anchor:end;">5VSC</text>
<polyline points="1694.8,794.8 1751.2,794.8"/>
<polygon points="1751.2,794.8 1755.8,790.4 1768.7,790.4 1768.7,799.2 1755.8,799.2" class="b"/>
<text transform="translate(1798.6 797.6) scale(1 1.15)" y="2.3" style="text-anchor:end;">18VSC</text>
<polyline points="1694.8,866.4 1751.2,866.4"/>
<polygon points="1751.2,866.4 1755.8,862.0 1768.7,862.0 1768.7,870.8 1755.8,870.8" class="b"/>
<text transform="translate(1798.6 869.2) scale(1 1.15)" y="2.3" style="text-anchor:end;">Vsb</text>
<polyline points="1694.8,902.3 1751.2,902.3"/>
<polygon points="1751.2,902.3 1755.8,897.9 1768.7,897.9 1768.7,906.7 1755.8,906.7" class="b"/>
<text transform="translate(1769.1 905.3) scale(1 1.15)" y="2.3" style="text-anchor:start;">Standby</text>
<polyline points="1694.8,741.1 1769.6,741.1"/>
<polyline points="1769.6,734.5 1769.6,747.6"/>
<polyline points="1769.6,736.5 1773.7,739.1"/>
<polyline points="1769.6,741.1 1773.7,743.6"/>
<polyline points="1769.6,745.6 1773.7,748.1"/>
<polyline points="1694.8,776.9 1769.6,776.9"/>
<polyline points="1769.6,770.4 1769.6,783.5"/>
<polyline points="1769.6,772.4 1773.7,774.9"/>
<polyline points="1769.6,776.9 1773.7,779.4"/>
<polyline points="1769.6,781.4 1773.7,784.0"/>
<polyline points="1694.8,830.6 1769.6,830.6"/>
<polyline points="1769.6,824.1 1769.6,837.2"/>
<polyline points="1769.6,826.1 1773.7,828.6"/>
<polyline points="1769.6,830.6 1773.7,833.1"/>
<polyline points="1769.6,835.2 1773.7,837.7"/>
<polyline points="1694.8,884.4 1769.6,884.4"/>
<polyline points="1769.6,877.8 1769.6,890.9"/>
<polyline points="1769.6,879.8 1773.7,882.3"/>
<polyline points="1769.6,884.4 1773.7,886.9"/>
<polyline points="1769.6,888.9 1773.7,891.4"/>
<polyline points="1693.8,812.6 1728.3,812.6 1728.3,794.7"/>
<polyline points="1693.8,848.4 1728.3,848.4 1728.3,830.5"/>
<circle cx="1728.3" cy="794.7" r="2.2" class="d"/>
<circle cx="1728.3" cy="830.5" r="2.2" class="d"/>
<rect x="1818.0" y="714.1" width="18.1" height="107.7" class="n2"/>
<circle cx="1827.1" cy="723.2" r="6.6" class="b"/>
<text transform="translate(1827.1 723.2) scale(1 1.15)" y="2.3" style="font-size:8.5px;">1</text>
<circle cx="1827.1" cy="741.1" r="6.6" class="b"/>
<text transform="translate(1827.1 741.1) scale(1 1.15)" y="2.3" style="font-size:8.5px;">2</text>
<circle cx="1827.1" cy="759.0" r="6.6" class="b"/>
<text transform="translate(1827.1 759.0) scale(1 1.15)" y="2.3" style="font-size:8.5px;">3</text>
<circle cx="1827.1" cy="776.9" r="6.6" class="b"/>
<text transform="translate(1827.1 776.9) scale(1 1.15)" y="2.3" style="font-size:8.5px;">4</text>
<circle cx="1827.1" cy="794.8" r="6.6" class="b"/>
<text transform="translate(1827.1 794.8) scale(1 1.15)" y="2.3" style="font-size:8.5px;">5</text>
<circle cx="1827.1" cy="812.7" r="6.6" class="b"/>
<text transform="translate(1827.1 812.7) scale(1 1.15)" y="2.3" style="font-size:8.5px;">6</text>
<text transform="translate(1827.1 707.1) scale(1 1.15)" y="2.3">X507</text>
<polyline points="1833.9,723.2 1912.0,723.2"/>
<polyline points="1912.0,716.6 1912.0,729.7"/>
<polyline points="1912.0,718.6 1916.0,721.2"/>
<polyline points="1912.0,723.2 1916.0,725.7"/>
<polyline points="1912.0,727.7 1916.0,730.2"/>
<polyline points="1833.9,759.0 1912.0,759.0"/>
<polyline points="1912.0,752.4 1912.0,765.5"/>
<polyline points="1912.0,754.5 1916.0,757.0"/>
<polyline points="1912.0,759.0 1916.0,761.5"/>
<polyline points="1912.0,763.5 1916.0,766.0"/>
<polyline points="1833.9,794.8 1912.0,794.8"/>
<polyline points="1912.0,788.3 1912.0,801.4"/>
<polyline points="1912.0,790.3 1916.0,792.8"/>
<polyline points="1912.0,794.8 1916.0,797.3"/>
<polyline points="1912.0,799.3 1916.0,801.9"/>
<polyline points="1833.9,741.1 1894.3,741.1"/>
<polygon points="1894.3,741.1 1898.9,736.7 1911.8,736.7 1911.8,745.5 1898.9,745.5" class="b"/>
<text transform="translate(1942.2 744.1) scale(1 1.15)" y="2.3" style="text-anchor:end;">5VSC</text>
<polyline points="1833.9,776.9 1894.3,776.9"/>
<polygon points="1894.3,776.9 1898.9,772.5 1911.8,772.5 1911.8,781.3 1898.9,781.3" class="b"/>
<text transform="translate(1942.2 779.9) scale(1 1.15)" y="2.3" style="text-anchor:end;">9VSC</text>
<polyline points="1833.9,812.7 1894.3,812.7"/>
<polygon points="1894.3,812.7 1898.9,808.3 1911.8,808.3 1911.8,817.1 1898.9,817.1" class="b"/>
<text transform="translate(1942.2 815.7) scale(1 1.15)" y="2.3" style="text-anchor:end;">32VSC</text>
<rect x="1818.0" y="839.3" width="18.1" height="89.8" class="n2"/>
<circle cx="1827.1" cy="848.4" r="6.6" class="b"/>
<text transform="translate(1827.1 848.4) scale(1 1.15)" y="2.3" style="font-size:8.5px;">1</text>
<circle cx="1827.1" cy="866.3" r="6.6" class="b"/>
<text transform="translate(1827.1 866.3) scale(1 1.15)" y="2.3" style="font-size:8.5px;">2</text>
<circle cx="1827.1" cy="884.2" r="6.6" class="b"/>
<text transform="translate(1827.1 884.2) scale(1 1.15)" y="2.3" style="font-size:8.5px;">3</text>
<circle cx="1827.1" cy="902.1" r="6.6" class="b"/>
<text transform="translate(1827.1 902.1) scale(1 1.15)" y="2.3" style="font-size:8.5px;">4</text>
<circle cx="1827.1" cy="920.0" r="6.6" class="b"/>
<text transform="translate(1827.1 920.0) scale(1 1.15)" y="2.3" style="font-size:8.5px;">5</text>
<text transform="translate(1827.1 832.7) scale(1 1.15)" y="2.3">X508</text>
<polyline points="1832.9,848.4 1898.6,848.4"/>
<polygon points="1898.6,848.4 1903.2,844.0 1916.1,844.0 1916.1,852.8 1903.2,852.8" class="b"/>
<text transform="translate(1935.9 851.4) scale(1 1.15)" y="2.3">24VSC</text>
<polyline points="1832.9,866.2 1872.2,866.2 1872.2,848.4"/>
<polyline points="1832.9,884.4 1912.0,884.4"/>
<polyline points="1912.0,877.8 1912.0,890.9"/>
<polyline points="1912.0,879.8 1916.0,882.4"/>
<polyline points="1912.0,884.4 1916.0,886.9"/>
<polyline points="1912.0,888.9 1916.0,891.4"/>
<polyline points="1832.9,902.3 1872.2,902.3"/>
<polyline points="1832.9,920.4 1872.2,920.4 1872.2,884.4"/>
<circle cx="1872.2" cy="848.4" r="2.2" class="d"/>
<circle cx="1872.2" cy="884.4" r="2.2" class="d"/>
<circle cx="1872.2" cy="902.3" r="2.2" class="d"/>
<rect x="1679.0" y="933.5" width="18.1" height="251.0" class="n2"/>
<circle cx="1688.0" cy="942.6" r="6.6" class="b"/>
<text transform="translate(1688.0 942.6) scale(1 1.15)" y="2.3" style="font-size:8.5px;">1</text>
<circle cx="1688.0" cy="960.5" r="6.6" class="b"/>
<text transform="translate(1688.0 960.5) scale(1 1.15)" y="2.3" style="font-size:8.5px;">2</text>
<circle cx="1688.0" cy="978.4" r="6.6" class="b"/>
<text transform="translate(1688.0 978.4) scale(1 1.15)" y="2.3" style="font-size:8.5px;">3</text>
<circle cx="1688.0" cy="996.3" r="6.6" class="b"/>
<text transform="translate(1688.0 996.3) scale(1 1.15)" y="2.3" style="font-size:8.5px;">4</text>
<circle cx="1688.0" cy="1014.2" r="6.6" class="b"/>
<text transform="translate(1688.0 1014.2) scale(1 1.15)" y="2.3" style="font-size:8.5px;">5</text>
<circle cx="1688.0" cy="1032.1" r="6.6" class="b"/>
<text transform="translate(1688.0 1032.1) scale(1 1.15)" y="2.3" style="font-size:8.5px;">6</text>
<circle cx="1688.0" cy="1050.0" r="6.6" class="b"/>
<text transform="translate(1688.0 1050.0) scale(1 1.15)" y="2.3" style="font-size:8.5px;">7</text>
<circle cx="1688.0" cy="1067.9" r="6.6" class="b"/>
<text transform="translate(1688.0 1067.9) scale(1 1.15)" y="2.3" style="font-size:8.5px;">8</text>
<circle cx="1688.0" cy="1085.8" r="6.6" class="b"/>
<text transform="translate(1688.0 1085.8) scale(1 1.15)" y="2.3" style="font-size:8.5px;">9</text>
<circle cx="1688.0" cy="1103.8" r="6.6" class="b"/>
<text transform="translate(1688.0 1103.8) scale(1 1.15)" y="2.3" style="font-size:7.3px;">10</text>
<circle cx="1688.0" cy="1121.7" r="6.6" class="b"/>
<text transform="translate(1688.0 1121.7) scale(1 1.15)" y="2.3" style="font-size:7.3px;">11</text>
<circle cx="1688.0" cy="1139.6" r="6.6" class="b"/>
<text transform="translate(1688.0 1139.6) scale(1 1.15)" y="2.3" style="font-size:7.3px;">12</text>
<circle cx="1688.0" cy="1157.5" r="6.6" class="b"/>
<text transform="translate(1688.0 1157.5) scale(1 1.15)" y="2.3" style="font-size:7.3px;">13</text>
<circle cx="1688.0" cy="1175.4" r="6.6" class="b"/>
<text transform="translate(1688.0 1175.4) scale(1 1.15)" y="2.3" style="font-size:7.3px;">14</text>
<text transform="translate(1710.9 924.9) scale(1 1.15)" y="2.3">X506</text>
<text transform="translate(1710.9 931.2) scale(1 1.15)" y="2.3">TJC3-14A</text>
<rect x="1849.2" y="974.1" width="18.2" height="215.1" class="n2"/>
<circle cx="1858.3" cy="983.1" r="6.6" class="b"/>
<text transform="translate(1858.3 983.1) scale(1 1.15)" y="2.3" style="font-size:8.5px;">1</text>
<circle cx="1858.3" cy="1001.0" r="6.6" class="b"/>
<text transform="translate(1858.3 1001.0) scale(1 1.15)" y="2.3" style="font-size:8.5px;">2</text>
<circle cx="1858.3" cy="1018.9" r="6.6" class="b"/>
<text transform="translate(1858.3 1018.9) scale(1 1.15)" y="2.3" style="font-size:8.5px;">3</text>
<circle cx="1858.3" cy="1036.9" r="6.6" class="b"/>
<text transform="translate(1858.3 1036.9) scale(1 1.15)" y="2.3" style="font-size:8.5px;">4</text>
<circle cx="1858.3" cy="1054.8" r="6.6" class="b"/>
<text transform="translate(1858.3 1054.8) scale(1 1.15)" y="2.3" style="font-size:8.5px;">5</text>
<circle cx="1858.3" cy="1072.7" r="6.6" class="b"/>
<text transform="translate(1858.3 1072.7) scale(1 1.15)" y="2.3" style="font-size:8.5px;">6</text>
<circle cx="1858.3" cy="1090.6" r="6.6" class="b"/>
<text transform="translate(1858.3 1090.6) scale(1 1.15)" y="2.3" style="font-size:8.5px;">7</text>
<circle cx="1858.3" cy="1108.5" r="6.6" class="b"/>
<text transform="translate(1858.3 1108.5) scale(1 1.15)" y="2.3" style="font-size:8.5px;">8</text>
<circle cx="1858.3" cy="1126.4" r="6.6" class="b"/>
<text transform="translate(1858.3 1126.4) scale(1 1.15)" y="2.3" style="font-size:8.5px;">9</text>
<circle cx="1858.3" cy="1144.3" r="6.6" class="b"/>
<text transform="translate(1858.3 1144.3) scale(1 1.15)" y="2.3" style="font-size:7.3px;">10</text>
<circle cx="1858.3" cy="1162.2" r="6.6" class="b"/>
<text transform="translate(1858.3 1162.2) scale(1 1.15)" y="2.3" style="font-size:7.3px;">11</text>
<circle cx="1858.3" cy="1180.1" r="6.6" class="b"/>
<text transform="translate(1858.3 1180.1) scale(1 1.15)" y="2.3" style="font-size:7.3px;">12</text>
<text transform="translate(1881.0 966.5) scale(1 1.15)" y="2.3">X509</text>
<text transform="translate(1881.0 972.0) scale(1 1.15)" y="2.3">TJC3-12A</text>
<rect x="1329.3" y="974.1" width="18.2" height="215.1" class="n2"/>
<circle cx="1338.4" cy="983.1" r="6.6" class="b"/>
<text transform="translate(1338.4 983.1) scale(1 1.15)" y="2.3" style="font-size:8.5px;">1</text>
<circle cx="1338.4" cy="1001.0" r="6.6" class="b"/>
<text transform="translate(1338.4 1001.0) scale(1 1.15)" y="2.3" style="font-size:8.5px;">2</text>
<circle cx="1338.4" cy="1018.9" r="6.6" class="b"/>
<text transform="translate(1338.4 1018.9) scale(1 1.15)" y="2.3" style="font-size:8.5px;">3</text>
<circle cx="1338.4" cy="1036.9" r="6.6" class="b"/>
<text transform="translate(1338.4 1036.9) scale(1 1.15)" y="2.3" style="font-size:8.5px;">4</text>
<circle cx="1338.4" cy="1054.8" r="6.6" class="b"/>
<text transform="translate(1338.4 1054.8) scale(1 1.15)" y="2.3" style="font-size:8.5px;">5</text>
<circle cx="1338.4" cy="1072.7" r="6.6" class="b"/>
<text transform="translate(1338.4 1072.7) scale(1 1.15)" y="2.3" style="font-size:8.5px;">6</text>
<circle cx="1338.4" cy="1090.6" r="6.6" class="b"/>
<text transform="translate(1338.4 1090.6) scale(1 1.15)" y="2.3" style="font-size:8.5px;">7</text>
<circle cx="1338.4" cy="1108.5" r="6.6" class="b"/>
<text transform="translate(1338.4 1108.5) scale(1 1.15)" y="2.3" style="font-size:8.5px;">8</text>
<circle cx="1338.4" cy="1126.4" r="6.6" class="b"/>
<text transform="translate(1338.4 1126.4) scale(1 1.15)" y="2.3" style="font-size:8.5px;">9</text>
<circle cx="1338.4" cy="1144.3" r="6.6" class="b"/>
<text transform="translate(1338.4 1144.3) scale(1 1.15)" y="2.3" style="font-size:7.3px;">10</text>
<circle cx="1338.4" cy="1162.2" r="6.6" class="b"/>
<text transform="translate(1338.4 1162.2) scale(1 1.15)" y="2.3" style="font-size:7.3px;">11</text>
<circle cx="1338.4" cy="1180.1" r="6.6" class="b"/>
<text transform="translate(1338.4 1180.1) scale(1 1.15)" y="2.3" style="font-size:7.3px;">12</text>
<text transform="translate(1361.6 966.5) scale(1 1.15)" y="2.3">X503</text>
<text transform="translate(1361.6 972.0) scale(1 1.15)" y="2.3">TJC3-12A</text>
<rect x="1436.9" y="974.1" width="18.1" height="215.1" class="n2"/>
<circle cx="1446.0" cy="983.1" r="6.6" class="b"/>
<text transform="translate(1446.0 983.1) scale(1 1.15)" y="2.3" style="font-size:8.5px;">1</text>
<circle cx="1446.0" cy="1001.0" r="6.6" class="b"/>
<text transform="translate(1446.0 1001.0) scale(1 1.15)" y="2.3" style="font-size:8.5px;">2</text>
<circle cx="1446.0" cy="1018.9" r="6.6" class="b"/>
<text transform="translate(1446.0 1018.9) scale(1 1.15)" y="2.3" style="font-size:8.5px;">3</text>
<circle cx="1446.0" cy="1036.9" r="6.6" class="b"/>
<text transform="translate(1446.0 1036.9) scale(1 1.15)" y="2.3" style="font-size:8.5px;">4</text>
<circle cx="1446.0" cy="1054.8" r="6.6" class="b"/>
<text transform="translate(1446.0 1054.8) scale(1 1.15)" y="2.3" style="font-size:8.5px;">5</text>
<circle cx="1446.0" cy="1072.7" r="6.6" class="b"/>
<text transform="translate(1446.0 1072.7) scale(1 1.15)" y="2.3" style="font-size:8.5px;">6</text>
<circle cx="1446.0" cy="1090.6" r="6.6" class="b"/>
<text transform="translate(1446.0 1090.6) scale(1 1.15)" y="2.3" style="font-size:8.5px;">7</text>
<circle cx="1446.0" cy="1108.5" r="6.6" class="b"/>
<text transform="translate(1446.0 1108.5) scale(1 1.15)" y="2.3" style="font-size:8.5px;">8</text>
<circle cx="1446.0" cy="1126.4" r="6.6" class="b"/>
<text transform="translate(1446.0 1126.4) scale(1 1.15)" y="2.3" style="font-size:8.5px;">9</text>
<circle cx="1446.0" cy="1144.3" r="6.6" class="b"/>
<text transform="translate(1446.0 1144.3) scale(1 1.15)" y="2.3" style="font-size:7.3px;">10</text>
<circle cx="1446.0" cy="1162.2" r="6.6" class="b"/>
<text transform="translate(1446.0 1162.2) scale(1 1.15)" y="2.3" style="font-size:7.3px;">11</text>
<circle cx="1446.0" cy="1180.1" r="6.6" class="b"/>
<text transform="translate(1446.0 1180.1) scale(1 1.15)" y="2.3" style="font-size:7.3px;">12</text>
<text transform="translate(1468.6 966.5) scale(1 1.15)" y="2.3">X504</text>
<text transform="translate(1468.6 972.0) scale(1 1.15)" y="2.3">TJC3-12A</text>
<polyline points="1865.1,983.1 1894.6,983.1"/>
<circle cx="1894.6" cy="983.1" r="2.2" class="d"/>
<polyline points="1865.1,1001.0 1894.6,1001.0"/>
<circle cx="1894.6" cy="1001.0" r="2.2" class="d"/>
<polyline points="1865.1,1018.9 1894.6,1018.9"/>
<circle cx="1894.6" cy="1018.9" r="2.2" class="d"/>
<polyline points="1865.1,1036.9 1894.6,1036.9"/>
<circle cx="1894.6" cy="1036.9" r="2.2" class="d"/>
<polyline points="1894.6,983.1 1912.5,983.1"/>
<polygon points="1912.5,983.1 1917.1,978.7 1930.0,978.7 1930.0,987.5 1917.1,987.5" class="b"/>
<text transform="translate(1926.8 969.5) scale(1 1.15)" y="2.3">24VCF</text>
<polyline points="1345.2,983.1 1374.7,983.1"/>
<circle cx="1374.7" cy="983.1" r="2.2" class="d"/>
<polyline points="1345.2,1001.0 1374.7,1001.0"/>
<circle cx="1374.7" cy="1001.0" r="2.2" class="d"/>
<polyline points="1345.2,1018.9 1374.7,1018.9"/>
<circle cx="1374.7" cy="1018.9" r="2.2" class="d"/>
<polyline points="1345.2,1036.9 1374.7,1036.9"/>
<circle cx="1374.7" cy="1036.9" r="2.2" class="d"/>
<polyline points="1374.7,983.1 1392.6,983.1"/>
<polygon points="1392.6,983.1 1397.2,978.7 1410.1,978.7 1410.1,987.5 1397.2,987.5" class="b"/>
<text transform="translate(1406.9 969.5) scale(1 1.15)" y="2.3">24VCF</text>
<polyline points="1452.8,983.1 1482.0,983.1"/>
<circle cx="1482.0" cy="983.1" r="2.2" class="d"/>
<polyline points="1452.8,1001.0 1482.0,1001.0"/>
<circle cx="1482.0" cy="1001.0" r="2.2" class="d"/>
<polyline points="1452.8,1018.9 1482.0,1018.9"/>
<circle cx="1482.0" cy="1018.9" r="2.2" class="d"/>
<polyline points="1452.8,1036.9 1482.0,1036.9"/>
<circle cx="1482.0" cy="1036.9" r="2.2" class="d"/>
<polyline points="1482.0,983.1 1499.9,983.1"/>
<polygon points="1499.9,983.1 1504.5,978.7 1517.4,978.7 1517.4,987.5 1504.5,987.5" class="b"/>
<text transform="translate(1514.2 969.5) scale(1 1.15)" y="2.3">24VCF</text>
<polyline points="1694.8,942.6 1724.0,942.6"/>
<circle cx="1724.0" cy="942.6" r="2.2" class="d"/>
<polyline points="1694.8,960.5 1724.0,960.5"/>
<circle cx="1724.0" cy="960.5" r="2.2" class="d"/>
<polyline points="1694.8,978.4 1724.0,978.4"/>
<circle cx="1724.0" cy="978.4" r="2.2" class="d"/>
<polyline points="1694.8,996.3 1724.0,996.3"/>
<circle cx="1724.0" cy="996.3" r="2.2" class="d"/>
<polyline points="1724.0,942.6 1741.9,942.6"/>
<polygon points="1741.9,942.6 1746.5,938.2 1759.4,938.2 1759.4,947.0 1746.5,947.0" class="b"/>
<text transform="translate(1756.3 928.5) scale(1 1.15)" y="2.3">24VCF</text>
<text transform="translate(1570.6 979.6) rotate(-90) scale(1 1.15)" y="2.3">5VSC</text>
<polygon points="1566.9,1018.6 1562.5,1014.0 1562.5,1001.1 1571.3,1001.1 1571.3,1014.0" class="b"/>
<polyline points="1566.9,1018.6 1566.9,1052.6"/>
<circle cx="1566.9" cy="1041.3" r="2.2" class="d"/>
<polyline points="1566.9,1041.3 1589.5,1041.3 1589.5,1052.6"/>
<rect x="101.6" y="1050.0" width="89.9" height="71.8" class="n2"/>
<path d="M101.6 1077.0 A8.8 8.8 0 0 1 101.6 1094.6" class="n"/>
<circle cx="119.9" cy="1050.0" r="6.3" class="b"/>
<text transform="translate(119.9 1050.0) scale(1 1.15)" y="2.3">8</text>
<circle cx="119.9" cy="1121.8" r="6.3" class="b"/>
<text transform="translate(119.9 1121.8) scale(1 1.15)" y="2.3">1</text>
<circle cx="138.1" cy="1050.0" r="6.3" class="b"/>
<text transform="translate(138.1 1050.0) scale(1 1.15)" y="2.3">7</text>
<circle cx="138.1" cy="1121.8" r="6.3" class="b"/>
<text transform="translate(138.1 1121.8) scale(1 1.15)" y="2.3">2</text>
<circle cx="155.7" cy="1050.0" r="6.3" class="b"/>
<text transform="translate(155.7 1050.0) scale(1 1.15)" y="2.3">6</text>
<circle cx="155.7" cy="1121.8" r="6.3" class="b"/>
<text transform="translate(155.7 1121.8) scale(1 1.15)" y="2.3">3</text>
<circle cx="173.9" cy="1050.0" r="6.3" class="b"/>
<text transform="translate(173.9 1050.0) scale(1 1.15)" y="2.3">5</text>
<circle cx="173.9" cy="1121.8" r="6.3" class="b"/>
<text transform="translate(173.9 1121.8) scale(1 1.15)" y="2.3">4</text>
<text transform="translate(121.2 1058.1) rotate(-90) scale(1 1.15)" y="2.3" style="text-anchor:end;font-size:7.5px;">Drain8</text>
<text transform="translate(121.2 1113.5) rotate(-90) scale(1 1.15)" y="2.3" style="text-anchor:start;font-size:7.5px;">GND</text>
<text transform="translate(139.3 1058.1) rotate(-90) scale(1 1.15)" y="2.3" style="text-anchor:end;font-size:7.5px;">Drain7</text>
<text transform="translate(139.3 1113.5) rotate(-90) scale(1 1.15)" y="2.3" style="text-anchor:start;font-size:7.5px;">Vcc</text>
<text transform="translate(157.2 1058.1) rotate(-90) scale(1 1.15)" y="2.3" style="text-anchor:end;font-size:7.5px;">Drain6</text>
<text transform="translate(157.2 1113.5) rotate(-90) scale(1 1.15)" y="2.3" style="text-anchor:start;font-size:7.5px;">Vfb</text>
<text transform="translate(175.4 1058.1) rotate(-90) scale(1 1.15)" y="2.3" style="text-anchor:end;font-size:7.5px;">Vstr</text>
<text transform="translate(175.4 1113.5) rotate(-90) scale(1 1.15)" y="2.3" style="text-anchor:start;font-size:7.5px;">Ipk</text>
<text transform="translate(85.9 1085.8) rotate(-90) scale(1 1.15)" y="2.3">N501</text>
<text transform="translate(93.0 1087.1) rotate(-90) scale(1 1.15)" y="2.3" style="font-size:8px;">FSDH321</text>
<polyline points="119.9,1043.7 119.9,1014.0 404.3,1014.0"/>
<polyline points="138.1,1043.7 138.1,1014.0"/>
<polyline points="155.7,1043.7 155.7,1014.0"/>
<circle cx="138.1" cy="1014.0" r="2.2" class="d"/>
<circle cx="155.7" cy="1014.0" r="2.2" class="d"/>
<circle cx="290.0" cy="1014.0" r="2.2" class="d"/>
<circle cx="290.0" cy="1072.7" r="2.2" class="d"/>
<circle cx="254.5" cy="1121.8" r="2.2" class="d"/>
<circle cx="290.0" cy="1121.8" r="2.2" class="d"/>
<circle cx="318.2" cy="1121.8" r="2.2" class="d"/>
<circle cx="492.7" cy="1112.7" r="2.2" class="d"/>
<circle cx="518.4" cy="1023.3" r="2.2" class="d"/>
<polyline points="173.9,1043.7 173.9,1032.1 254.5,1032.1 254.5,1121.8"/>
<rect x="184.9" y="1029.2" width="13.6" height="5.8" class="b"/>
<rect x="220.7" y="1029.2" width="13.6" height="5.8" class="b"/>
<polyline points="290.0,1014.0 290.0,1121.8"/>
<polygon points="286.5,1050.8 293.5,1050.8 290.0,1057.8" class="d"/>
<line x1="286.5" y1="1057.8" x2="293.5" y2="1057.8" stroke-width="1.2"/>
<rect x="285.5" y="1085.7" width="9" height="18.4" class="b"/>
<polyline points="290.0,1072.7 318.2,1072.7 318.2,1121.8"/>
<rect x="316.2" y="1092.8" width="4" height="3.6" class="wf"/>
<line x1="313.7" y1="1092.8" x2="322.7" y2="1092.8" stroke-width="1.3"/>
<line x1="313.7" y1="1096.4" x2="322.7" y2="1096.4" stroke-width="1.3"/>
<polygon points="218.7,1121.8 214.1,1117.4 201.2,1117.4 201.2,1126.2 214.1,1126.2" class="b"/>
<polyline points="218.7,1121.8 330.3,1121.8 330.3,1068.2 404.3,1068.2"/>
<text transform="translate(275.4 1095.4) rotate(-90) scale(1 1.15)" y="2.3">R508</text>
<text transform="translate(281.7 1095.4) rotate(-90) scale(1 1.15)" y="2.3">82K</text>
<text transform="translate(303.8 1095.4) rotate(-90) scale(1 1.15)" y="2.3">C516</text>
<text transform="translate(310.6 1093.9) rotate(-90) scale(1 1.15)" y="2.3">1n</text>
<text transform="translate(325.0 1094.6) rotate(-90) scale(1 1.15)" y="2.3">1KV</text>
<text transform="translate(301.1 1054.3) rotate(-90) scale(1 1.15)" y="2.3">TRU1P</text>
<text transform="translate(308.1 1053.6) rotate(-90) scale(1 1.15)" y="2.3">D503</text>
<text transform="translate(285.9 1082.8) scale(1 1.15)" y="2.3" style="font-size:5px;">M</text>
<polyline points="410.6,1007.7 410.6,1001.4 482.7,1001.4 482.7,1034.7"/>
<polyline points="410.6,1020.3 410.6,1034.7"/>
<polyline points="410.6,1047.3 410.6,1061.9"/>
<polyline points="482.7,1047.3 482.7,1070.7"/>
<polyline points="482.7,1083.3 482.7,1106.4"/>
<polyline points="410.6,1128.1 410.6,1135.2 482.7,1135.2 482.7,1119.0"/>
<circle cx="410.6" cy="1014.0" r="6.2" class="b"/>
<text transform="translate(410.6 1014.0) scale(1 1.15)" y="2.3">6</text>
<circle cx="410.6" cy="1041.0" r="6.2" class="b"/>
<text transform="translate(410.6 1041.0) scale(1 1.15)" y="2.3">5</text>
<circle cx="410.6" cy="1068.2" r="6.2" class="b"/>
<text transform="translate(410.6 1068.2) scale(1 1.15)" y="2.3">4</text>
<circle cx="410.6" cy="1086.0" r="6.2" class="b"/>
<text transform="translate(410.6 1086.0) scale(1 1.15)" y="2.3">1</text>
<circle cx="410.6" cy="1103.9" r="6.2" class="b"/>
<text transform="translate(410.6 1103.9) scale(1 1.15)" y="2.3">2</text>
<circle cx="410.6" cy="1121.8" r="6.2" class="b"/>
<text transform="translate(410.6 1121.8) scale(1 1.15)" y="2.3">3</text>
<circle cx="482.7" cy="1041.0" r="6.2" class="b"/>
<text transform="translate(482.7 1041.0) scale(1 1.15)" y="2.3">7</text>
<circle cx="482.7" cy="1077.0" r="6.2" class="b"/>
<text transform="translate(482.7 1077.0) scale(1 1.15)" y="2.3">8</text>
<circle cx="482.7" cy="1112.7" r="6.2" class="b"/>
<text transform="translate(482.7 1112.7) scale(1 1.15)" y="2.3">9</text>
<polyline points="416.9,1014.0 437.1,1014.0"/>
<polyline points="416.9,1041.0 437.1,1041.0"/>
<polyline points="416.9,1068.2 437.1,1068.2"/>
<polyline points="416.9,1086.0 437.1,1086.0"/>
<rect x="435.6" y="1014.0" width="3" height="27.0" class="wf"/>
<path d="M437.1 1014.0 a5.85 4.5 0 0 1 0 9.0 a5.85 4.5 0 0 1 0 9.0 a5.85 4.5 0 0 1 0 9.0" class="n"/>
<rect x="435.6" y="1041.0" width="3" height="27.2" class="wf"/>
<path d="M437.1 1041.0 a5.89 4.53 0 0 1 0 9.07 a5.89 4.53 0 0 1 0 9.07 a5.89 4.53 0 0 1 0 9.07" class="n"/>
<rect x="435.6" y="1086.0" width="3" height="35.8" class="wf"/>
<path d="M437.1 1086.0 a5.82 4.47 0 0 1 0 8.95 a5.82 4.47 0 0 1 0 8.95 a5.82 4.47 0 0 1 0 8.95 a5.82 4.47 0 0 1 0 8.95" class="n"/>
<polyline points="416.9,1103.9 427.8,1103.9"/>
<polyline points="416.9,1121.8 427.8,1121.8"/>
<rect x="426.3" y="1103.9" width="3" height="17.9" class="wf"/>
<path d="M427.8 1103.9 a5.82 4.47 0 0 1 0 8.95 a5.82 4.47 0 0 1 0 8.95" class="n"/>
<polyline points="427.8,1121.8 437.1,1121.8"/>
<polyline points="449.9,1014.0 449.9,1121.8"/>
<polyline points="452.9,1014.0 452.9,1121.8"/>
<rect x="464.0" y="1041.0" width="3" height="71.7" class="wf"/>
<path d="M465.5 1041.0 a5.83 4.48 0 0 0 0 8.96 a5.83 4.48 0 0 0 0 8.96 a5.83 4.48 0 0 0 0 8.96 a5.83 4.48 0 0 0 0 8.96 a5.83 4.48 0 0 0 0 8.96 a5.83 4.48 0 0 0 0 8.96 a5.83 4.48 0 0 0 0 8.96 a5.83 4.48 0 0 0 0 8.96" class="n"/>
<circle cx="437.8" cy="1018.5" r="1.5" class="d"/>
<circle cx="437.8" cy="1045.5" r="1.5" class="d"/>
<circle cx="437.8" cy="1090.1" r="1.5" class="d"/>
<circle cx="429.0" cy="1108.0" r="1.5" class="d"/>
<circle cx="464.8" cy="1045.5" r="1.5" class="d"/>
<circle cx="464.8" cy="1081.5" r="1.5" class="d"/>
<polyline points="410.6,1092.3 410.6,1097.6"/>
<polyline points="410.6,1110.2 410.6,1115.5"/>
<polyline points="465.5,1041.0 476.4,1041.0"/>
<polyline points="465.5,1077.0 476.4,1077.0"/>
<polyline points="465.5,1112.7 476.4,1112.7"/>
<polyline points="489.0,1041.0 505.8,1041.0 505.8,977.5"/>
<polyline points="489.0,1077.0 518.4,1077.0 518.4,996.4 561.3,996.4"/>
<polyline points="489.0,1112.7 561.3,1112.7"/>
<polyline points="404.3,1086.0 393.8,1086.0 393.8,1077.0 343.9,1077.0 343.9,1131.1"/>
<rect x="341.0" y="1092.6" width="5.8" height="13.6" class="b"/>
<polyline points="404.3,1103.9 388.7,1103.9 388.7,1090.3 366.5,1090.3 366.5,1131.1"/>
<rect x="363.6" y="1101.7" width="5.8" height="13.6" class="b"/>
<polyline points="404.3,1121.8 393.8,1121.8 393.8,1131.1"/>
<text transform="translate(352.7 1100.4) rotate(-90) scale(1 1.15)" y="2.3">10</text>
<text transform="translate(359.0 1099.6) rotate(-90) scale(1 1.15)" y="2.3">R514</text>
<text transform="translate(374.9 1109.7) rotate(-90) scale(1 1.15)" y="2.3">10</text>
<text transform="translate(381.7 1108.5) rotate(-90) scale(1 1.15)" y="2.3">R516</text>
<polyline points="119.8,1128.2 119.8,1229.5"/>
<line x1="113.3" y1="1229.5" x2="126.3" y2="1229.5"/>
<line x1="115.8" y1="1233.0" x2="123.8" y2="1233.0"/>
<line x1="118.2" y1="1236.5" x2="121.4" y2="1236.5"/>
<polyline points="137.9,1128.2 137.9,1152.9 343.7,1152.9 343.7,1085.3"/>
<polygon points="340.2,1127.2 347.2,1127.2 343.7,1134.2" class="d"/>
<line x1="340.2" y1="1134.2" x2="347.2" y2="1134.2" stroke-width="1.2"/>
<polyline points="155.6,1128.2 155.6,1215.7"/>
<rect x="153.6" y="1191.5" width="4" height="4.4" class="wf"/>
<line x1="151.3" y1="1191.5" x2="159.9" y2="1191.5" stroke-width="1.3"/>
<line x1="151.3" y1="1195.9" x2="159.9" y2="1195.9" stroke-width="1.3"/>
<polyline points="155.6,1171.0 431.7,1171.0"/>
<polyline points="173.5,1128.2 173.5,1215.7"/>
<rect x="170.6" y="1186.9" width="5.8" height="13.6" class="b"/>
<polyline points="119.8,1215.7 429.4,1215.7 429.4,1188.7 431.7,1188.7"/>
<circle cx="119.8" cy="1215.7" r="2.2" class="d"/>
<circle cx="155.6" cy="1215.7" r="2.2" class="d"/>
<circle cx="173.5" cy="1215.7" r="2.2" class="d"/>
<circle cx="222.6" cy="1215.7" r="2.2" class="d"/>
<circle cx="254.2" cy="1215.7" r="2.2" class="d"/>
<circle cx="281.1" cy="1215.7" r="2.2" class="d"/>
<circle cx="318.2" cy="1215.7" r="2.2" class="d"/>
<circle cx="343.7" cy="1215.7" r="2.2" class="d"/>
<circle cx="393.3" cy="1215.7" r="2.2" class="d"/>
<circle cx="155.6" cy="1171.0" r="2.2" class="d"/>
<circle cx="222.6" cy="1171.0" r="2.2" class="d"/>
<circle cx="254.2" cy="1152.9" r="2.2" class="d"/>
<circle cx="281.1" cy="1152.9" r="2.2" class="d"/>
<circle cx="366.1" cy="1161.7" r="2.2" class="d"/>
<circle cx="254.2" cy="1121.9" r="2.2" class="d"/>
<circle cx="290.0" cy="1121.9" r="2.2" class="d"/>
<circle cx="318.2" cy="1121.9" r="2.2" class="d"/>
<polyline points="222.6,1171.0 222.6,1215.7"/>
<polygon points="222.6,1189.2 218.0,1198.3 227.2,1198.3" class="d"/>
<polyline points="218.2,1188.5 225.5,1188.5 228.0,1192.3"/>
<polyline points="254.2,1152.9 254.2,1215.7"/>
<rect x="252.2" y="1191.5" width="4" height="4.4" class="wf"/>
<line x1="249.9" y1="1191.5" x2="258.5" y2="1191.5" stroke-width="1.3"/>
<line x1="249.9" y1="1195.9" x2="258.5" y2="1195.9" stroke-width="1.3"/>
<polyline points="281.1,1152.9 281.1,1215.7"/>
<rect x="279.1" y="1191.5" width="4" height="4.4" class="wf"/>
<line x1="276.8" y1="1191.5" x2="285.4" y2="1191.5" stroke-width="1.3"/>
<line x1="276.8" y1="1195.9" x2="285.4" y2="1195.9" stroke-width="1.3"/>
<polyline points="318.2,1121.9 318.2,1215.7"/>
<rect x="316.2" y="1187.2" width="4" height="4.4" class="wf"/>
<line x1="313.9" y1="1187.2" x2="322.5" y2="1187.2" stroke-width="1.3"/>
<line x1="313.9" y1="1191.6" x2="322.5" y2="1191.6" stroke-width="1.3"/>
<polyline points="366.1,1161.7 343.7,1161.7 343.7,1215.7"/>
<rect x="341.7" y="1191.5" width="4" height="4.4" class="wf"/>
<line x1="339.4" y1="1191.5" x2="348.0" y2="1191.5" stroke-width="1.3"/>
<line x1="339.4" y1="1195.9" x2="348.0" y2="1195.9" stroke-width="1.3"/>
<polyline points="366.1,1085.3 366.1,1247.2 334.1,1247.2 330.3,1258.5"/>
<polygon points="362.6,1135.3 369.6,1135.3 366.1,1142.3" class="d"/>
<line x1="362.6" y1="1142.3" x2="369.6" y2="1142.3" stroke-width="1.2"/>
<polyline points="393.3,1121.9 393.3,1215.7"/>
<polyline points="254.2,1121.9 254.2,1100.4"/>
<text transform="translate(206.8 1193.7) rotate(-90) scale(1 1.15)" y="2.3">D502</text>
<text transform="translate(213.8 1193.7) rotate(-90) scale(1 1.15)" y="2.3">BZV55-B16V</text>
<text transform="translate(243.3 1195.7) rotate(-90) scale(1 1.15)" y="2.3">C510</text>
<text transform="translate(262.2 1195.7) rotate(-90) scale(1 1.15)" y="2.3">100n</text>
<text transform="translate(276.9 1193.7) rotate(-90) scale(1 1.15)" y="2.3">35V</text>
<text transform="translate(284.9 1186.9) scale(1 1.15)" y="2.3" style="font-size:8.5px;">+</text>
<text transform="translate(292.5 1193.2) rotate(-90) scale(1 1.15)" y="2.3">22u</text>
<text transform="translate(298.8 1193.2) rotate(-90) scale(1 1.15)" y="2.3">C513</text>
<text transform="translate(313.4 1189.2) rotate(-90) scale(1 1.15)" y="2.3">35V</text>
<text transform="translate(321.5 1182.4) scale(1 1.15)" y="2.3" style="font-size:8.5px;">+</text>
<text transform="translate(329.8 1189.2) rotate(-90) scale(1 1.15)" y="2.3">2200u</text>
<text transform="translate(336.6 1193.2) rotate(-90) scale(1 1.15)" y="2.3">C517</text>
<text transform="translate(339.1 1194.5) rotate(-90) scale(1 1.15)" y="2.3">35V</text>
<text transform="translate(348.0 1186.9) scale(1 1.15)" y="2.3" style="font-size:8.5px;">+</text>
<text transform="translate(356.0 1193.7) rotate(-90) scale(1 1.15)" y="2.3">47u</text>
<text transform="translate(362.3 1193.7) rotate(-90) scale(1 1.15)" y="2.3">C521</text>
<text transform="translate(144.2 1193.7) rotate(-90) scale(1 1.15)" y="2.3">C502</text>
<text transform="translate(150.5 1193.7) rotate(-90) scale(1 1.15)" y="2.3">22n</text>
<text transform="translate(182.0 1193.7) rotate(-90) scale(1 1.15)" y="2.3">10K</text>
<text transform="translate(189.1 1193.7) rotate(-90) scale(1 1.15)" y="2.3">R502</text>
<text transform="translate(208.8 1135.7) scale(1 1.15)" y="2.3">V_PFC</text>
<text transform="translate(355.5 1130.7) rotate(-90) scale(1 1.15)" y="2.3">D1F54</text>
<text transform="translate(362.3 1133.2) rotate(-90) scale(1 1.15)" y="2.3">D504</text>
<text transform="translate(378.2 1140.0) rotate(-90) scale(1 1.15)" y="2.3">D1F54</text>
<text transform="translate(385.0 1140.0) rotate(-90) scale(1 1.15)" y="2.3">D505</text>
<rect x="431.7" y="1162.2" width="31.2" height="35.5"/>
<line x1="442.8" y1="1173.1" x2="442.8" y2="1186.6" stroke-width="1.5"/>
<line x1="431.7" y1="1171.0" x2="442.8" y2="1175.7"/>
<line x1="442.8" y1="1184.0" x2="431.7" y2="1188.7"/>
<polygon points="431.7,1189.0 437.5,1185.2 437.5,1188.5" class="d"/>
<polyline points="462.9,1171.0 455.4,1171.0 455.4,1189.1 462.9,1189.1"/>
<polygon points="451.7,1176.1 459.1,1176.1 455.4,1183.1" class="d"/>
<line x1="451.4" y1="1183.1" x2="459.4" y2="1183.1" stroke-width="1.3"/>
<line x1="449.0" y1="1184.0" x2="443.7" y2="1190.4" stroke-width="0.8"/>
<polygon points="443.7,1190.4 447.1,1188.8 444.9,1186.8" class="d"/>
<line x1="452.2" y1="1187.2" x2="446.9" y2="1193.4" stroke-width="0.8"/>
<polygon points="446.9,1193.4 450.3,1191.8 448.1,1189.8" class="d"/>
<polyline points="462.7,1171.0 504.3,1171.0"/>
<polyline points="462.7,1189.2 504.3,1189.2"/>
<text transform="translate(449.6 1211.4) scale(1 1.15)" y="2.3">N506</text>
<text transform="translate(455.1 1221.5) scale(1 1.15)" y="2.3">TLP621-GB</text>
<rect x="218.6" y="1234.1" width="44.9" height="26.5" stroke-width="1.5"/>
<text transform="translate(241.3 1228.5) scale(1 1.15)" y="2.3">N502</text>
<text transform="translate(241.3 1238.6) scale(1 1.15)" y="2.3">TA78L09</text>
<text transform="translate(226.9 1249.2) scale(1 1.15)" y="2.3">OUT</text>
<text transform="translate(257.9 1247.2) scale(1 1.15)" y="2.3">IN</text>
<polygon points="146.7,1247.2 151.3,1242.8 164.2,1242.8 164.2,1251.6 151.3,1251.6" class="b"/>
<text transform="translate(127.3 1254.2) scale(1 1.15)" y="2.3">V_15V</text>
<polyline points="164.4,1247.2 218.6,1247.2"/>
<polyline points="263.5,1247.2 318.2,1247.2 322.2,1258.5"/>
<polyline points="319.0,1258.5 332.8,1258.5" stroke-width="1.4"/>
<polygon points="330.3,1258.5 334.1,1254.7 329.8,1253.2" class="d"/>
<circle cx="178.3" cy="1247.2" r="2.2" class="d"/>
<circle cx="205.0" cy="1247.2" r="2.2" class="d"/>
<circle cx="272.3" cy="1247.2" r="2.2" class="d"/>
<circle cx="303.3" cy="1247.2" r="2.2" class="d"/>
<circle cx="205.0" cy="1314.2" r="2.2" class="d"/>
<circle cx="240.8" cy="1314.2" r="2.2" class="d"/>
<circle cx="272.3" cy="1314.2" r="2.2" class="d"/>
<circle cx="303.3" cy="1314.2" r="2.2" class="d"/>
<circle cx="325.8" cy="1314.2" r="2.2" class="d"/>
<polyline points="178.3,1247.2 178.3,1314.2"/>
<rect x="176.3" y="1289.4" width="4" height="4.4" class="wf"/>
<line x1="174.0" y1="1289.4" x2="182.6" y2="1289.4" stroke-width="1.3"/>
<line x1="174.0" y1="1293.8" x2="182.6" y2="1293.8" stroke-width="1.3"/>
<text transform="translate(167.7 1294.1) rotate(-90) scale(1 1.15)" y="2.3">C505</text>
<text transform="translate(186.3 1294.1) rotate(-90) scale(1 1.15)" y="2.3">100n</text>
<polyline points="205.0,1247.2 205.0,1314.2"/>
<rect x="203.0" y="1289.4" width="4" height="4.4" class="wf"/>
<line x1="200.7" y1="1289.4" x2="209.3" y2="1289.4" stroke-width="1.3"/>
<line x1="200.7" y1="1293.8" x2="209.3" y2="1293.8" stroke-width="1.3"/>
<text transform="translate(194.4 1294.1) rotate(-90) scale(1 1.15)" y="2.3">C507</text>
<text transform="translate(213.1 1294.1) rotate(-90) scale(1 1.15)" y="2.3">100n</text>
<polyline points="272.3,1247.2 272.3,1314.2"/>
<rect x="270.3" y="1289.4" width="4" height="4.4" class="wf"/>
<line x1="268.0" y1="1289.4" x2="276.6" y2="1289.4" stroke-width="1.3"/>
<line x1="268.0" y1="1293.8" x2="276.6" y2="1293.8" stroke-width="1.3"/>
<text transform="translate(261.7 1294.1) rotate(-90) scale(1 1.15)" y="2.3">C512</text>
<text transform="translate(280.4 1294.1) rotate(-90) scale(1 1.15)" y="2.3">100n</text>
<polyline points="303.3,1247.2 303.3,1314.2"/>
<rect x="301.3" y="1289.4" width="4" height="4.4" class="wf"/>
<line x1="299.0" y1="1289.4" x2="307.6" y2="1289.4" stroke-width="1.3"/>
<line x1="299.0" y1="1293.8" x2="307.6" y2="1293.8" stroke-width="1.3"/>
<text transform="translate(292.7 1294.1) rotate(-90) scale(1 1.15)" y="2.3">C515</text>
<text transform="translate(311.4 1294.1) rotate(-90) scale(1 1.15)" y="2.3">100n</text>
<polyline points="178.3,1314.2 390.8,1314.2 390.8,1304.7 393.3,1304.7"/>
<polyline points="240.8,1260.5 240.8,1314.2"/>
<rect x="237.9" y="1280.7" width="5.8" height="13.6" class="b"/>
<text transform="translate(228.2 1287.8) rotate(-90) scale(1 1.15)" y="2.3">R596</text>
<text transform="translate(234.5 1287.0) rotate(-90) scale(1 1.15)" y="2.3">2K</text>
<polyline points="325.8,1314.2 325.8,1331.9"/>
<line x1="319.3" y1="1331.9" x2="332.3" y2="1331.9"/>
<line x1="321.8" y1="1335.4" x2="329.8" y2="1335.4"/>
<line x1="324.2" y1="1338.9" x2="327.4" y2="1338.9"/>
<polyline points="325.8,1258.5 325.8,1287.0 393.3,1287.0"/>
<rect x="341.7" y="1284.1" width="13.6" height="5.8" class="b"/>
<text transform="translate(348.5 1296.6) scale(1 1.15)" y="2.3">22K</text>
<text transform="translate(348.5 1303.4) scale(1 1.15)" y="2.3">R515</text>
<text transform="translate(322.2 1237.8) rotate(-90) scale(1 1.15)" y="2.3">V501</text>
<text transform="translate(329.8 1229.0) rotate(-90) scale(1 1.15)" y="2.3">2SA966-O</text>
<rect x="393.3" y="1278.2" width="31.2" height="35.5"/>
<line x1="404.4" y1="1289.1" x2="404.4" y2="1302.6" stroke-width="1.5"/>
<line x1="393.3" y1="1287.0" x2="404.4" y2="1291.7"/>
<line x1="404.4" y1="1300.0" x2="393.3" y2="1304.7"/>
<polygon points="393.3,1305.0 399.1,1301.2 399.1,1304.5" class="d"/>
<polyline points="424.5,1287.0 417.0,1287.0 417.0,1305.1 424.5,1305.1"/>
<polygon points="413.3,1292.1 420.7,1292.1 417.0,1299.1" class="d"/>
<line x1="413.0" y1="1299.1" x2="421.0" y2="1299.1" stroke-width="1.3"/>
<line x1="410.6" y1="1300.0" x2="405.3" y2="1306.4" stroke-width="0.8"/>
<polygon points="405.3,1306.4 408.7,1304.8 406.5,1302.8" class="d"/>
<line x1="413.8" y1="1303.2" x2="408.5" y2="1309.4" stroke-width="0.8"/>
<polygon points="408.5,1309.4 411.9,1307.8 409.7,1305.8" class="d"/>
<polyline points="424.4,1287.0 491.7,1287.0"/>
<rect x="449.1" y="1284.1" width="13.6" height="5.8" class="b"/>
<polyline points="424.4,1304.7 453.9,1304.7 463.2,1311.0"/>
<text transform="translate(411.5 1327.9) scale(1 1.15)" y="2.3">N505</text>
<text transform="translate(417.3 1337.4) scale(1 1.15)" y="2.3">TLP621-GB</text>
<text transform="translate(455.9 1274.4) scale(1 1.15)" y="2.3">R522</text>
<text transform="translate(455.9 1280.7) scale(1 1.15)" y="2.3">5.1K</text>
<polyline points="463.2,1307.2 463.2,1321.8" stroke-width="1.4"/>
<polyline points="463.2,1317.8 451.8,1323.6 451.8,1358.9"/>
<line x1="445.3" y1="1358.9" x2="458.3" y2="1358.9"/>
<line x1="447.8" y1="1358.9" x2="444.8" y2="1363.4"/>
<line x1="452.3" y1="1358.9" x2="449.3" y2="1363.4"/>
<line x1="456.8" y1="1358.9" x2="453.8" y2="1363.4"/>
<polyline points="463.2,1314.2 504.3,1314.2"/>
<polygon points="452.6,1323.1 456.9,1323.1 455.4,1319.3" class="d"/>
<text transform="translate(441.3 1311.0) scale(1 1.15)" y="2.3">V503</text>
<text transform="translate(437.5 1319.3) scale(1 1.15)" y="2.3">BC847B</text>
<polygon points="491.7,1287.0 496.3,1282.6 509.2,1282.6 509.2,1291.4 496.3,1291.4" class="b"/>
<text transform="translate(522.2 1286.3) scale(1 1.15)" y="2.3">5V</text>
<polyline points="554.7,1039.9 554.7,1302.1"/>
<rect x="551.8" y="1061.1" width="5.8" height="13.6" class="b"/>
<rect x="551.8" y="1155.4" width="5.8" height="13.6" class="b"/>
<line x1="548.2" y1="1302.1" x2="561.2" y2="1302.1"/>
<line x1="550.7" y1="1302.1" x2="547.7" y2="1306.6"/>
<line x1="555.2" y1="1302.1" x2="552.2" y2="1306.6"/>
<line x1="559.7" y1="1302.1" x2="556.7" y2="1306.6"/>
<circle cx="554.7" cy="1139.5" r="2.2" class="d"/>
<circle cx="554.7" cy="1189.2" r="2.2" class="d"/>
<circle cx="554.7" cy="1283.2" r="2.2" class="d"/>
<circle cx="590.3" cy="1112.5" r="2.2" class="d"/>
<circle cx="626.1" cy="1112.5" r="2.2" class="d"/>
<circle cx="716.1" cy="1112.5" r="2.2" class="d"/>
<circle cx="689.1" cy="1189.2" r="2.2" class="d"/>
<circle cx="689.1" cy="1237.8" r="2.2" class="d"/>
<circle cx="567.6" cy="1314.2" r="2.2" class="d"/>
<circle cx="663.1" cy="1314.2" r="2.2" class="d"/>
<polyline points="497.5,1076.5 518.4,1076.5 518.4,1039.9"/>
<polyline points="497.5,1112.5 716.1,1112.5"/>
<polyline points="716.1,1039.9 716.1,1139.5"/>
<line x1="709.6" y1="1139.5" x2="722.6" y2="1139.5"/>
<line x1="712.1" y1="1139.5" x2="709.1" y2="1144.0"/>
<line x1="716.6" y1="1139.5" x2="713.6" y2="1144.0"/>
<line x1="721.1" y1="1139.5" x2="718.1" y2="1144.0"/>
<rect x="714.1" y="1064.2" width="4" height="4.4" class="wf"/>
<line x1="711.8" y1="1064.2" x2="720.4" y2="1064.2" stroke-width="1.3"/>
<line x1="711.8" y1="1068.6" x2="720.4" y2="1068.6" stroke-width="1.3"/>
<polyline points="590.3,1039.9 590.3,1112.5"/>
<rect x="588.3" y="1064.2" width="4" height="4.4" class="wf"/>
<line x1="586.0" y1="1064.2" x2="594.6" y2="1064.2" stroke-width="1.3"/>
<line x1="586.0" y1="1068.6" x2="594.6" y2="1068.6" stroke-width="1.3"/>
<polyline points="626.1,1039.9 626.1,1112.5"/>
<rect x="624.1" y="1064.2" width="4" height="4.4" class="wf"/>
<line x1="621.8" y1="1064.2" x2="630.4" y2="1064.2" stroke-width="1.3"/>
<line x1="621.8" y1="1068.6" x2="630.4" y2="1068.6" stroke-width="1.3"/>
<polyline points="689.1,1039.9 689.1,1283.2 554.7,1283.2"/>
<rect x="686.2" y="1155.4" width="5.8" height="13.6" class="b"/>
<rect x="686.2" y="1255.0" width="5.8" height="13.6" class="b"/>
<text transform="translate(541.6 1067.7) rotate(-90) scale(1 1.15)" y="2.3">R529</text>
<text transform="translate(547.9 1067.7) rotate(-90) scale(1 1.15)" y="2.3">1K</text>
<text transform="translate(585.7 1067.7) rotate(-90) scale(1 1.15)" y="2.3">16V</text>
<text transform="translate(593.8 1061.3) scale(1 1.15)" y="2.3" style="font-size:8.5px;">+</text>
<text transform="translate(602.1 1067.1) rotate(-90) scale(1 1.15)" y="2.3">1000u</text>
<text transform="translate(608.4 1067.7) rotate(-90) scale(1 1.15)" y="2.3">C534</text>
<text transform="translate(621.5 1067.7) rotate(-90) scale(1 1.15)" y="2.3">16V</text>
<text transform="translate(629.6 1061.3) scale(1 1.15)" y="2.3" style="font-size:8.5px;">+</text>
<text transform="translate(637.9 1067.1) rotate(-90) scale(1 1.15)" y="2.3">1000u</text>
<text transform="translate(644.2 1067.7) rotate(-90) scale(1 1.15)" y="2.3">C536</text>
<text transform="translate(711.5 1067.7) rotate(-90) scale(1 1.15)" y="2.3">16V</text>
<text transform="translate(719.6 1061.3) scale(1 1.15)" y="2.3" style="font-size:8.5px;">+</text>
<text transform="translate(727.9 1067.1) rotate(-90) scale(1 1.15)" y="2.3">100u</text>
<text transform="translate(734.2 1067.7) rotate(-90) scale(1 1.15)" y="2.3">C539</text>
<polyline points="554.7,1139.5 518.4,1139.5 518.4,1171.0 497.5,1171.0"/>
<polyline points="497.5,1189.2 689.1,1189.2"/>
<rect x="578.9" y="1186.3" width="13.6" height="5.8" class="b"/>
<rect x="647.0" y="1187.2" width="3.6" height="4" class="wf"/>
<line x1="647.0" y1="1184.7" x2="647.0" y2="1193.7" stroke-width="1.3"/>
<line x1="650.6" y1="1184.7" x2="650.6" y2="1193.7" stroke-width="1.3"/>
<text transform="translate(585.7 1176.1) scale(1 1.15)" y="2.3">R531</text>
<text transform="translate(585.7 1182.4) scale(1 1.15)" y="2.3">1K</text>
<text transform="translate(648.3 1174.8) scale(1 1.15)" y="2.3">C537</text>
<text transform="translate(648.3 1181.1) scale(1 1.15)" y="2.3">100n</text>
<text transform="translate(542.1 1162.2) rotate(-90) scale(1 1.15)" y="2.3">R530</text>
<text transform="translate(548.4 1160.9) rotate(-90) scale(1 1.15)" y="2.3">1K</text>
<text transform="translate(676.5 1162.2) rotate(-90) scale(1 1.15)" y="2.3">R547</text>
<text transform="translate(682.8 1162.2) rotate(-90) scale(1 1.15)" y="2.3">2.4K</text>
<text transform="translate(676.5 1261.8) rotate(-90) scale(1 1.15)" y="2.3">R548</text>
<text transform="translate(682.8 1261.8) rotate(-90) scale(1 1.15)" y="2.3">2.2K</text>
<polygon points="554.7,1233.5 550.2,1242.1 559.2,1242.1" class="d"/>
<polyline points="548.9,1231.6 550.2,1233.0 559.2,1233.0 560.4,1235.1"/>
<line x1="558.1" y1="1237.8" x2="689.1" y2="1237.8"/>
<text transform="translate(551.3 1227.5) rotate(-90) scale(1 1.15)" y="2.3" style="font-size:6.5px;">K</text>
<text transform="translate(550.2 1247.6) rotate(-90) scale(1 1.15)" y="2.3" style="font-size:5px;">A</text>
<text transform="translate(563.1 1241.5) rotate(-90) scale(1 1.15)" y="2.3" style="font-size:6.5px;">R</text>
<text transform="translate(535.3 1239.1) rotate(-90) scale(1 1.15)" y="2.3">N508</text>
<text transform="translate(542.9 1239.1) rotate(-90) scale(1 1.15)" y="2.3">TL431</text>
<polyline points="497.5,1314.2 685.3,1314.2"/>
<rect x="507.3" y="1311.3" width="13.6" height="5.8" class="b"/>
<polygon points="611.9,1310.7 611.9,1317.7 604.9,1314.2" class="d"/>
<line x1="604.9" y1="1310.7" x2="604.9" y2="1317.7" stroke-width="1.2"/>
<polygon points="685.3,1314.2 689.9,1309.8 702.8,1309.8 702.8,1318.6 689.9,1318.6" class="b"/>
<text transform="translate(695.4 1317.3) scale(1 1.15)" y="2.3" style="text-anchor:start;">Standby_1</text>
<text transform="translate(514.4 1300.9) scale(1 1.15)" y="2.3">R527</text>
<text transform="translate(514.4 1307.7) scale(1 1.15)" y="2.3">10K</text>
<text transform="translate(607.9 1326.1) scale(1 1.15)" y="2.3">CD4148WP</text>
<text transform="translate(607.9 1333.2) scale(1 1.15)" y="2.3">D512</text>
<polyline points="567.6,1314.2 567.6,1341.2"/>
<polygon points="567.6,1341.2 563.2,1345.8 563.2,1358.7 572.0,1358.7 572.0,1345.8" class="b"/>
<text transform="translate(560.5 1362.7) rotate(-90) scale(1 1.15)" y="2.3">Standby_2</text>
<polyline points="663.1,1314.2 663.1,1354.6 685.3,1354.6"/>
<rect x="660.2" y="1329.9" width="5.8" height="13.6" class="b"/>
<polygon points="685.3,1354.6 689.9,1350.2 702.8,1350.2 702.8,1359.0 689.9,1359.0" class="b"/>
<text transform="translate(703.7 1358.1) scale(1 1.15)" y="2.3" style="text-anchor:start;">Standby</text>
<text transform="translate(650.0 1336.2) rotate(-90) scale(1 1.15)" y="2.3">R546</text>
<text transform="translate(656.3 1336.2) rotate(-90) scale(1 1.15)" y="2.3">1K</text>
<text transform="translate(892.1 1058.3) scale(1 1.15)" y="2.3">5V</text>
<polygon points="926.0,1054.5 921.4,1050.1 908.5,1050.1 908.5,1058.9 921.4,1058.9" class="b"/>
<polyline points="926.0,1054.5 1038.2,1054.5 1038.2,1202.5"/>
<rect x="1000.4" y="1051.6" width="13.6" height="5.8" class="b"/>
<rect x="948.7" y="1099.7" width="71.8" height="89.5" class="n2"/>
<path d="M975.6 1099.7 A8.8 8.8 0 0 0 993.3 1099.7" class="n"/>
<circle cx="948.7" cy="1117.3" r="6.3" class="b"/>
<text transform="translate(948.7 1117.3) scale(1 1.15)" y="2.3">1</text>
<circle cx="1020.5" cy="1117.3" r="6.3" class="b"/>
<text transform="translate(1020.5 1117.3) scale(1 1.15)" y="2.3">8</text>
<circle cx="948.7" cy="1135.2" r="6.3" class="b"/>
<text transform="translate(948.7 1135.2) scale(1 1.15)" y="2.3">2</text>
<circle cx="1020.5" cy="1135.2" r="6.3" class="b"/>
<text transform="translate(1020.5 1135.2) scale(1 1.15)" y="2.3">7</text>
<circle cx="948.7" cy="1152.9" r="6.3" class="b"/>
<text transform="translate(948.7 1152.9) scale(1 1.15)" y="2.3">3</text>
<circle cx="1020.5" cy="1152.9" r="6.3" class="b"/>
<text transform="translate(1020.5 1152.9) scale(1 1.15)" y="2.3">6</text>
<circle cx="948.7" cy="1171.0" r="6.3" class="b"/>
<text transform="translate(948.7 1171.0) scale(1 1.15)" y="2.3">4</text>
<circle cx="1020.5" cy="1171.0" r="6.3" class="b"/>
<text transform="translate(1020.5 1171.0) scale(1 1.15)" y="2.3">5</text>
<polyline points="940.3,1117.3 942.4,1117.3"/>
<polyline points="940.3,1135.2 942.4,1135.2"/>
<polyline points="940.3,1152.9 942.4,1152.9"/>
<polyline points="955.0,1117.3 982.5,1117.3 982.5,1144.0 978.2,1144.0"/>
<polygon points="960.5,1133.2 960.5,1154.6 978.2,1144.0" class="n2"/>
<polyline points="955.0,1135.2 960.5,1135.2"/>
<polyline points="955.0,1152.9 960.5,1152.9"/>
<text transform="translate(962.8 1136.5) scale(1 1.15)" y="2.3" style="font-size:6px;">-</text>
<text transform="translate(962.8 1150.4) scale(1 1.15)" y="2.3" style="font-size:8.5px;">+</text>
<polygon points="1009.7,1150.9 1009.7,1173.6 991.5,1162.2" class="n2"/>
<polyline points="991.5,1162.2 987.0,1162.2 987.0,1135.2 1014.2,1135.2"/>
<polyline points="1014.2,1152.9 1009.7,1152.9"/>
<polyline points="1014.2,1171.0 1009.7,1171.0"/>
<text transform="translate(1007.2 1154.9) scale(1 1.15)" y="2.3" style="font-size:6px;">-</text>
<text transform="translate(1007.2 1167.8) scale(1 1.15)" y="2.3" style="font-size:8.5px;">+</text>
<polyline points="942.4,1171.0 939.8,1171.0 939.8,1215.7 1128.2,1215.7"/>
<polyline points="984.5,1215.7 984.5,1202.5 1105.5,1202.5"/>
<rect x="1000.4" y="1199.6" width="13.6" height="5.8" class="b"/>
<rect x="1054.6" y="1199.6" width="13.6" height="5.8" class="b"/>
<polyline points="1026.8,1117.3 1164.0,1117.3"/>
<polygon points="1164.0,1117.3 1168.6,1112.9 1181.5,1112.9 1181.5,1121.7 1168.6,1121.7" class="b"/>
<text transform="translate(1200.8 1118.1) scale(1 1.15)" y="2.3">5V</text>
<polyline points="1026.8,1135.2 1105.5,1135.2"/>
<polyline points="1105.5,1202.5 1105.5,1072.7 1164.0,1072.7"/>
<polygon points="1102.0,1184.1 1109.0,1184.1 1105.5,1177.1" class="d"/>
<line x1="1102.0" y1="1177.1" x2="1109.0" y2="1177.1" stroke-width="1.2"/>
<polygon points="1131.7,1069.2 1131.7,1076.2 1124.7,1072.7" class="d"/>
<line x1="1124.7" y1="1069.2" x2="1124.7" y2="1076.2" stroke-width="1.2"/>
<polygon points="1164.0,1072.7 1168.6,1068.3 1181.5,1068.3 1181.5,1077.1 1168.6,1077.1" class="b"/>
<text transform="translate(1181.1 1084.0) scale(1 1.15)" y="2.3">Standby_1</text>
<text transform="translate(1127.7 1084.0) scale(1 1.15)" y="2.3">CD4148WP</text>
<text transform="translate(1127.7 1091.1) scale(1 1.15)" y="2.3">D517</text>
<polyline points="1026.8,1152.9 1083.3,1152.9 1083.3,1260.5 1128.2,1260.5"/>
<rect x="1104.2" y="1258.5" width="3.6" height="4" class="wf"/>
<line x1="1104.2" y1="1256.0" x2="1104.2" y2="1265.0" stroke-width="1.3"/>
<line x1="1107.8" y1="1256.0" x2="1107.8" y2="1265.0" stroke-width="1.3"/>
<polyline points="1026.8,1171.0 1083.3,1171.0"/>
<rect x="1058.8" y="1169.0" width="3.6" height="4" class="wf"/>
<line x1="1058.8" y1="1166.5" x2="1058.8" y2="1175.5" stroke-width="1.3"/>
<line x1="1062.4" y1="1166.5" x2="1062.4" y2="1175.5" stroke-width="1.3"/>
<polyline points="1128.2,1117.3 1128.2,1283.2"/>
<rect x="1126.2" y="1168.8" width="4" height="4.4" class="wf"/>
<line x1="1123.9" y1="1168.8" x2="1132.5" y2="1168.8" stroke-width="1.3"/>
<line x1="1123.9" y1="1173.2" x2="1132.5" y2="1173.2" stroke-width="1.3"/>
<line x1="1121.7" y1="1283.2" x2="1134.7" y2="1283.2"/>
<line x1="1124.2" y1="1283.2" x2="1121.2" y2="1287.7"/>
<line x1="1128.7" y1="1283.2" x2="1125.7" y2="1287.7"/>
<line x1="1133.2" y1="1283.2" x2="1130.2" y2="1287.7"/>
<circle cx="1038.2" cy="1171.0" r="2.2" class="d"/>
<circle cx="1038.2" cy="1202.5" r="2.2" class="d"/>
<circle cx="1083.3" cy="1171.0" r="2.2" class="d"/>
<circle cx="1083.3" cy="1238.4" r="2.2" class="d"/>
<circle cx="1105.5" cy="1135.2" r="2.2" class="d"/>
<circle cx="1128.2" cy="1117.3" r="2.2" class="d"/>
<circle cx="1128.2" cy="1215.7" r="2.2" class="d"/>
<circle cx="1128.2" cy="1238.4" r="2.2" class="d"/>
<circle cx="1128.2" cy="1260.5" r="2.2" class="d"/>
<circle cx="984.5" cy="1215.7" r="2.2" class="d"/>
<text transform="translate(955.5 1241.6) scale(1 1.15)" y="2.3">24VC</text>
<polygon points="980.7,1238.4 976.1,1234.0 963.2,1234.0 963.2,1242.8 976.1,1242.8" class="b"/>
<polyline points="980.7,1238.4 1128.2,1238.4"/>
<rect x="1009.2" y="1235.5" width="13.6" height="5.8" class="b"/>
<rect x="1049.5" y="1235.5" width="13.6" height="5.8" class="b"/>
<rect x="1098.7" y="1235.5" width="13.6" height="5.8" class="b"/>
<text transform="translate(1016.0 1225.7) scale(1 1.15)" y="2.3">R564</text>
<text transform="translate(1016.0 1232.0) scale(1 1.15)" y="2.3">68K</text>
<text transform="translate(1056.3 1224.7) scale(1 1.15)" y="2.3">R568</text>
<text transform="translate(1056.3 1232.0) scale(1 1.15)" y="2.3">3.9K</text>
<text transform="translate(1105.5 1225.7) scale(1 1.15)" y="2.3">R572</text>
<text transform="translate(1105.5 1232.0) scale(1 1.15)" y="2.3">10K</text>
<text transform="translate(1105.0 1245.9) scale(1 1.15)" y="2.3">C551</text>
<text transform="translate(1105.0 1253.0) scale(1 1.15)" y="2.3">100n</text>
<text transform="translate(1060.6 1157.2) scale(1 1.15)" y="2.3">C549</text>
<text transform="translate(1060.6 1163.5) scale(1 1.15)" y="2.3">100n</text>
<text transform="translate(1007.2 1189.9) scale(1 1.15)" y="2.3">R599</text>
<text transform="translate(1007.2 1196.2) scale(1 1.15)" y="2.3">20K</text>
<text transform="translate(1060.6 1189.9) scale(1 1.15)" y="2.3">R569</text>
<text transform="translate(1060.6 1196.2) scale(1 1.15)" y="2.3">10K</text>
<text transform="translate(1090.4 1180.4) rotate(-90) scale(1 1.15)" y="2.3">D516</text>
<text transform="translate(1097.4 1179.9) rotate(-90) scale(1 1.15)" y="2.3">CD4148WP</text>
<text transform="translate(1138.3 1170.5) rotate(-90) scale(1 1.15)" y="2.3">100n</text>
<text transform="translate(1145.1 1170.5) rotate(-90) scale(1 1.15)" y="2.3">C552</text>
<polyline points="1865.1,1054.8 1894.6,1054.8"/>
<polyline points="1894.6,983.1 1894.6,1054.8"/>
<polyline points="1865.1,1072.7 1894.6,1072.7"/>
<polyline points="1865.1,1090.6 1894.6,1090.6"/>
<polyline points="1865.1,1108.5 1894.6,1108.5"/>
<polyline points="1865.1,1126.4 1894.6,1126.4"/>
<polyline points="1865.1,1144.3 1894.6,1144.3"/>
<circle cx="1894.6" cy="1072.7" r="2.2" class="d"/>
<circle cx="1894.6" cy="1090.6" r="2.2" class="d"/>
<circle cx="1894.6" cy="1108.5" r="2.2" class="d"/>
<circle cx="1894.6" cy="1126.4" r="2.2" class="d"/>
<polyline points="1894.6,1072.7 1894.6,1144.3"/>
<polyline points="1894.6,1072.7 1912.5,1072.7"/>
<polygon points="1912.5,1072.7 1917.1,1068.3 1930.0,1068.3 1930.0,1077.1 1917.1,1077.1" class="b"/>
<text transform="translate(1939.4 1072.7) scale(1 1.15)" y="2.3" style="font-size:6.5px;">GND</text>
<polyline points="1865.1,1162.2 1876.4,1162.2"/>
<polyline points="1865.1,1180.1 1876.4,1180.1"/>
<polyline points="1345.2,1054.8 1374.7,1054.8"/>
<polyline points="1374.7,983.1 1374.7,1054.8"/>
<polyline points="1345.2,1072.7 1374.7,1072.7"/>
<polyline points="1345.2,1090.6 1374.7,1090.6"/>
<polyline points="1345.2,1108.5 1374.7,1108.5"/>
<polyline points="1345.2,1126.4 1374.7,1126.4"/>
<polyline points="1345.2,1144.3 1374.7,1144.3"/>
<circle cx="1374.7" cy="1072.7" r="2.2" class="d"/>
<circle cx="1374.7" cy="1090.6" r="2.2" class="d"/>
<circle cx="1374.7" cy="1108.5" r="2.2" class="d"/>
<circle cx="1374.7" cy="1126.4" r="2.2" class="d"/>
<polyline points="1374.7,1072.7 1374.7,1144.3"/>
<polyline points="1374.7,1072.7 1392.6,1072.7"/>
<polygon points="1392.6,1072.7 1397.2,1068.3 1410.1,1068.3 1410.1,1077.1 1397.2,1077.1" class="b"/>
<text transform="translate(1419.5 1072.7) scale(1 1.15)" y="2.3" style="font-size:6.5px;">GND</text>
<polyline points="1345.2,1162.2 1356.5,1162.2"/>
<polyline points="1345.2,1180.1 1356.5,1180.1"/>
<polyline points="1452.8,1054.8 1482.0,1054.8"/>
<polyline points="1482.0,983.1 1482.0,1054.8"/>
<polyline points="1452.8,1072.7 1482.0,1072.7"/>
<polyline points="1452.8,1090.6 1482.0,1090.6"/>
<polyline points="1452.8,1108.5 1482.0,1108.5"/>
<polyline points="1452.8,1126.4 1482.0,1126.4"/>
<polyline points="1452.8,1144.3 1482.0,1144.3"/>
<circle cx="1482.0" cy="1072.7" r="2.2" class="d"/>
<circle cx="1482.0" cy="1090.6" r="2.2" class="d"/>
<circle cx="1482.0" cy="1108.5" r="2.2" class="d"/>
<circle cx="1482.0" cy="1126.4" r="2.2" class="d"/>
<polyline points="1482.0,1072.7 1482.0,1144.3"/>
<polyline points="1482.0,1072.7 1499.9,1072.7"/>
<polygon points="1499.9,1072.7 1504.5,1068.3 1517.4,1068.3 1517.4,1077.1 1504.5,1077.1" class="b"/>
<text transform="translate(1526.8 1072.7) scale(1 1.15)" y="2.3" style="font-size:6.5px;">GND</text>
<polyline points="1452.8,1162.2 1464.1,1162.2"/>
<polyline points="1452.8,1180.1 1464.1,1180.1"/>
<polyline points="1694.8,1014.2 1724.0,1014.2"/>
<polyline points="1724.0,942.6 1724.0,1014.2"/>
<polyline points="1694.8,1032.1 1724.0,1032.1"/>
<polyline points="1694.8,1050.0 1724.0,1050.0"/>
<polyline points="1694.8,1067.9 1724.0,1067.9"/>
<polyline points="1694.8,1085.8 1724.0,1085.8"/>
<polyline points="1694.8,1103.8 1724.0,1103.8"/>
<circle cx="1724.0" cy="1032.1" r="2.2" class="d"/>
<circle cx="1724.0" cy="1050.0" r="2.2" class="d"/>
<circle cx="1724.0" cy="1067.9" r="2.2" class="d"/>
<circle cx="1724.0" cy="1085.8" r="2.2" class="d"/>
<polyline points="1724.0,1032.1 1724.0,1103.8"/>
<polyline points="1724.0,1032.1 1741.9,1032.1"/>
<polygon points="1741.9,1032.1 1746.5,1027.7 1759.4,1027.7 1759.4,1036.5 1746.5,1036.5" class="b"/>
<text transform="translate(1768.4 1032.1) scale(1 1.15)" y="2.3">GND</text>
<polyline points="1694.8,1121.7 1724.0,1121.7"/>
<polygon points="1724.0,1121.7 1728.6,1117.3 1741.5,1117.3 1741.5,1126.1 1728.6,1126.1" class="b"/>
<text transform="translate(1745.7 1123.9) scale(1 1.15)" y="2.3" style="text-anchor:start;font-size:6.5px;">SEL</text>
<polyline points="1694.8,1139.6 1724.0,1139.6"/>
<polygon points="1724.0,1139.6 1728.6,1135.2 1741.5,1135.2 1741.5,1144.0 1728.6,1144.0" class="b"/>
<text transform="translate(1745.7 1141.8) scale(1 1.15)" y="2.3" style="text-anchor:start;font-size:6.5px;">E_PWM</text>
<polyline points="1694.8,1157.5 1724.0,1157.5"/>
<polygon points="1724.0,1157.5 1728.6,1153.1 1741.5,1153.1 1741.5,1161.9 1728.6,1161.9" class="b"/>
<text transform="translate(1745.7 1159.7) scale(1 1.15)" y="2.3" style="text-anchor:start;font-size:6.5px;">PWM</text>
<polyline points="1694.8,1175.4 1724.0,1175.4"/>
<polygon points="1724.0,1175.4 1728.6,1171.0 1741.5,1171.0 1741.5,1179.8 1728.6,1179.8" class="b"/>
<text transform="translate(1745.7 1177.7) scale(1 1.15)" y="2.3" style="text-anchor:start;font-size:6.5px;">ON/OFF</text>
<polyline points="1567.1,1029.4 1567.1,1188.5"/>
<polyline points="1589.2,1047.1 1589.2,1175.3 1567.1,1175.3"/>
<line x1="1560.6" y1="1188.5" x2="1573.6" y2="1188.5"/>
<line x1="1563.1" y1="1188.5" x2="1560.1" y2="1193.0"/>
<line x1="1567.6" y1="1188.5" x2="1564.6" y2="1193.0"/>
<line x1="1572.1" y1="1188.5" x2="1569.1" y2="1193.0"/>
<rect x="1564.2" y="1060.9" width="5.8" height="13.6" class="b"/>
<rect x="1564.2" y="1150.8" width="5.8" height="13.6" class="b"/>
<rect x="1586.3" y="1060.9" width="5.8" height="13.6" class="b"/>
<rect x="1586.3" y="1150.8" width="5.8" height="13.6" class="b"/>
<circle cx="1567.1" cy="1121.6" r="2.2" class="d"/>
<circle cx="1589.2" cy="1121.6" r="2.2" class="d"/>
<circle cx="1567.1" cy="1175.3" r="2.2" class="d"/>
<text transform="translate(1520.2 1122.2) scale(1 1.15)" y="2.3" style="font-size:6.5px;">SEL</text>
<polygon points="1549.4,1121.6 1544.8,1117.2 1531.9,1117.2 1531.9,1126.0 1544.8,1126.0" class="b"/>
<polyline points="1549.4,1121.6 1567.1,1121.6"/>
<polyline points="1589.2,1121.6 1607.8,1121.6"/>
<polygon points="1607.8,1121.6 1612.4,1117.2 1625.3,1117.2 1625.3,1126.0 1612.4,1126.0" class="b"/>
<text transform="translate(1640.2 1123.7) scale(1 1.15)" y="2.3" style="font-size:6.5px;">E_PWM</text>
<text transform="translate(1554.7 1067.7) rotate(-90) scale(1 1.15)" y="2.3">R591</text>
<text transform="translate(1560.9 1067.7) rotate(-90) scale(1 1.15)" y="2.3">100</text>
<text transform="translate(1576.8 1067.7) rotate(-90) scale(1 1.15)" y="2.3">R594</text>
<text transform="translate(1583.0 1067.7) rotate(-90) scale(1 1.15)" y="2.3">100</text>
<text transform="translate(1554.7 1157.6) rotate(-90) scale(1 1.15)" y="2.3">R592</text>
<text transform="translate(1560.9 1157.6) rotate(-90) scale(1 1.15)" y="2.3">100</text>
<text transform="translate(1576.8 1157.6) rotate(-90) scale(1 1.15)" y="2.3">R593</text>
<text transform="translate(1583.0 1157.6) rotate(-90) scale(1 1.15)" y="2.3">100</text>
<text x="1830" y="1302" style="font-family:'Liberation Sans',sans-serif;font-size:19.8px;fill:#000;stroke:none">POWER</text>
<text x="1573" y="1351.5" textLength="312" lengthAdjust="spacingAndGlyphs" style="font-family:'Liberation Serif',serif;font-weight:bold;font-size:35px;fill:#000;stroke:none">www.520101.com</text>
<polyline points="1429.1,1274.1 1432.1,1279.4" stroke="#000" stroke-width="3.5" stroke-linecap="round" stroke-linejoin="round"/>
<polyline points="1417.6,1287.3 1418.5,1282.0 1441.4,1278.5 1437.9,1284.7" stroke="#000" stroke-width="3.5" stroke-linecap="round" stroke-linejoin="round"/>
<polyline points="1422.9,1289.6 1437.0,1286.8" stroke="#000" stroke-width="3.5" stroke-linecap="round" stroke-linejoin="round"/>
<polyline points="1431.4,1288.2 1424.7,1295.3 1429.1,1297.9 1430.3,1307.6 1424.7,1312.0" stroke="#000" stroke-width="3.5" stroke-linecap="round" stroke-linejoin="round"/>
<polyline points="1424.7,1296.1 1416.8,1304.1" stroke="#000" stroke-width="3.5" stroke-linecap="round" stroke-linejoin="round"/>
<polyline points="1426.8,1302.0 1416.8,1311.5" stroke="#000" stroke-width="3.5" stroke-linecap="round" stroke-linejoin="round"/>
<polyline points="1432.1,1295.3 1439.7,1290.9" stroke="#000" stroke-width="3.5" stroke-linecap="round" stroke-linejoin="round"/>
<polyline points="1432.1,1300.2 1442.0,1307.3" stroke="#000" stroke-width="3.5" stroke-linecap="round" stroke-linejoin="round"/>
<polyline points="1464.4,1286.5 1463.5,1300.2" stroke="#000" stroke-width="3.5" stroke-linecap="round" stroke-linejoin="round"/>
<polyline points="1464.4,1286.5 1482.9,1282.9 1482.0,1297.4" stroke="#000" stroke-width="3.5" stroke-linecap="round" stroke-linejoin="round"/>
<polyline points="1464.4,1293.2 1482.0,1290.3" stroke="#000" stroke-width="3.5" stroke-linecap="round" stroke-linejoin="round"/>
<polyline points="1463.5,1300.2 1482.0,1297.4" stroke="#000" stroke-width="3.5" stroke-linecap="round" stroke-linejoin="round"/>
<polyline points="1473.2,1278.5 1472.3,1304.1 1477.6,1308.5 1486.4,1305.8" stroke="#000" stroke-width="3.5" stroke-linecap="round" stroke-linejoin="round"/>
<polyline points="1519.9,1276.8 1512.9,1286.5 1519.0,1288.2 1510.2,1297.9 1520.3,1296.1" stroke="#000" stroke-width="3.5" stroke-linecap="round" stroke-linejoin="round"/>
<polyline points="1509.3,1306.2 1520.3,1302.3" stroke="#000" stroke-width="3.5" stroke-linecap="round" stroke-linejoin="round"/>
<polyline points="1514.6,1298.8 1514.6,1311.1" stroke="#000" stroke-width="3.5" stroke-linecap="round" stroke-linejoin="round"/>
<polyline points="1530.8,1275.9 1523.8,1286.5" stroke="#000" stroke-width="3.5" stroke-linecap="round" stroke-linejoin="round"/>
<polyline points="1526.3,1284.7 1526.3,1311.1" stroke="#000" stroke-width="3.5" stroke-linecap="round" stroke-linejoin="round"/>
<polyline points="1526.3,1288.6 1536.7,1286.5" stroke="#000" stroke-width="3.5" stroke-linecap="round" stroke-linejoin="round"/>
<polyline points="1526.3,1295.6 1535.8,1293.5" stroke="#000" stroke-width="3.5" stroke-linecap="round" stroke-linejoin="round"/>
<polyline points="1526.3,1302.7 1535.8,1300.6" stroke="#000" stroke-width="3.5" stroke-linecap="round" stroke-linejoin="round"/>
<polyline points="1526.3,1309.7 1537.9,1307.6" stroke="#000" stroke-width="3.5" stroke-linecap="round" stroke-linejoin="round"/>
<polyline points="1531.5,1286.5 1531.5,1309.4" stroke="#000" stroke-width="3.5" stroke-linecap="round" stroke-linejoin="round"/>
<polyline points="1562.2,1275.9 1552.5,1295.3" stroke="#000" stroke-width="3.5" stroke-linecap="round" stroke-linejoin="round"/>
<polyline points="1557.8,1286.5 1558.7,1309.4" stroke="#000" stroke-width="3.5" stroke-linecap="round" stroke-linejoin="round"/>
<polyline points="1565.1,1286.5 1565.1,1302.3" stroke="#000" stroke-width="3.5" stroke-linecap="round" stroke-linejoin="round"/>
<polyline points="1576.3,1271.5 1569.3,1282.9" stroke="#000" stroke-width="3.5" stroke-linecap="round" stroke-linejoin="round"/>
<polyline points="1573.7,1277.6 1585.2,1284.7 1576.3,1290.3" stroke="#000" stroke-width="3.5" stroke-linecap="round" stroke-linejoin="round"/>
<polyline points="1579.9,1288.6 1569.3,1297.4" stroke="#000" stroke-width="3.5" stroke-linecap="round" stroke-linejoin="round"/>
<polyline points="1583.4,1295.6 1571.0,1306.2" stroke="#000" stroke-width="3.5" stroke-linecap="round" stroke-linejoin="round"/>
<polyline points="1585.2,1302.7 1574.6,1314.7" stroke="#000" stroke-width="3.5" stroke-linecap="round" stroke-linejoin="round"/>
<polyline points="1608.1,1275.9 1612.0,1279.7" stroke="#000" stroke-width="3.5" stroke-linecap="round" stroke-linejoin="round"/>
<polyline points="1607.2,1288.6 1614.2,1282.9" stroke="#000" stroke-width="3.5" stroke-linecap="round" stroke-linejoin="round"/>
<polyline points="1622.2,1270.6 1616.9,1279.4" stroke="#000" stroke-width="3.5" stroke-linecap="round" stroke-linejoin="round"/>
<polyline points="1619.5,1276.8 1629.2,1275.0 1623.9,1282.9" stroke="#000" stroke-width="3.5" stroke-linecap="round" stroke-linejoin="round"/>
<polyline points="1623.1,1281.5 1628.7,1288.2" stroke="#000" stroke-width="3.5" stroke-linecap="round" stroke-linejoin="round"/>
<polyline points="1611.6,1291.7 1611.6,1307.6" stroke="#000" stroke-width="3.5" stroke-linecap="round" stroke-linejoin="round"/>
<polyline points="1611.6,1291.7 1623.9,1290.0 1623.1,1306.7" stroke="#000" stroke-width="3.5" stroke-linecap="round" stroke-linejoin="round"/>
<polyline points="1617.8,1295.3 1617.8,1305.8" stroke="#000" stroke-width="3.5" stroke-linecap="round" stroke-linejoin="round"/>
<polyline points="1611.6,1299.7 1623.2,1298.4" stroke="#000" stroke-width="3.5" stroke-linecap="round" stroke-linejoin="round"/>
<polyline points="1611.6,1307.3 1623.2,1306.2" stroke="#000" stroke-width="3.5" stroke-linecap="round" stroke-linejoin="round"/>
<polyline points="1615.5,1308.5 1609.0,1315.5" stroke="#000" stroke-width="3.5" stroke-linecap="round" stroke-linejoin="round"/>
<polyline points="1619.5,1308.5 1624.3,1316.4" stroke="#000" stroke-width="3.5" stroke-linecap="round" stroke-linejoin="round"/>
<polyline points="1655.7,1278.5 1655.7,1311.5" stroke="#000" stroke-width="3.5" stroke-linecap="round" stroke-linejoin="round"/>
<polyline points="1647.8,1291.7 1664.5,1289.1" stroke="#000" stroke-width="3.5" stroke-linecap="round" stroke-linejoin="round"/>
<polyline points="1649.5,1281.2 1653.2,1286.5" stroke="#000" stroke-width="3.5" stroke-linecap="round" stroke-linejoin="round"/>
<polyline points="1662.7,1280.3 1658.5,1286.5" stroke="#000" stroke-width="3.5" stroke-linecap="round" stroke-linejoin="round"/>
<polyline points="1654.8,1293.9 1646.9,1305.8" stroke="#000" stroke-width="3.5" stroke-linecap="round" stroke-linejoin="round"/>
<polyline points="1656.7,1293.9 1663.8,1300.6" stroke="#000" stroke-width="3.5" stroke-linecap="round" stroke-linejoin="round"/>
<polyline points="1668.0,1281.2 1670.9,1284.7" stroke="#000" stroke-width="3.5" stroke-linecap="round" stroke-linejoin="round"/>
<polyline points="1666.3,1290.0 1670.0,1293.5" stroke="#000" stroke-width="3.5" stroke-linecap="round" stroke-linejoin="round"/>
<polyline points="1663.6,1301.6 1680.7,1295.3" stroke="#000" stroke-width="3.5" stroke-linecap="round" stroke-linejoin="round"/>
<polyline points="1675.1,1275.0 1674.4,1314.7" stroke="#000" stroke-width="3.5" stroke-linecap="round" stroke-linejoin="round"/>
<polyline points="1698.0,1282.9 1696.2,1309.7" stroke="#000" stroke-width="3.5" stroke-linecap="round" stroke-linejoin="round"/>
<polyline points="1698.0,1282.9 1724.5,1278.5 1726.2,1309.7 1721.8,1312.2" stroke="#000" stroke-width="3.5" stroke-linecap="round" stroke-linejoin="round"/>
<polyline points="1703.3,1288.2 1710.4,1302.3" stroke="#000" stroke-width="3.5" stroke-linecap="round" stroke-linejoin="round"/>
<polyline points="1710.7,1288.2 1702.4,1304.1" stroke="#000" stroke-width="3.5" stroke-linecap="round" stroke-linejoin="round"/>
<polyline points="1714.9,1286.5 1721.3,1300.6" stroke="#000" stroke-width="3.5" stroke-linecap="round" stroke-linejoin="round"/>
<polyline points="1722.0,1286.5 1713.9,1302.3" stroke="#000" stroke-width="3.5" stroke-linecap="round" stroke-linejoin="round"/>
<text transform="translate(491.5 116.4) scale(1 1.15)" y="2.3">L506</text>
<rect x="489.0" y="125.4" width="6.4" height="4" class="wf"/>
<polyline points="487.7,126.9 488.7,126.9 488.7,123.7 495.4,123.7 495.4,126.9 496.7,126.9"/>
<polyline points="488.7,126.9 488.7,130.5"/>
<polyline points="495.4,126.9 495.4,130.5"/>
<text transform="translate(477.8 167.7) rotate(-90) scale(1 1.15)" y="2.3">C574</text>
<text transform="translate(484.5 167.7) rotate(-90) scale(1 1.15)" y="2.3">470p</text>
<text transform="translate(499.2 167.1) rotate(-90) scale(1 1.15)" y="2.3">1KV</text>
</svg></body></html>
